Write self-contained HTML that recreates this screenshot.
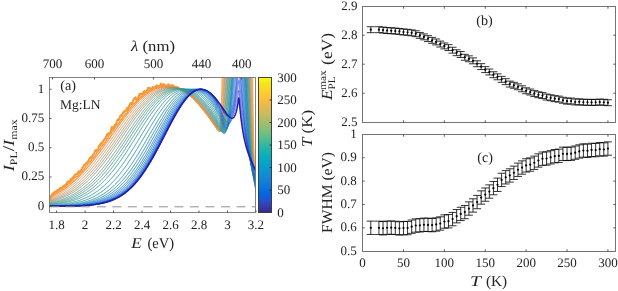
<!DOCTYPE html><html><head><meta charset="utf-8"><style>html,body{margin:0;padding:0;background:#fff;width:618px;height:291px;overflow:hidden}svg{display:block;will-change:transform}text{font-family:"Liberation Serif",serif;fill:#222;text-rendering:geometricPrecision}</style></head><body>
<svg width="618" height="291" viewBox="0 0 618 291">
<defs><clipPath id="ca"><rect x="49.50" y="77.00" width="206.50" height="135.50"/></clipPath>
<linearGradient id="cbg" x1="0" y1="1" x2="0" y2="0">
<stop offset="0.000" stop-color="#352a87"/>
<stop offset="0.048" stop-color="#353dad"/>
<stop offset="0.095" stop-color="#2053d4"/>
<stop offset="0.143" stop-color="#0268e1"/>
<stop offset="0.190" stop-color="#0d75dc"/>
<stop offset="0.238" stop-color="#1481d6"/>
<stop offset="0.286" stop-color="#108ed2"/>
<stop offset="0.333" stop-color="#079ccf"/>
<stop offset="0.381" stop-color="#06a7c6"/>
<stop offset="0.429" stop-color="#0faeb9"/>
<stop offset="0.476" stop-color="#25b5a9"/>
<stop offset="0.524" stop-color="#42bb98"/>
<stop offset="0.571" stop-color="#65be86"/>
<stop offset="0.619" stop-color="#87bf77"/>
<stop offset="0.667" stop-color="#a5be6b"/>
<stop offset="0.714" stop-color="#c0bc60"/>
<stop offset="0.762" stop-color="#d9ba56"/>
<stop offset="0.810" stop-color="#f1b94a"/>
<stop offset="0.857" stop-color="#ffc337"/>
<stop offset="0.905" stop-color="#fad32a"/>
<stop offset="0.952" stop-color="#f5e41d"/>
<stop offset="1.000" stop-color="#f9fb0e"/>
<stop offset="1" stop-color="#f9fb0e"/>
</linearGradient></defs>
<g clip-path="url(#ca)"><polyline fill="none" stroke="#f7992e" stroke-width="2.00" stroke-linejoin="round" points="49.48,199.28 49.83,198.31 50.17,197.49 50.52,196.79 50.86,196.17 51.21,195.63 51.56,195.12 51.90,194.67 52.25,194.28 52.59,193.96 52.94,193.57 53.28,193.22 53.63,192.82 53.98,192.47 54.32,192.25 54.67,192.06 55.01,192.00 55.36,191.70 55.71,191.51 56.05,191.33 56.40,191.00 56.74,190.73 57.09,190.38 57.44,190.13 57.78,189.94 58.13,189.79 58.47,189.60 58.82,189.34 59.17,189.05 59.51,188.80 59.86,188.32 60.20,188.12 60.55,187.92 60.89,187.86 61.24,188.18 61.59,187.91 61.93,187.73 62.28,187.22 62.62,186.65 62.97,186.49 63.32,185.98 63.66,185.95 64.01,185.94 64.35,185.52 64.70,185.46 65.05,185.29 65.39,184.72 65.74,184.74 66.08,184.41 66.43,183.79 66.77,183.36 67.12,182.42 67.47,181.85 67.81,181.44 68.16,181.53 68.50,181.28 68.85,181.60 69.20,181.75 69.54,181.63 69.89,181.29 70.23,180.27 70.58,179.86 70.93,178.68 71.27,178.76 71.62,178.71 71.96,178.30 72.31,178.68 72.66,178.08 73.00,177.29 73.35,177.26 73.69,176.40 74.04,176.21 74.38,175.91 74.73,175.15 75.08,174.86 75.42,174.27 75.77,174.35 76.11,174.53 76.46,173.97 76.81,174.21 77.15,173.86 77.50,172.89 77.84,173.21 78.19,172.38 78.54,171.71 78.88,171.54 79.23,171.18 79.57,171.82 79.92,172.16 80.26,171.99 80.61,171.50 80.96,170.46 81.30,169.62 81.65,169.23 81.99,168.70 82.34,167.73 82.69,167.78 83.03,167.28 83.38,166.04 83.72,165.56 84.07,165.32 84.42,164.82 84.76,165.02 85.11,164.47 85.45,163.49 85.80,163.25 86.15,163.35 86.49,163.17 86.84,162.69 87.18,162.26 87.53,161.61 87.87,161.63 88.22,161.03 88.57,160.68 88.91,159.96 89.26,158.97 89.60,158.64 89.95,158.26 90.30,157.44 90.64,157.68 90.99,157.27 91.33,156.78 91.68,157.77 92.03,156.91 92.37,156.53 92.72,155.77 93.06,154.37 93.41,154.33 93.75,154.35 94.10,153.94 94.45,152.72 94.79,151.58 95.14,151.02 95.48,150.22 95.83,150.87 96.18,151.00 96.52,149.89 96.87,149.94 97.21,150.03 97.56,149.77 97.91,149.66 98.25,148.89 98.60,147.05 98.94,146.49 99.29,145.72 99.63,145.11 99.98,145.28 100.33,144.08 100.67,143.72 101.02,143.84 101.36,142.80 101.71,143.28 102.06,143.00 102.40,142.12 102.75,141.94 103.09,141.23 103.44,140.79 103.79,140.38 104.13,139.63 104.48,139.18 104.82,138.65 105.17,138.22 105.52,138.81 105.86,136.71 106.21,136.29 106.55,136.38 106.90,134.63 107.24,135.90 107.59,135.21 107.94,133.63 108.28,134.10 108.63,133.32 108.97,133.26 109.32,133.25 109.67,133.22 110.01,133.11 110.36,132.44 110.70,131.42 111.05,129.88 111.40,128.01 111.74,127.14 112.09,127.39 112.43,127.26 112.78,128.54 113.12,128.84 113.47,128.60 113.82,127.94 114.16,126.21 114.51,125.55 114.85,124.87 115.20,125.25 115.55,125.14 115.89,124.29 116.24,123.34 116.58,122.51 116.93,121.06 117.28,120.15 117.62,119.94 117.97,119.35 118.31,119.97 118.66,120.00 119.01,119.51 119.35,118.58 119.70,117.61 120.04,116.59 120.39,115.59 120.73,115.42 121.08,115.14 121.43,115.52 121.77,115.88 122.12,114.49 122.46,114.45 122.81,112.90 123.16,112.35 123.50,112.69 123.85,111.53 124.19,112.01 124.54,111.24 124.89,111.04 125.23,111.35 125.58,111.01 125.92,111.08 126.27,109.79 126.61,109.23 126.96,107.93 127.31,108.47 127.65,108.82 128.00,108.07 128.34,108.61 128.69,106.44 129.04,105.76 129.38,105.75 129.73,105.02 130.07,103.83 130.42,103.62 130.77,102.97 131.11,103.00 131.46,103.87 131.80,104.22 132.15,104.08 132.50,102.36 132.84,101.55 133.19,100.29 133.53,99.32 133.88,99.23 134.22,99.10 134.57,98.09 134.92,97.76 135.26,98.21 135.61,97.35 135.95,99.08 136.30,99.52 136.65,99.14 136.99,100.05 137.34,98.70 137.68,98.41 138.03,98.53 138.38,96.52 138.72,95.85 139.07,95.27 139.41,94.05 139.76,95.13 140.10,94.72 140.45,94.24 140.80,93.81 141.14,94.08 141.49,93.86 141.83,93.69 142.18,94.72 142.53,93.30 142.87,93.80 143.22,92.84 143.56,91.81 143.91,91.73 144.26,91.04 144.60,91.13 144.95,92.01 145.29,92.06 145.64,92.17 145.99,92.23 146.33,91.16 146.68,90.69 147.02,90.57 147.37,89.64 147.71,88.33 148.06,88.51 148.41,87.93 148.75,88.47 149.10,88.77 149.44,87.60 149.79,87.98 150.14,88.23 150.48,89.14 150.83,90.38 151.17,90.42 151.52,89.81 151.87,89.70 152.21,88.32 152.56,86.99 152.90,87.50 153.25,87.30 153.59,88.16 153.94,87.80 154.29,87.59 154.63,87.68 154.98,87.30 155.32,87.67 155.67,87.47 156.02,85.92 156.36,85.68 156.71,85.55 157.05,85.55 157.40,86.24 157.75,86.34 158.09,87.54 158.44,86.93 158.78,87.68 159.13,87.55 159.48,87.11 159.82,86.24 160.17,85.20 160.51,84.73 160.86,83.56 161.20,85.08 161.55,86.26 161.90,86.79 162.24,86.76 162.59,86.07 162.93,84.61 163.28,84.00 163.63,85.10 163.97,84.99 164.32,84.43 164.66,85.13 165.01,85.37 165.36,85.61 165.70,86.75 166.05,86.29 166.39,85.76 166.74,85.62 167.08,86.45 167.43,86.27 167.78,85.13 168.12,84.58 168.47,84.28 168.81,84.56 169.16,86.74 169.51,87.25 169.85,86.62 170.20,87.28 170.54,85.77 170.89,85.90 171.24,85.49 171.58,85.03 171.93,85.15 172.27,86.19 172.62,87.24 172.97,87.59 173.31,87.64 173.66,86.84"/><polyline fill="none" stroke="#f7992e" stroke-width="1.10" stroke-linejoin="round" points="173.66,86.84 174.00,85.73 174.35,86.01 174.69,86.36 175.04,86.35 175.39,87.23 175.73,86.75 176.08,87.01 176.42,86.64 176.77,86.82 177.12,86.70 177.46,86.62 177.81,86.75 178.15,87.35 178.50,87.75 178.85,88.07 179.19,88.72 179.54,87.89 179.88,88.70 180.23,89.21 180.57,89.83 180.92,90.34 181.27,90.77 181.61,90.45 181.96,90.74 182.30,91.39 182.65,91.07 183.00,91.18 183.34,91.18 183.69,91.19 184.03,91.31 184.38,91.73 184.73,92.54 185.07,92.74 185.42,92.93 185.76,92.79 186.11,91.82 186.46,91.83 186.80,92.12 187.15,92.90 187.49,93.63 187.84,93.88 188.18,93.91 188.53,94.18 188.88,94.45 189.22,94.74 189.57,94.94 189.91,95.04 190.26,95.50 190.61,96.09 190.95,96.78 191.30,97.24 191.64,97.33 191.99,97.39 192.34,97.57 192.68,97.65 193.03,98.18 193.37,98.63 193.72,99.12 194.06,99.61 194.41,99.77 194.76,100.17 195.10,100.69 195.45,101.09 195.79,101.64 196.14,102.13 196.49,102.40 196.83,102.66 197.18,102.84 197.52,103.14 197.87,103.40 198.22,103.79 198.56,104.39 198.91,104.76 199.25,105.23 199.60,105.69 199.94,106.12 200.29,106.54 200.64,106.89 200.98,107.26 201.33,107.52 201.67,107.95 202.02,108.35 202.37,108.82 202.71,109.37 203.06,109.77 203.40,110.28 203.75,110.72 204.10,111.13 204.44,111.56 204.79,111.99 205.13,112.46 205.48,112.89 205.83,113.37 206.17,113.84 206.52,114.26 206.86,114.75 207.21,115.23 207.55,115.70 207.90,116.20 208.25,116.67 208.59,117.10 208.94,117.58 209.28,118.03 209.63,118.52 209.98,119.02 210.32,119.47 210.67,119.94 211.01,120.42 211.36,120.90 211.71,121.40 212.05,121.90 212.40,122.39 212.74,122.89 213.09,123.37 213.43,123.85 213.78,124.34 214.13,124.84 214.47,125.34 214.82,125.84 215.16,126.35 215.51,126.85 215.86,127.36 216.20,127.87 216.55,128.39 216.89,128.91 217.24,129.43 217.59,129.93"/><polyline fill="none" stroke="#f7992e" stroke-width="0.75" stroke-linejoin="round" points="217.59,129.93 217.93,130.40 218.28,130.79 218.62,131.04 218.97,131.04 219.32,130.61 219.66,129.53 220.01,127.51 220.35,124.20 220.70,119.22 221.04,112.17 221.39,102.69 221.74,90.49 222.08,75.37 222.43,57.27 222.77,54.23 223.12,54.23 223.47,54.23 223.81,54.23 224.16,54.23 224.50,54.23 224.85,54.23 225.20,54.23 225.54,54.23 225.89,54.23 226.23,54.23 226.58,54.23 226.92,54.23 227.27,54.23 227.62,54.23 227.96,54.23 228.31,54.23 228.65,54.23 229.00,54.23 229.35,54.23 229.69,54.23 230.04,54.23 230.38,54.23 230.73,54.23 231.08,54.23 231.42,54.23 231.77,54.23 232.11,54.23 232.46,54.23 232.81,54.23 233.15,54.23 233.50,54.23 233.84,54.23 234.19,54.23 234.53,54.23 234.88,54.23 235.23,54.23 235.57,54.23 235.92,54.23 236.26,54.23 236.61,54.23 236.96,54.23 237.30,54.23 237.65,54.23 237.99,54.23 238.34,54.23 238.69,54.23 239.03,54.23 239.38,54.23 239.72,54.23 240.07,54.23 240.41,54.23 240.76,54.23 241.11,54.23 241.45,54.23 241.80,54.23 242.14,54.23 242.49,54.23 242.84,54.23 243.18,54.23 243.53,54.23 243.87,54.23 244.22,54.23 244.57,54.23 244.91,54.23 245.26,54.23 245.60,54.23 245.95,54.23 246.30,54.23 246.64,54.23 246.99,54.23 247.33,54.23 247.68,54.23 248.02,54.23 248.37,54.23 248.72,54.23 249.06,54.23 249.41,54.23 249.75,54.23 250.10,54.23 250.45,54.23 250.79,54.23 251.14,54.23 251.48,54.23 251.83,54.23 252.18,54.23 252.52,63.79 252.87,90.48 253.21,113.25 253.56,131.95 253.90,146.68 254.25,157.78 254.60,165.76 254.94,171.23 255.29,174.82 255.63,177.07 255.98,178.47 256.33,179.34 256.67,179.92"/><polyline fill="none" stroke="#f4993f" stroke-width="1.40" stroke-linejoin="round" points="49.48,199.95 49.83,199.12 50.17,198.39 50.52,197.78 50.86,197.24 51.21,196.74 51.56,196.31 51.90,195.89 52.25,195.56 52.59,195.24 52.94,194.94 53.28,194.66 53.63,194.38 53.98,194.11 54.32,193.83 54.67,193.58 55.01,193.29 55.36,193.03 55.71,192.79 56.05,192.56 56.40,192.39 56.74,192.25 57.09,192.11 57.44,191.88 57.78,191.60 58.13,191.38 58.47,191.15 58.82,191.02 59.17,190.78 59.51,190.56 59.86,190.32 60.20,190.07 60.55,189.96 60.89,189.75 61.24,189.41 61.59,189.09 61.93,188.84 62.28,188.62 62.62,188.59 62.97,188.33 63.32,187.91 63.66,187.71 64.01,187.49 64.35,187.31 64.70,187.30 65.05,187.07 65.39,186.72 65.74,186.36 66.08,186.20 66.43,185.73 66.77,185.35 67.12,185.05 67.47,184.63 67.81,184.08 68.16,183.85 68.50,183.79 68.85,183.32 69.20,183.48 69.54,183.15 69.89,182.92 70.23,182.66 70.58,182.28 70.93,181.95 71.27,181.35 71.62,181.09 71.96,180.68 72.31,180.37 72.66,180.46 73.00,180.15 73.35,179.78 73.69,179.54 74.04,178.78 74.38,177.90 74.73,177.61 75.08,177.22 75.42,177.00 75.77,177.04 76.11,177.08 76.46,176.58 76.81,176.39 77.15,176.77 77.50,176.25 77.84,176.27 78.19,175.76 78.54,174.97 78.88,174.24 79.23,173.85 79.57,173.54 79.92,173.61 80.26,173.32 80.61,172.74 80.96,172.44 81.30,172.02 81.65,172.04 81.99,171.53 82.34,171.19 82.69,170.54 83.03,170.04 83.38,169.89 83.72,169.50 84.07,169.16 84.42,168.93 84.76,168.73 85.11,167.96 85.45,167.38 85.80,166.39 86.15,165.91 86.49,165.72 86.84,165.22 87.18,165.03 87.53,164.39 87.87,163.89 88.22,163.67 88.57,163.22 88.91,163.10 89.26,162.67 89.60,162.04 89.95,161.53 90.30,161.50 90.64,161.10 90.99,160.34 91.33,160.41 91.68,159.09 92.03,158.67 92.37,158.68 92.72,158.37 93.06,158.08 93.41,158.00 93.75,157.65 94.10,156.51 94.45,156.68 94.79,156.23 95.14,155.97 95.48,155.71 95.83,154.78 96.18,153.92 96.52,153.00 96.87,152.61 97.21,152.28 97.56,152.14 97.91,151.21 98.25,150.59 98.60,150.74 98.94,150.38 99.29,150.03 99.63,150.01 99.98,149.10 100.33,148.20 100.67,148.51 101.02,147.33 101.36,146.23 101.71,146.12 102.06,144.99 102.40,145.08 102.75,145.39 103.09,144.60 103.44,144.38 103.79,143.81 104.13,142.79 104.48,142.81 104.82,142.65 105.17,142.30 105.52,141.85 105.86,140.70 106.21,139.77 106.55,139.35 106.90,139.04 107.24,138.66 107.59,138.84 107.94,138.22 108.28,137.58 108.63,137.02 108.97,135.99 109.32,135.10 109.67,134.71 110.01,134.39 110.36,134.01 110.70,133.93 111.05,133.61 111.40,133.29 111.74,132.09 112.09,131.28 112.43,130.72 112.78,130.19 113.12,130.42 113.47,130.09 113.82,129.44 114.16,128.90 114.51,128.15 114.85,127.79 115.20,127.37 115.55,126.62 115.89,126.72 116.24,125.99 116.58,125.54 116.93,125.42 117.28,124.75 117.62,124.86 117.97,124.13 118.31,123.83 118.66,123.58 119.01,122.37 119.35,122.78 119.70,121.75 120.04,120.80 120.39,120.35 120.73,119.40 121.08,119.58 121.43,119.79 121.77,119.09 122.12,118.72 122.46,118.06 122.81,116.59 123.16,116.75 123.50,116.23 123.85,115.70 124.19,115.76 124.54,115.43 124.89,115.08 125.23,114.20 125.58,113.50 125.92,113.63 126.27,113.60 126.61,113.45 126.96,113.27 127.31,112.09 127.65,110.79 128.00,110.98 128.34,110.18 128.69,109.61 129.04,109.34 129.38,108.33 129.73,108.03 130.07,107.73 130.42,107.65 130.77,107.09 131.11,106.89 131.46,106.78 131.80,105.84 132.15,105.32 132.50,104.57 132.84,103.79 133.19,103.70 133.53,103.79 133.88,104.12 134.22,103.75 134.57,103.43 134.92,103.15 135.26,101.97 135.61,102.10 135.95,102.03 136.30,101.68 136.65,101.49 136.99,100.75 137.34,100.26 137.68,99.98 138.03,100.25 138.38,100.22 138.72,99.50 139.07,98.74 139.41,97.91 139.76,97.40 140.10,96.65 140.45,96.81 140.80,97.39 141.14,96.98 141.49,97.37 141.83,96.57 142.18,95.98 142.53,95.43 142.87,94.69 143.22,94.88 143.56,94.52 143.91,94.92 144.26,95.08 144.60,94.32 144.95,93.62 145.29,92.62 145.64,92.03 145.99,91.99 146.33,91.70 146.68,91.98 147.02,92.39 147.37,92.12 147.71,92.42 148.06,91.75 148.41,90.90 148.75,90.64 149.10,90.40 149.44,90.58 149.79,90.38 150.14,90.54 150.48,90.10 150.83,89.77 151.17,89.97 151.52,89.24 151.87,89.25 152.21,89.41 152.56,88.84 152.90,88.93 153.25,88.40 153.59,87.84 153.94,87.89 154.29,87.44 154.63,87.11 154.98,87.05 155.32,87.25 155.67,87.37 156.02,87.59 156.36,87.22 156.71,87.21 157.05,87.90 157.40,87.72 157.75,87.55 158.09,87.06 158.44,85.80 158.78,85.60 159.13,85.85 159.48,85.67 159.82,86.10 160.17,85.91 160.51,85.66 160.86,85.75 161.20,85.60 161.55,85.90 161.90,86.35 162.24,86.42 162.59,87.10 162.93,86.93 163.28,86.17 163.63,85.55 163.97,84.75 164.32,85.08 164.66,85.81 165.01,85.83 165.36,86.34 165.70,85.86 166.05,86.06 166.39,86.64 166.74,86.02 167.08,86.18 167.43,85.53 167.78,85.76 168.12,86.23 168.47,86.05 168.81,85.92 169.16,85.75 169.51,85.45 169.85,86.04 170.20,85.91 170.54,85.53 170.89,85.86 171.24,85.60 171.58,85.65 171.93,86.25 172.27,85.50 172.62,85.16 172.97,85.61 173.31,85.22 173.66,85.41"/><polyline fill="none" stroke="#f4993f" stroke-width="1.10" stroke-linejoin="round" points="173.66,85.41 174.00,86.28 174.35,86.11 174.69,86.52 175.04,87.14 175.39,86.70 175.73,87.11 176.08,87.55 176.42,87.99 176.77,88.29 177.12,88.12 177.46,87.88 177.81,87.68 178.15,87.83 178.50,87.80 178.85,87.82 179.19,88.12 179.54,88.34 179.88,88.53 180.23,88.95 180.57,89.04 180.92,89.16 181.27,89.84 181.61,89.69 181.96,90.26 182.30,90.14 182.65,90.20 183.00,90.84 183.34,90.55 183.69,91.37 184.03,91.39 184.38,91.23 184.73,91.61 185.07,91.61 185.42,91.78 185.76,92.26 186.11,92.41 186.46,92.54 186.80,92.71 187.15,92.95 187.49,93.21 187.84,93.38 188.18,94.22 188.53,94.45 188.88,94.98 189.22,95.61 189.57,95.34 189.91,95.57 190.26,95.48 190.61,95.62 190.95,96.09 191.30,96.47 191.64,96.99 191.99,97.29 192.34,97.65 192.68,97.80 193.03,98.11 193.37,98.41 193.72,98.79 194.06,99.24 194.41,99.67 194.76,99.97 195.10,100.34 195.45,100.70 195.79,101.00 196.14,101.37 196.49,101.68 196.83,102.06 197.18,102.42 197.52,102.84 197.87,103.22 198.22,103.59 198.56,103.93 198.91,104.28 199.25,104.70 199.60,105.17 199.94,105.56 200.29,105.96 200.64,106.41 200.98,106.80 201.33,107.33 201.67,107.78 202.02,108.22 202.37,108.59 202.71,109.03 203.06,109.47 203.40,109.87 203.75,110.35 204.10,110.76 204.44,111.20 204.79,111.67 205.13,112.11 205.48,112.55 205.83,113.02 206.17,113.47 206.52,113.91 206.86,114.37 207.21,114.83 207.55,115.30 207.90,115.76 208.25,116.24 208.59,116.71 208.94,117.20 209.28,117.68 209.63,118.16 209.98,118.64 210.32,119.10 210.67,119.58 211.01,120.06 211.36,120.54 211.71,121.03 212.05,121.51 212.40,122.01 212.74,122.51 213.09,123.00 213.43,123.49 213.78,123.99 214.13,124.48 214.47,124.99 214.82,125.50 215.16,126.01 215.51,126.52 215.86,127.04 216.20,127.56 216.55,128.09 216.89,128.61 217.24,129.15 217.59,129.67"/><polyline fill="none" stroke="#f4993f" stroke-width="0.75" stroke-linejoin="round" points="217.59,129.67 217.93,130.19 218.28,130.67 218.62,131.07 218.97,131.34 219.32,131.38 219.66,131.06 220.01,130.21 220.35,128.60 220.70,125.98 221.04,122.05 221.39,116.51 221.74,109.05 222.08,99.43 222.43,87.44 222.77,72.95 223.12,55.96 223.47,54.23 223.81,54.23 224.16,54.23 224.50,54.23 224.85,54.23 225.20,54.23 225.54,54.23 225.89,54.23 226.23,54.23 226.58,54.23 226.92,54.23 227.27,54.23 227.62,54.23 227.96,54.23 228.31,54.23 228.65,54.23 229.00,54.23 229.35,54.23 229.69,54.23 230.04,54.23 230.38,54.23 230.73,54.23 231.08,54.23 231.42,54.23 231.77,54.23 232.11,54.23 232.46,54.23 232.81,54.23 233.15,54.23 233.50,54.23 233.84,54.23 234.19,54.23 234.53,54.23 234.88,54.23 235.23,54.23 235.57,54.23 235.92,54.23 236.26,54.23 236.61,54.23 236.96,54.23 237.30,54.23 237.65,54.23 237.99,54.23 238.34,54.23 238.69,54.23 239.03,54.23 239.38,54.23 239.72,54.23 240.07,54.23 240.41,54.23 240.76,54.23 241.11,54.23 241.45,54.23 241.80,54.23 242.14,54.23 242.49,54.23 242.84,54.23 243.18,54.23 243.53,54.23 243.87,54.23 244.22,54.23 244.57,54.23 244.91,54.23 245.26,54.23 245.60,54.23 245.95,54.23 246.30,54.23 246.64,54.23 246.99,54.23 247.33,54.23 247.68,54.23 248.02,54.23 248.37,54.23 248.72,54.23 249.06,54.23 249.41,54.23 249.75,54.23 250.10,54.23 250.45,54.23 250.79,54.23 251.14,54.23 251.48,54.23 251.83,54.23 252.18,77.11 252.52,99.94 252.87,119.42 253.21,135.49 253.56,148.30 253.90,158.13 254.25,165.39 254.60,170.55 254.94,174.08 255.29,176.43 255.63,177.96 255.98,178.96 256.33,179.64 256.67,180.14"/><polyline fill="none" stroke="#f09951" stroke-width="1.20" stroke-linejoin="round" points="49.48,200.50 49.83,199.78 50.17,199.15 50.52,198.60 50.86,198.12 51.21,197.69 51.56,197.31 51.90,196.96 52.25,196.64 52.59,196.35 52.94,196.08 53.28,195.82 53.63,195.58 53.98,195.35 54.32,195.12 54.67,194.91 55.01,194.69 55.36,194.49 55.71,194.28 56.05,194.08 56.40,193.88 56.74,193.67 57.09,193.47 57.44,193.27 57.78,193.07 58.13,192.87 58.47,192.66 58.82,192.46 59.17,192.25 59.51,192.04 59.86,191.83 60.20,191.62 60.55,191.41 60.89,191.19 61.24,190.97 61.59,190.75 61.93,190.53 62.28,190.31 62.62,190.08 62.97,189.85 63.32,189.62 63.66,189.39 64.01,189.15 64.35,188.91 64.70,188.67 65.05,188.43 65.39,188.19 65.74,187.94 66.08,187.69 66.43,187.44 66.77,187.18 67.12,186.92 67.47,186.66 67.81,186.40 68.16,186.14 68.50,185.87 68.85,185.60 69.20,185.33 69.54,185.05 69.89,184.78 70.23,184.50 70.58,184.22 70.93,183.93 71.27,183.64 71.62,183.35 71.96,183.06 72.31,182.77 72.66,182.47 73.00,182.17 73.35,181.87 73.69,181.57 74.04,181.26 74.38,180.95 74.73,180.64 75.08,180.32 75.42,180.00 75.77,179.68 76.11,179.36 76.46,179.04 76.81,178.71 77.15,178.38 77.50,178.05 77.84,177.71 78.19,177.38 78.54,177.04 78.88,176.70 79.23,176.35 79.57,176.00 79.92,175.65 80.26,175.30 80.61,174.95 80.96,174.59 81.30,174.23 81.65,173.87 81.99,173.50 82.34,173.14 82.69,172.77 83.03,172.40 83.38,172.02 83.72,171.65 84.07,171.27 84.42,170.89 84.76,170.50 85.11,170.12 85.45,169.73 85.80,169.34 86.15,168.95 86.49,168.55 86.84,168.16 87.18,167.76 87.53,167.36 87.87,166.95 88.22,166.55 88.57,166.14 88.91,165.73 89.26,165.32 89.60,164.90 89.95,164.49 90.30,164.07 90.64,163.65 90.99,163.22 91.33,162.80 91.68,162.37 92.03,161.94 92.37,161.51 92.72,161.08 93.06,160.65 93.41,160.21 93.75,159.77 94.10,159.33 94.45,158.89 94.79,158.45 95.14,158.00 95.48,157.56 95.83,157.11 96.18,156.66 96.52,156.21 96.87,155.75 97.21,155.30 97.56,154.84 97.91,154.38 98.25,153.92 98.60,153.46 98.94,153.00 99.29,152.54 99.63,152.07 99.98,151.60 100.33,151.14 100.67,150.67 101.02,150.20 101.36,149.73 101.71,149.25 102.06,148.78 102.40,148.30 102.75,147.83 103.09,147.35 103.44,146.87 103.79,146.39 104.13,145.91 104.48,145.43 104.82,144.95 105.17,144.47 105.52,143.99 105.86,143.50 106.21,143.02 106.55,142.53 106.90,142.05 107.24,141.56 107.59,141.08 107.94,140.59 108.28,140.10 108.63,139.61 108.97,139.13 109.32,138.64 109.67,138.15 110.01,137.66 110.36,137.17 110.70,136.68 111.05,136.19 111.40,135.70 111.74,135.21 112.09,134.72 112.43,134.23 112.78,133.75 113.12,133.26 113.47,132.77 113.82,132.28 114.16,131.79 114.51,131.30 114.85,130.82 115.20,130.33 115.55,129.84 115.89,129.36 116.24,128.87 116.58,128.39 116.93,127.90 117.28,127.42 117.62,126.94 117.97,126.46 118.31,125.98 118.66,125.50 119.01,125.02 119.35,124.54 119.70,124.06 120.04,123.59 120.39,123.11 120.73,122.64 121.08,122.17 121.43,121.70 121.77,121.23 122.12,120.76 122.46,120.30 122.81,119.83 123.16,119.37 123.50,118.91 123.85,118.45 124.19,117.99 124.54,117.53 124.89,117.08 125.23,116.62 125.58,116.17 125.92,115.72 126.27,115.28 126.61,114.83 126.96,114.39 127.31,113.95 127.65,113.51 128.00,113.07 128.34,112.64 128.69,112.20 129.04,111.77 129.38,111.35 129.73,110.92 130.07,110.50 130.42,110.08 130.77,109.66 131.11,109.25 131.46,108.84 131.80,108.43 132.15,108.02 132.50,107.62 132.84,107.21 133.19,106.82 133.53,106.42 133.88,106.03 134.22,105.64 134.57,105.25 134.92,104.87 135.26,104.49 135.61,104.11 135.95,103.74 136.30,103.37 136.65,103.00 136.99,102.64 137.34,102.28 137.68,101.92 138.03,101.56 138.38,101.21 138.72,100.87 139.07,100.52 139.41,100.18 139.76,99.85 140.10,99.51 140.45,99.18 140.80,98.86 141.14,98.54 141.49,98.22 141.83,97.90 142.18,97.59 142.53,97.29 142.87,96.98 143.22,96.68 143.56,96.39 143.91,96.10 144.26,95.81 144.60,95.53 144.95,95.25 145.29,94.97 145.64,94.70 145.99,94.44 146.33,94.17 146.68,93.91 147.02,93.66 147.37,93.41 147.71,93.16 148.06,92.92 148.41,92.68 148.75,92.45 149.10,92.22 149.44,91.99 149.79,91.77 150.14,91.56 150.48,91.35 150.83,91.14 151.17,90.93 151.52,90.73 151.87,90.54 152.21,90.35 152.56,90.16 152.90,89.98 153.25,89.80 153.59,89.63 153.94,89.46 154.29,89.30 154.63,89.14 154.98,88.98 155.32,88.83 155.67,88.69 156.02,88.54 156.36,88.41 156.71,88.27 157.05,88.14 157.40,88.02 157.75,87.90 158.09,87.78 158.44,87.67 158.78,87.57 159.13,87.46 159.48,87.37 159.82,87.27 160.17,87.18 160.51,87.10 160.86,87.02 161.20,86.94 161.55,86.87 161.90,86.80 162.24,86.74 162.59,86.68 162.93,86.62 163.28,86.57 163.63,86.52 163.97,86.48 164.32,86.44 164.66,86.40 165.01,86.37 165.36,86.34 165.70,86.32 166.05,86.30 166.39,86.28 166.74,86.27 167.08,86.26 167.43,86.25 167.78,86.25 168.12,86.25 168.47,86.25 168.81,86.26 169.16,86.26 169.51,86.28 169.85,86.29 170.20,86.31 170.54,86.34 170.89,86.37 171.24,86.40 171.58,86.43 171.93,86.48 172.27,86.52 172.62,86.57 172.97,86.63 173.31,86.69 173.66,86.75"/><polyline fill="none" stroke="#f09951" stroke-width="1.10" stroke-linejoin="round" points="173.66,86.75 174.00,86.82 174.35,86.89 174.69,86.97 175.04,87.05 175.39,87.14 175.73,87.23 176.08,87.33 176.42,87.43 176.77,87.53 177.12,87.64 177.46,87.76 177.81,87.88 178.15,88.00 178.50,88.14 178.85,88.27 179.19,88.41 179.54,88.55 179.88,88.70 180.23,88.86 180.57,89.02 180.92,89.18 181.27,89.35 181.61,89.53 181.96,89.70 182.30,89.89 182.65,90.08 183.00,90.27 183.34,90.47 183.69,90.67 184.03,90.88 184.38,91.09 184.73,91.31 185.07,91.53 185.42,91.76 185.76,91.99 186.11,92.23 186.46,92.47 186.80,92.71 187.15,92.96 187.49,93.22 187.84,93.48 188.18,93.74 188.53,94.01 188.88,94.29 189.22,94.56 189.57,94.85 189.91,95.13 190.26,95.42 190.61,95.72 190.95,96.02 191.30,96.33 191.64,96.63 191.99,96.95 192.34,97.27 192.68,97.59 193.03,97.91 193.37,98.24 193.72,98.58 194.06,98.92 194.41,99.26 194.76,99.61 195.10,99.96 195.45,100.31 195.79,100.67 196.14,101.03 196.49,101.40 196.83,101.77 197.18,102.14 197.52,102.52 197.87,102.90 198.22,103.29 198.56,103.68 198.91,104.07 199.25,104.46 199.60,104.86 199.94,105.27 200.29,105.67 200.64,106.08 200.98,106.49 201.33,106.91 201.67,107.33 202.02,107.75 202.37,108.18 202.71,108.60 203.06,109.04 203.40,109.47 203.75,109.91 204.10,110.35 204.44,110.79 204.79,111.24 205.13,111.68 205.48,112.13 205.83,112.59 206.17,113.04 206.52,113.50 206.86,113.96 207.21,114.43 207.55,114.89 207.90,115.36 208.25,115.83 208.59,116.30 208.94,116.78 209.28,117.25 209.63,117.73 209.98,118.21 210.32,118.69 210.67,119.18 211.01,119.66 211.36,120.15 211.71,120.64 212.05,121.13 212.40,121.63 212.74,122.12 213.09,122.62 213.43,123.12 213.78,123.62 214.13,124.12 214.47,124.63 214.82,125.14 215.16,125.65 215.51,126.17 215.86,126.69 216.20,127.22 216.55,127.76 216.89,128.30 217.24,128.84 217.59,129.38"/><polyline fill="none" stroke="#f09951" stroke-width="0.75" stroke-linejoin="round" points="217.59,129.38 217.93,129.92 218.28,130.44 218.62,130.91 218.97,131.30 219.32,131.56 219.66,131.61 220.01,131.33 220.35,130.61 220.70,129.27 221.04,127.11 221.39,123.93 221.74,119.49 222.08,113.56 222.43,105.95 222.77,96.45 223.12,84.96 223.47,71.38 223.81,55.72 224.16,54.23 224.50,54.23 224.85,54.23 225.20,54.23 225.54,54.23 225.89,54.23 226.23,54.23 226.58,54.23 226.92,54.23 227.27,54.23 227.62,54.23 227.96,54.23 228.31,54.23 228.65,54.23 229.00,54.23 229.35,54.23 229.69,54.23 230.04,54.23 230.38,54.23 230.73,54.23 231.08,54.23 231.42,54.23 231.77,54.23 232.11,54.23 232.46,54.23 232.81,54.23 233.15,54.23 233.50,54.23 233.84,54.23 234.19,54.23 234.53,54.23 234.88,54.23 235.23,54.23 235.57,54.23 235.92,54.23 236.26,54.23 236.61,54.23 236.96,54.23 237.30,54.23 237.65,54.23 237.99,54.23 238.34,54.23 238.69,54.23 239.03,54.23 239.38,54.23 239.72,54.23 240.07,54.23 240.41,54.23 240.76,54.23 241.11,54.23 241.45,54.23 241.80,54.23 242.14,54.23 242.49,54.23 242.84,54.23 243.18,54.23 243.53,54.23 243.87,54.23 244.22,54.23 244.57,54.23 244.91,54.23 245.26,54.23 245.60,54.23 245.95,54.23 246.30,54.23 246.64,54.23 246.99,54.23 247.33,54.23 247.68,54.23 248.02,54.23 248.37,54.23 248.72,54.23 249.06,54.23 249.41,54.23 249.75,54.23 250.10,54.23 250.45,54.23 250.79,54.23 251.14,54.23 251.48,66.13 251.83,88.15 252.18,107.50 252.52,124.06 252.87,137.86 253.21,149.03 253.56,157.80 253.90,164.48 254.25,169.42 254.60,172.98 254.94,175.47 255.29,177.18 255.63,178.37 255.98,179.20 256.33,179.80 256.67,180.28"/><polyline fill="none" stroke="#dc955a" stroke-width="1.00" stroke-linejoin="round" points="49.48,201.13 49.83,200.52 50.17,199.99 50.52,199.52 50.86,199.10 51.21,198.74 51.56,198.40 51.90,198.10 52.25,197.83 52.59,197.57 52.94,197.33 53.28,197.10 53.63,196.89 53.98,196.68 54.32,196.48 54.67,196.29 55.01,196.09 55.36,195.91 55.71,195.72 56.05,195.54 56.40,195.35 56.74,195.17 57.09,194.99 57.44,194.80 57.78,194.62 58.13,194.43 58.47,194.25 58.82,194.06 59.17,193.87 59.51,193.68 59.86,193.48 60.20,193.29 60.55,193.09 60.89,192.89 61.24,192.69 61.59,192.49 61.93,192.29 62.28,192.08 62.62,191.87 62.97,191.66 63.32,191.44 63.66,191.23 64.01,191.01 64.35,190.79 64.70,190.57 65.05,190.34 65.39,190.11 65.74,189.88 66.08,189.65 66.43,189.42 66.77,189.18 67.12,188.94 67.47,188.70 67.81,188.45 68.16,188.20 68.50,187.96 68.85,187.70 69.20,187.45 69.54,187.19 69.89,186.93 70.23,186.67 70.58,186.41 70.93,186.14 71.27,185.87 71.62,185.60 71.96,185.32 72.31,185.05 72.66,184.77 73.00,184.49 73.35,184.20 73.69,183.91 74.04,183.62 74.38,183.33 74.73,183.04 75.08,182.74 75.42,182.44 75.77,182.14 76.11,181.83 76.46,181.52 76.81,181.21 77.15,180.90 77.50,180.59 77.84,180.27 78.19,179.95 78.54,179.62 78.88,179.30 79.23,178.97 79.57,178.64 79.92,178.31 80.26,177.97 80.61,177.63 80.96,177.29 81.30,176.95 81.65,176.60 81.99,176.25 82.34,175.90 82.69,175.55 83.03,175.19 83.38,174.84 83.72,174.48 84.07,174.11 84.42,173.75 84.76,173.38 85.11,173.01 85.45,172.63 85.80,172.26 86.15,171.88 86.49,171.50 86.84,171.12 87.18,170.73 87.53,170.34 87.87,169.95 88.22,169.56 88.57,169.17 88.91,168.77 89.26,168.37 89.60,167.97 89.95,167.57 90.30,167.16 90.64,166.75 90.99,166.34 91.33,165.93 91.68,165.51 92.03,165.10 92.37,164.68 92.72,164.26 93.06,163.83 93.41,163.41 93.75,162.98 94.10,162.55 94.45,162.12 94.79,161.69 95.14,161.25 95.48,160.81 95.83,160.37 96.18,159.93 96.52,159.49 96.87,159.04 97.21,158.60 97.56,158.15 97.91,157.70 98.25,157.25 98.60,156.79 98.94,156.34 99.29,155.88 99.63,155.42 99.98,154.96 100.33,154.50 100.67,154.04 101.02,153.57 101.36,153.11 101.71,152.64 102.06,152.17 102.40,151.70 102.75,151.23 103.09,150.76 103.44,150.28 103.79,149.81 104.13,149.33 104.48,148.85 104.82,148.37 105.17,147.89 105.52,147.41 105.86,146.93 106.21,146.45 106.55,145.97 106.90,145.48 107.24,145.00 107.59,144.51 107.94,144.02 108.28,143.54 108.63,143.05 108.97,142.56 109.32,142.07 109.67,141.58 110.01,141.09 110.36,140.60 110.70,140.11 111.05,139.61 111.40,139.12 111.74,138.63 112.09,138.14 112.43,137.64 112.78,137.15 113.12,136.66 113.47,136.17 113.82,135.67 114.16,135.18 114.51,134.69 114.85,134.19 115.20,133.70 115.55,133.21 115.89,132.72 116.24,132.22 116.58,131.73 116.93,131.24 117.28,130.75 117.62,130.26 117.97,129.77 118.31,129.28 118.66,128.79 119.01,128.30 119.35,127.82 119.70,127.33 120.04,126.85 120.39,126.36 120.73,125.88 121.08,125.40 121.43,124.91 121.77,124.43 122.12,123.95 122.46,123.48 122.81,123.00 123.16,122.52 123.50,122.05 123.85,121.58 124.19,121.10 124.54,120.63 124.89,120.16 125.23,119.70 125.58,119.23 125.92,118.77 126.27,118.31 126.61,117.85 126.96,117.39 127.31,116.93 127.65,116.48 128.00,116.02 128.34,115.57 128.69,115.13 129.04,114.68 129.38,114.23 129.73,113.79 130.07,113.35 130.42,112.91 130.77,112.48 131.11,112.05 131.46,111.62 131.80,111.19 132.15,110.76 132.50,110.34 132.84,109.92 133.19,109.50 133.53,109.09 133.88,108.68 134.22,108.27 134.57,107.86 134.92,107.46 135.26,107.06 135.61,106.66 135.95,106.26 136.30,105.87 136.65,105.48 136.99,105.10 137.34,104.72 137.68,104.34 138.03,103.96 138.38,103.59 138.72,103.22 139.07,102.85 139.41,102.49 139.76,102.13 140.10,101.78 140.45,101.42 140.80,101.08 141.14,100.73 141.49,100.39 141.83,100.05 142.18,99.72 142.53,99.39 142.87,99.06 143.22,98.74 143.56,98.42 143.91,98.11 144.26,97.80 144.60,97.49 144.95,97.19 145.29,96.89 145.64,96.59 145.99,96.30 146.33,96.02 146.68,95.73 147.02,95.46 147.37,95.18 147.71,94.91 148.06,94.65 148.41,94.38 148.75,94.13 149.10,93.87 149.44,93.62 149.79,93.38 150.14,93.14 150.48,92.90 150.83,92.67 151.17,92.44 151.52,92.22 151.87,92.00 152.21,91.79 152.56,91.58 152.90,91.37 153.25,91.17 153.59,90.98 153.94,90.78 154.29,90.60 154.63,90.41 154.98,90.24 155.32,90.06 155.67,89.89 156.02,89.73 156.36,89.57 156.71,89.41 157.05,89.26 157.40,89.11 157.75,88.97 158.09,88.83 158.44,88.70 158.78,88.57 159.13,88.45 159.48,88.33 159.82,88.21 160.17,88.10 160.51,87.99 160.86,87.89 161.20,87.80 161.55,87.70 161.90,87.61 162.24,87.53 162.59,87.45 162.93,87.38 163.28,87.31 163.63,87.24 163.97,87.18 164.32,87.12 164.66,87.06 165.01,87.02 165.36,86.97 165.70,86.93 166.05,86.89 166.39,86.86 166.74,86.83 167.08,86.80 167.43,86.78 167.78,86.77 168.12,86.75 168.47,86.74 168.81,86.73 169.16,86.73 169.51,86.73 169.85,86.73 170.20,86.74 170.54,86.75 170.89,86.76 171.24,86.78 171.58,86.80 171.93,86.82 172.27,86.85 172.62,86.89 172.97,86.93 173.31,86.97 173.66,87.02 174.00,87.07 174.35,87.13 174.69,87.19 175.04,87.25 175.39,87.32 175.73,87.40 176.08,87.48 176.42,87.57 176.77,87.66 177.12,87.75 177.46,87.85 177.81,87.96 178.15,88.07 178.50,88.18 178.85,88.31 179.19,88.43 179.54,88.56 179.88,88.70 180.23,88.84 180.57,88.98 180.92,89.13 181.27,89.29 181.61,89.45 181.96,89.61 182.30,89.78 182.65,89.96 183.00,90.14 183.34,90.33 183.69,90.52 184.03,90.71 184.38,90.91 184.73,91.12 185.07,91.33 185.42,91.54 185.76,91.76 186.11,91.99 186.46,92.22 186.80,92.45 187.15,92.69 187.49,92.94 187.84,93.19 188.18,93.44 188.53,93.70 188.88,93.96 189.22,94.23 189.57,94.51 189.91,94.78 190.26,95.07 190.61,95.35 190.95,95.65 191.30,95.94 191.64,96.24 191.99,96.55 192.34,96.86 192.68,97.17 193.03,97.49 193.37,97.82 193.72,98.14 194.06,98.48 194.41,98.81 194.76,99.15 195.10,99.50 195.45,99.85 195.79,100.20 196.14,100.56 196.49,100.92 196.83,101.28 197.18,101.65 197.52,102.03 197.87,102.40 198.22,102.78 198.56,103.17 198.91,103.56 199.25,103.95 199.60,104.34 199.94,104.74 200.29,105.15 200.64,105.55 200.98,105.96 201.33,106.38 201.67,106.79 202.02,107.21 202.37,107.64 202.71,108.06 203.06,108.49 203.40,108.93 203.75,109.36 204.10,109.80 204.44,110.24 204.79,110.69 205.13,111.14 205.48,111.59 205.83,112.04 206.17,112.50 206.52,112.95 206.86,113.42 207.21,113.88 207.55,114.35 207.90,114.81 208.25,115.29 208.59,115.76 208.94,116.23 209.28,116.71 209.63,117.19 209.98,117.67 210.32,118.16 210.67,118.65 211.01,119.13 211.36,119.62 211.71,120.12 212.05,120.61 212.40,121.11 212.74,121.61 213.09,122.11 213.43,122.61 213.78,123.11 214.13,123.62 214.47,124.13 214.82,124.65 215.16,125.17 215.51,125.69 215.86,126.22 216.20,126.76 216.55,127.30 216.89,127.84 217.24,128.40 217.59,128.95"/><polyline fill="none" stroke="#dc955a" stroke-width="0.75" stroke-linejoin="round" points="217.59,128.95 217.93,129.50 218.28,130.03 218.62,130.54 218.97,130.98 219.32,131.34 219.66,131.55 220.01,131.56 220.35,131.28 220.70,130.60 221.04,129.41 221.39,127.56 221.74,124.89 222.08,121.25 222.43,116.47 222.77,110.39 223.12,102.87 223.47,93.78 223.81,83.05 224.16,70.62 224.50,56.51 224.85,54.23 225.20,54.23 225.54,54.23 225.89,54.23 226.23,54.23 226.58,54.23 226.92,54.23 227.27,54.23 227.62,54.23 227.96,54.23 228.31,54.23 228.65,54.23 229.00,54.23 229.35,54.23 229.69,54.23 230.04,54.23 230.38,54.23 230.73,54.23 231.08,54.23 231.42,54.23 231.77,54.23 232.11,54.23 232.46,54.23 232.81,54.23 233.15,54.23 233.50,54.23 233.84,54.23 234.19,54.23 234.53,54.23 234.88,54.23 235.23,54.23 235.57,54.23 235.92,54.23 236.26,54.23 236.61,54.23 236.96,54.23 237.30,54.23 237.65,54.23 237.99,54.23 238.34,54.23 238.69,54.23 239.03,54.23 239.38,54.23 239.72,54.23 240.07,54.23 240.41,54.23 240.76,54.23 241.11,54.23 241.45,54.23 241.80,54.23 242.14,54.23 242.49,54.23 242.84,54.23 243.18,54.23 243.53,54.23 243.87,54.23 244.22,54.23 244.57,54.23 244.91,54.23 245.26,54.23 245.60,54.23 245.95,54.23 246.30,54.23 246.64,54.23 246.99,54.23 247.33,54.23 247.68,54.23 248.02,54.23 248.37,54.23 248.72,54.23 249.06,54.23 249.41,54.23 249.75,54.23 250.10,54.23 250.45,54.23 250.79,58.24 251.14,78.72 251.48,97.13 251.83,113.36 252.18,127.35 252.52,139.17 252.87,148.93 253.21,156.80 253.56,163.00 253.90,167.79 254.25,171.41 254.60,174.09 254.94,176.05 255.29,177.47 255.63,178.51 255.98,179.29 256.33,179.88 256.67,180.37"/><polyline fill="none" stroke="#c69263" stroke-width="1.00" stroke-linejoin="round" points="49.48,201.73 49.83,201.21 50.17,200.76 50.52,200.36 50.86,200.01 51.21,199.69 51.56,199.41 51.90,199.15 52.25,198.91 52.59,198.68 52.94,198.47 53.28,198.27 53.63,198.08 53.98,197.90 54.32,197.72 54.67,197.55 55.01,197.38 55.36,197.21 55.71,197.04 56.05,196.87 56.40,196.71 56.74,196.54 57.09,196.38 57.44,196.21 57.78,196.04 58.13,195.87 58.47,195.70 58.82,195.53 59.17,195.36 59.51,195.18 59.86,195.01 60.20,194.83 60.55,194.65 60.89,194.47 61.24,194.28 61.59,194.10 61.93,193.91 62.28,193.72 62.62,193.53 62.97,193.33 63.32,193.14 63.66,192.94 64.01,192.74 64.35,192.53 64.70,192.33 65.05,192.12 65.39,191.91 65.74,191.70 66.08,191.48 66.43,191.26 66.77,191.04 67.12,190.82 67.47,190.60 67.81,190.37 68.16,190.14 68.50,189.91 68.85,189.67 69.20,189.44 69.54,189.20 69.89,188.96 70.23,188.71 70.58,188.47 70.93,188.22 71.27,187.96 71.62,187.71 71.96,187.45 72.31,187.19 72.66,186.93 73.00,186.67 73.35,186.40 73.69,186.13 74.04,185.86 74.38,185.59 74.73,185.31 75.08,185.03 75.42,184.75 75.77,184.46 76.11,184.17 76.46,183.88 76.81,183.59 77.15,183.30 77.50,183.00 77.84,182.70 78.19,182.40 78.54,182.09 78.88,181.78 79.23,181.47 79.57,181.16 79.92,180.84 80.26,180.52 80.61,180.20 80.96,179.88 81.30,179.55 81.65,179.22 81.99,178.89 82.34,178.55 82.69,178.22 83.03,177.88 83.38,177.54 83.72,177.19 84.07,176.84 84.42,176.49 84.76,176.14 85.11,175.79 85.45,175.43 85.80,175.07 86.15,174.71 86.49,174.34 86.84,173.97 87.18,173.60 87.53,173.23 87.87,172.86 88.22,172.48 88.57,172.10 88.91,171.72 89.26,171.33 89.60,170.94 89.95,170.55 90.30,170.16 90.64,169.77 90.99,169.37 91.33,168.97 91.68,168.57 92.03,168.16 92.37,167.76 92.72,167.35 93.06,166.94 93.41,166.52 93.75,166.11 94.10,165.69 94.45,165.27 94.79,164.85 95.14,164.42 95.48,164.00 95.83,163.57 96.18,163.14 96.52,162.71 96.87,162.27 97.21,161.83 97.56,161.40 97.91,160.96 98.25,160.51 98.60,160.07 98.94,159.62 99.29,159.17 99.63,158.72 99.98,158.27 100.33,157.82 100.67,157.36 101.02,156.90 101.36,156.45 101.71,155.98 102.06,155.52 102.40,155.06 102.75,154.59 103.09,154.13 103.44,153.66 103.79,153.19 104.13,152.72 104.48,152.24 104.82,151.77 105.17,151.29 105.52,150.82 105.86,150.34 106.21,149.86 106.55,149.38 106.90,148.90 107.24,148.41 107.59,147.93 107.94,147.44 108.28,146.96 108.63,146.47 108.97,145.98 109.32,145.50 109.67,145.01 110.01,144.52 110.36,144.02 110.70,143.53 111.05,143.04 111.40,142.55 111.74,142.05 112.09,141.56 112.43,141.06 112.78,140.57 113.12,140.07 113.47,139.58 113.82,139.08 114.16,138.58 114.51,138.09 114.85,137.59 115.20,137.09 115.55,136.60 115.89,136.10 116.24,135.60 116.58,135.10 116.93,134.61 117.28,134.11 117.62,133.61 117.97,133.12 118.31,132.62 118.66,132.13 119.01,131.63 119.35,131.13 119.70,130.64 120.04,130.15 120.39,129.65 120.73,129.16 121.08,128.67 121.43,128.18 121.77,127.69 122.12,127.20 122.46,126.71 122.81,126.22 123.16,125.73 123.50,125.25 123.85,124.76 124.19,124.28 124.54,123.80 124.89,123.31 125.23,122.83 125.58,122.36 125.92,121.88 126.27,121.40 126.61,120.93 126.96,120.46 127.31,119.98 127.65,119.51 128.00,119.05 128.34,118.58 128.69,118.12 129.04,117.65 129.38,117.19 129.73,116.73 130.07,116.28 130.42,115.82 130.77,115.37 131.11,114.92 131.46,114.47 131.80,114.03 132.15,113.58 132.50,113.14 132.84,112.70 133.19,112.27 133.53,111.83 133.88,111.40 134.22,110.97 134.57,110.55 134.92,110.12 135.26,109.70 135.61,109.29 135.95,108.87 136.30,108.46 136.65,108.05 136.99,107.64 137.34,107.24 137.68,106.84 138.03,106.44 138.38,106.05 138.72,105.66 139.07,105.27 139.41,104.89 139.76,104.50 140.10,104.13 140.45,103.75 140.80,103.38 141.14,103.01 141.49,102.65 141.83,102.29 142.18,101.93 142.53,101.58 142.87,101.23 143.22,100.88 143.56,100.54 143.91,100.20 144.26,99.87 144.60,99.54 144.95,99.21 145.29,98.89 145.64,98.57 145.99,98.26 146.33,97.94 146.68,97.64 147.02,97.33 147.37,97.04 147.71,96.74 148.06,96.45 148.41,96.16 148.75,95.88 149.10,95.60 149.44,95.33 149.79,95.06 150.14,94.80 150.48,94.54 150.83,94.28 151.17,94.03 151.52,93.78 151.87,93.54 152.21,93.30 152.56,93.06 152.90,92.83 153.25,92.61 153.59,92.39 153.94,92.17 154.29,91.96 154.63,91.75 154.98,91.55 155.32,91.35 155.67,91.16 156.02,90.97 156.36,90.79 156.71,90.61 157.05,90.43 157.40,90.26 157.75,90.10 158.09,89.93 158.44,89.78 158.78,89.63 159.13,89.48 159.48,89.34 159.82,89.20 160.17,89.07 160.51,88.94 160.86,88.81 161.20,88.69 161.55,88.58 161.90,88.47 162.24,88.36 162.59,88.26 162.93,88.17 163.28,88.07 163.63,87.99 163.97,87.90 164.32,87.83 164.66,87.75 165.01,87.68 165.36,87.62 165.70,87.56 166.05,87.50 166.39,87.45 166.74,87.40 167.08,87.36 167.43,87.32 167.78,87.29 168.12,87.26 168.47,87.23 168.81,87.21 169.16,87.19 169.51,87.18 169.85,87.16 170.20,87.16 170.54,87.15 170.89,87.15 171.24,87.15 171.58,87.16 171.93,87.17 172.27,87.18 172.62,87.20 172.97,87.22 173.31,87.25 173.66,87.28 174.00,87.32 174.35,87.36 174.69,87.40 175.04,87.45 175.39,87.51 175.73,87.57 176.08,87.63 176.42,87.70 176.77,87.77 177.12,87.85 177.46,87.94 177.81,88.03 178.15,88.12 178.50,88.22 178.85,88.33 179.19,88.43 179.54,88.55 179.88,88.67 180.23,88.79 180.57,88.93 180.92,89.06 181.27,89.20 181.61,89.35 181.96,89.50 182.30,89.65 182.65,89.82 183.00,89.98 183.34,90.15 183.69,90.33 184.03,90.51 184.38,90.70 184.73,90.89 185.07,91.09 185.42,91.29 185.76,91.50 186.11,91.71 186.46,91.93 186.80,92.16 187.15,92.38 187.49,92.62 187.84,92.86 188.18,93.10 188.53,93.35 188.88,93.60 189.22,93.86 189.57,94.12 189.91,94.39 190.26,94.66 190.61,94.94 190.95,95.22 191.30,95.51 191.64,95.80 191.99,96.10 192.34,96.40 192.68,96.71 193.03,97.02 193.37,97.34 193.72,97.66 194.06,97.98 194.41,98.31 194.76,98.64 195.10,98.98 195.45,99.32 195.79,99.67 196.14,100.02 196.49,100.38 196.83,100.74 197.18,101.10 197.52,101.47 197.87,101.84 198.22,102.22 198.56,102.60 198.91,102.98 199.25,103.37 199.60,103.76 199.94,104.16 200.29,104.56 200.64,104.96 200.98,105.37 201.33,105.78 201.67,106.19 202.02,106.61 202.37,107.03 202.71,107.45 203.06,107.88 203.40,108.31 203.75,108.75 204.10,109.19 204.44,109.63 204.79,110.07 205.13,110.52 205.48,110.97 205.83,111.42 206.17,111.88 206.52,112.33 206.86,112.80 207.21,113.26 207.55,113.73 207.90,114.20 208.25,114.67 208.59,115.14 208.94,115.62 209.28,116.10 209.63,116.58 209.98,117.07 210.32,117.55 210.67,118.04 211.01,118.53 211.36,119.02 211.71,119.52 212.05,120.01 212.40,120.51 212.74,121.02 213.09,121.52 213.43,122.03 213.78,122.53 214.13,123.05 214.47,123.56 214.82,124.08 215.16,124.61 215.51,125.14 215.86,125.67 216.20,126.21 216.55,126.76 216.89,127.31 217.24,127.86 217.59,128.41"/><polyline fill="none" stroke="#c69263" stroke-width="0.75" stroke-linejoin="round" points="217.59,128.41 217.93,128.96 218.28,129.49 218.62,129.99 218.97,130.44 219.32,130.82 219.66,131.10 220.01,131.22 220.35,131.14 220.70,130.79 221.04,130.09 221.39,128.96 221.74,127.30 222.08,125.00 222.43,121.94 222.77,118.02 223.12,113.12 223.47,107.13 223.81,99.97 224.16,91.55 224.50,81.82 224.85,70.76 225.20,58.36 225.54,54.23 225.89,54.23 226.23,54.23 226.58,54.23 226.92,54.23 227.27,54.23 227.62,54.23 227.96,54.23 228.31,54.23 228.65,54.23 229.00,54.23 229.35,54.23 229.69,54.23 230.04,54.23 230.38,54.23 230.73,54.23 231.08,54.23 231.42,54.23 231.77,54.23 232.11,54.23 232.46,54.23 232.81,54.23 233.15,54.23 233.50,54.23 233.84,54.23 234.19,54.23 234.53,54.23 234.88,54.23 235.23,54.23 235.57,54.23 235.92,54.23 236.26,54.23 236.61,54.23 236.96,54.23 237.30,54.23 237.65,54.23 237.99,54.23 238.34,54.23 238.69,54.23 239.03,54.23 239.38,54.23 239.72,54.23 240.07,54.23 240.41,54.23 240.76,54.23 241.11,54.23 241.45,54.23 241.80,54.23 242.14,54.23 242.49,54.23 242.84,54.23 243.18,54.23 243.53,54.23 243.87,54.23 244.22,54.23 244.57,54.23 244.91,54.23 245.26,54.23 245.60,54.23 245.95,54.23 246.30,54.23 246.64,54.23 246.99,54.23 247.33,54.23 247.68,54.23 248.02,54.23 248.37,54.23 248.72,54.23 249.06,54.23 249.41,54.23 249.75,54.23 250.10,54.23 250.45,72.26 250.79,89.08 251.14,104.22 251.48,117.65 251.83,129.37 252.18,139.43 252.52,147.94 252.87,155.01 253.21,160.79 253.56,165.45 253.90,169.15 254.25,172.04 254.60,174.28 254.94,176.01 255.29,177.34 255.63,178.37 255.98,179.17 256.33,179.82 256.67,180.35"/><polyline fill="none" stroke="#ad936c" stroke-width="1.00" stroke-linejoin="round" points="49.48,202.28 49.83,201.85 50.17,201.47 50.52,201.13 50.86,200.83 51.21,200.56 51.56,200.32 51.90,200.09 52.25,199.89 52.59,199.69 52.94,199.51 53.28,199.34 53.63,199.17 53.98,199.01 54.32,198.85 54.67,198.69 55.01,198.54 55.36,198.39 55.71,198.24 56.05,198.09 56.40,197.94 56.74,197.80 57.09,197.65 57.44,197.50 57.78,197.34 58.13,197.19 58.47,197.04 58.82,196.88 59.17,196.73 59.51,196.57 59.86,196.41 60.20,196.25 60.55,196.08 60.89,195.92 61.24,195.75 61.59,195.58 61.93,195.41 62.28,195.23 62.62,195.06 62.97,194.88 63.32,194.70 63.66,194.52 64.01,194.33 64.35,194.15 64.70,193.96 65.05,193.77 65.39,193.57 65.74,193.38 66.08,193.18 66.43,192.98 66.77,192.78 67.12,192.57 67.47,192.37 67.81,192.16 68.16,191.94 68.50,191.73 68.85,191.51 69.20,191.29 69.54,191.07 69.89,190.85 70.23,190.62 70.58,190.39 70.93,190.16 71.27,189.93 71.62,189.69 71.96,189.45 72.31,189.21 72.66,188.97 73.00,188.72 73.35,188.47 73.69,188.22 74.04,187.97 74.38,187.71 74.73,187.45 75.08,187.19 75.42,186.93 75.77,186.66 76.11,186.39 76.46,186.12 76.81,185.84 77.15,185.57 77.50,185.29 77.84,185.00 78.19,184.72 78.54,184.43 78.88,184.14 79.23,183.85 79.57,183.55 79.92,183.25 80.26,182.95 80.61,182.65 80.96,182.34 81.30,182.03 81.65,181.72 81.99,181.40 82.34,181.09 82.69,180.77 83.03,180.45 83.38,180.12 83.72,179.79 84.07,179.46 84.42,179.13 84.76,178.79 85.11,178.45 85.45,178.11 85.80,177.77 86.15,177.42 86.49,177.08 86.84,176.72 87.18,176.37 87.53,176.01 87.87,175.65 88.22,175.29 88.57,174.93 88.91,174.56 89.26,174.19 89.60,173.82 89.95,173.44 90.30,173.07 90.64,172.69 90.99,172.30 91.33,171.92 91.68,171.53 92.03,171.14 92.37,170.75 92.72,170.35 93.06,169.96 93.41,169.56 93.75,169.15 94.10,168.75 94.45,168.34 94.79,167.93 95.14,167.52 95.48,167.11 95.83,166.69 96.18,166.27 96.52,165.85 96.87,165.43 97.21,165.00 97.56,164.58 97.91,164.15 98.25,163.71 98.60,163.28 98.94,162.84 99.29,162.40 99.63,161.96 99.98,161.52 100.33,161.08 100.67,160.63 101.02,160.18 101.36,159.73 101.71,159.28 102.06,158.83 102.40,158.37 102.75,157.91 103.09,157.45 103.44,156.99 103.79,156.53 104.13,156.06 104.48,155.60 104.82,155.13 105.17,154.66 105.52,154.19 105.86,153.72 106.21,153.24 106.55,152.77 106.90,152.29 107.24,151.81 107.59,151.33 107.94,150.85 108.28,150.37 108.63,149.88 108.97,149.40 109.32,148.91 109.67,148.42 110.01,147.94 110.36,147.45 110.70,146.96 111.05,146.46 111.40,145.97 111.74,145.48 112.09,144.98 112.43,144.49 112.78,143.99 113.12,143.50 113.47,143.00 113.82,142.50 114.16,142.00 114.51,141.50 114.85,141.01 115.20,140.51 115.55,140.01 115.89,139.50 116.24,139.00 116.58,138.50 116.93,138.00 117.28,137.50 117.62,137.00 117.97,136.50 118.31,135.99 118.66,135.49 119.01,134.99 119.35,134.49 119.70,133.99 120.04,133.49 120.39,132.99 120.73,132.49 121.08,131.99 121.43,131.49 121.77,130.99 122.12,130.49 122.46,129.99 122.81,129.49 123.16,129.00 123.50,128.50 123.85,128.00 124.19,127.51 124.54,127.02 124.89,126.52 125.23,126.03 125.58,125.54 125.92,125.05 126.27,124.56 126.61,124.08 126.96,123.59 127.31,123.11 127.65,122.62 128.00,122.14 128.34,121.66 128.69,121.18 129.04,120.70 129.38,120.23 129.73,119.75 130.07,119.28 130.42,118.81 130.77,118.34 131.11,117.88 131.46,117.41 131.80,116.95 132.15,116.49 132.50,116.03 132.84,115.57 133.19,115.12 133.53,114.67 133.88,114.22 134.22,113.77 134.57,113.32 134.92,112.88 135.26,112.44 135.61,112.00 135.95,111.57 136.30,111.14 136.65,110.71 136.99,110.28 137.34,109.86 137.68,109.44 138.03,109.02 138.38,108.60 138.72,108.19 139.07,107.78 139.41,107.37 139.76,106.97 140.10,106.57 140.45,106.18 140.80,105.78 141.14,105.39 141.49,105.01 141.83,104.62 142.18,104.24 142.53,103.87 142.87,103.49 143.22,103.12 143.56,102.76 143.91,102.40 144.26,102.04 144.60,101.68 144.95,101.33 145.29,100.98 145.64,100.64 145.99,100.30 146.33,99.97 146.68,99.63 147.02,99.31 147.37,98.98 147.71,98.66 148.06,98.35 148.41,98.04 148.75,97.73 149.10,97.43 149.44,97.13 149.79,96.83 150.14,96.54 150.48,96.26 150.83,95.98 151.17,95.70 151.52,95.43 151.87,95.16 152.21,94.89 152.56,94.63 152.90,94.38 153.25,94.13 153.59,93.88 153.94,93.64 154.29,93.40 154.63,93.17 154.98,92.94 155.32,92.72 155.67,92.50 156.02,92.29 156.36,92.08 156.71,91.88 157.05,91.68 157.40,91.48 157.75,91.29 158.09,91.10 158.44,90.92 158.78,90.75 159.13,90.58 159.48,90.41 159.82,90.25 160.17,90.09 160.51,89.94 160.86,89.79 161.20,89.65 161.55,89.51 161.90,89.38 162.24,89.25 162.59,89.13 162.93,89.01 163.28,88.89 163.63,88.78 163.97,88.68 164.32,88.58 164.66,88.48 165.01,88.39 165.36,88.31 165.70,88.22 166.05,88.15 166.39,88.08 166.74,88.01 167.08,87.95 167.43,87.89 167.78,87.83 168.12,87.78 168.47,87.74 168.81,87.70 169.16,87.66 169.51,87.63 169.85,87.60 170.20,87.58 170.54,87.56 170.89,87.55 171.24,87.53 171.58,87.53 171.93,87.52 172.27,87.52 172.62,87.52 172.97,87.53 173.31,87.54 173.66,87.55 174.00,87.57 174.35,87.59 174.69,87.62 175.04,87.65 175.39,87.69 175.73,87.73 176.08,87.78 176.42,87.83 176.77,87.89 177.12,87.95 177.46,88.02 177.81,88.09 178.15,88.17 178.50,88.25 178.85,88.34 179.19,88.43 179.54,88.53 179.88,88.64 180.23,88.74 180.57,88.86 180.92,88.98 181.27,89.10 181.61,89.23 181.96,89.37 182.30,89.51 182.65,89.66 183.00,89.81 183.34,89.97 183.69,90.13 184.03,90.30 184.38,90.47 184.73,90.65 185.07,90.83 185.42,91.02 185.76,91.22 186.11,91.42 186.46,91.62 186.80,91.83 187.15,92.05 187.49,92.27 187.84,92.49 188.18,92.72 188.53,92.96 188.88,93.20 189.22,93.45 189.57,93.70 189.91,93.96 190.26,94.22 190.61,94.49 190.95,94.76 191.30,95.04 191.64,95.32 191.99,95.61 192.34,95.90 192.68,96.20 193.03,96.50 193.37,96.81 193.72,97.12 194.06,97.44 194.41,97.76 194.76,98.08 195.10,98.41 195.45,98.75 195.79,99.09 196.14,99.43 196.49,99.78 196.83,100.14 197.18,100.49 197.52,100.86 197.87,101.22 198.22,101.59 198.56,101.97 198.91,102.35 199.25,102.73 199.60,103.12 199.94,103.51 200.29,103.90 200.64,104.30 200.98,104.71 201.33,105.11 201.67,105.53 202.02,105.94 202.37,106.36 202.71,106.78 203.06,107.21 203.40,107.64 203.75,108.07 204.10,108.50 204.44,108.94 204.79,109.39 205.13,109.83 205.48,110.28 205.83,110.73 206.17,111.19 206.52,111.65 206.86,112.11 207.21,112.57 207.55,113.04 207.90,113.51 208.25,113.98 208.59,114.46 208.94,114.94 209.28,115.42 209.63,115.90 209.98,116.39 210.32,116.87 210.67,117.36 211.01,117.86 211.36,118.35 211.71,118.85 212.05,119.35 212.40,119.85 212.74,120.35 213.09,120.86 213.43,121.37 213.78,121.88 214.13,122.40 214.47,122.92 214.82,123.44 215.16,123.96 215.51,124.49 215.86,125.02 216.20,125.56 216.55,126.10 216.89,126.63 217.24,127.17 217.59,127.69"/><polyline fill="none" stroke="#ad936c" stroke-width="0.75" stroke-linejoin="round" points="217.59,127.69 217.93,128.20 218.28,128.69 218.62,129.15 218.97,129.56 219.32,129.90 219.66,130.15 220.01,130.28 220.35,130.26 220.70,130.03 221.04,129.57 221.39,128.80 221.74,127.68 222.08,126.13 222.43,124.08 222.77,121.47 223.12,118.22 223.47,114.24 223.81,109.48 224.16,103.86 224.50,97.32 224.85,89.82 225.20,81.32 225.54,71.79 225.89,61.23 226.23,54.23 226.58,54.23 226.92,54.23 227.27,54.23 227.62,54.23 227.96,54.23 228.31,54.23 228.65,54.23 229.00,54.23 229.35,54.23 229.69,54.23 230.04,54.23 230.38,54.23 230.73,54.23 231.08,54.23 231.42,54.23 231.77,54.23 232.11,54.23 232.46,54.23 232.81,54.23 233.15,54.23 233.50,54.23 233.84,54.23 234.19,54.23 234.53,54.23 234.88,54.23 235.23,54.23 235.57,54.23 235.92,54.23 236.26,54.23 236.61,54.23 236.96,54.23 237.30,54.23 237.65,54.23 237.99,54.23 238.34,54.23 238.69,54.23 239.03,54.23 239.38,54.23 239.72,54.23 240.07,54.23 240.41,54.23 240.76,54.23 241.11,54.23 241.45,54.23 241.80,54.23 242.14,54.23 242.49,54.23 242.84,54.23 243.18,54.23 243.53,54.23 243.87,54.23 244.22,54.23 244.57,54.23 244.91,54.23 245.26,54.23 245.60,54.23 245.95,54.23 246.30,54.23 246.64,54.23 246.99,54.23 247.33,54.23 247.68,54.23 248.02,54.23 248.37,54.23 248.72,54.23 249.06,54.23 249.41,54.23 249.75,69.21 250.10,83.92 250.45,97.38 250.79,109.57 251.14,120.49 251.48,130.16 251.83,138.64 252.18,145.99 252.52,152.30 252.87,157.65 253.21,162.15 253.56,165.90 253.90,169.00 254.25,171.53 254.60,173.60 254.94,175.29 255.29,176.65 255.63,177.77 255.98,178.68 256.33,179.45 256.67,180.09"/><polyline fill="none" stroke="#959474" stroke-width="1.00" stroke-linejoin="round" points="49.48,202.77 49.83,202.41 50.17,202.09 50.52,201.80 50.86,201.55 51.21,201.32 51.56,201.11 51.90,200.92 52.25,200.74 52.59,200.57 52.94,200.41 53.28,200.26 53.63,200.11 53.98,199.97 54.32,199.83 54.67,199.69 55.01,199.56 55.36,199.43 55.71,199.29 56.05,199.16 56.40,199.03 56.74,198.89 57.09,198.76 57.44,198.62 57.78,198.49 58.13,198.35 58.47,198.21 58.82,198.07 59.17,197.93 59.51,197.78 59.86,197.64 60.20,197.49 60.55,197.34 60.89,197.19 61.24,197.04 61.59,196.89 61.93,196.73 62.28,196.57 62.62,196.41 62.97,196.25 63.32,196.08 63.66,195.92 64.01,195.75 64.35,195.58 64.70,195.41 65.05,195.23 65.39,195.05 65.74,194.87 66.08,194.69 66.43,194.51 66.77,194.32 67.12,194.13 67.47,193.94 67.81,193.75 68.16,193.56 68.50,193.36 68.85,193.16 69.20,192.96 69.54,192.75 69.89,192.54 70.23,192.34 70.58,192.12 70.93,191.91 71.27,191.69 71.62,191.47 71.96,191.25 72.31,191.03 72.66,190.80 73.00,190.57 73.35,190.34 73.69,190.11 74.04,189.87 74.38,189.63 74.73,189.39 75.08,189.14 75.42,188.90 75.77,188.65 76.11,188.40 76.46,188.14 76.81,187.88 77.15,187.62 77.50,187.36 77.84,187.10 78.19,186.83 78.54,186.56 78.88,186.29 79.23,186.01 79.57,185.73 79.92,185.45 80.26,185.17 80.61,184.88 80.96,184.59 81.30,184.30 81.65,184.00 81.99,183.71 82.34,183.41 82.69,183.11 83.03,182.80 83.38,182.49 83.72,182.18 84.07,181.87 84.42,181.55 84.76,181.23 85.11,180.91 85.45,180.59 85.80,180.26 86.15,179.93 86.49,179.60 86.84,179.26 87.18,178.92 87.53,178.58 87.87,178.24 88.22,177.89 88.57,177.55 88.91,177.19 89.26,176.84 89.60,176.48 89.95,176.12 90.30,175.76 90.64,175.40 90.99,175.03 91.33,174.66 91.68,174.29 92.03,173.91 92.37,173.53 92.72,173.15 93.06,172.77 93.41,172.38 93.75,172.00 94.10,171.61 94.45,171.21 94.79,170.82 95.14,170.42 95.48,170.02 95.83,169.61 96.18,169.21 96.52,168.80 96.87,168.39 97.21,167.98 97.56,167.56 97.91,167.14 98.25,166.72 98.60,166.30 98.94,165.88 99.29,165.45 99.63,165.02 99.98,164.59 100.33,164.15 100.67,163.72 101.02,163.28 101.36,162.84 101.71,162.40 102.06,161.95 102.40,161.51 102.75,161.06 103.09,160.61 103.44,160.15 103.79,159.70 104.13,159.24 104.48,158.78 104.82,158.32 105.17,157.86 105.52,157.40 105.86,156.93 106.21,156.46 106.55,155.99 106.90,155.52 107.24,155.05 107.59,154.57 107.94,154.10 108.28,153.62 108.63,153.14 108.97,152.66 109.32,152.18 109.67,151.70 110.01,151.21 110.36,150.72 110.70,150.24 111.05,149.75 111.40,149.26 111.74,148.77 112.09,148.27 112.43,147.78 112.78,147.29 113.12,146.79 113.47,146.29 113.82,145.80 114.16,145.30 114.51,144.80 114.85,144.30 115.20,143.80 115.55,143.30 115.89,142.80 116.24,142.29 116.58,141.79 116.93,141.29 117.28,140.78 117.62,140.28 117.97,139.77 118.31,139.27 118.66,138.76 119.01,138.25 119.35,137.75 119.70,137.24 120.04,136.74 120.39,136.23 120.73,135.72 121.08,135.22 121.43,134.71 121.77,134.21 122.12,133.70 122.46,133.19 122.81,132.69 123.16,132.18 123.50,131.68 123.85,131.18 124.19,130.67 124.54,130.17 124.89,129.67 125.23,129.17 125.58,128.66 125.92,128.16 126.27,127.67 126.61,127.17 126.96,126.67 127.31,126.17 127.65,125.68 128.00,125.18 128.34,124.69 128.69,124.20 129.04,123.71 129.38,123.22 129.73,122.73 130.07,122.25 130.42,121.76 130.77,121.28 131.11,120.80 131.46,120.32 131.80,119.84 132.15,119.36 132.50,118.89 132.84,118.42 133.19,117.95 133.53,117.48 133.88,117.01 134.22,116.55 134.57,116.08 134.92,115.62 135.26,115.16 135.61,114.71 135.95,114.26 136.30,113.81 136.65,113.36 136.99,112.91 137.34,112.47 137.68,112.03 138.03,111.59 138.38,111.15 138.72,110.72 139.07,110.29 139.41,109.86 139.76,109.44 140.10,109.02 140.45,108.60 140.80,108.19 141.14,107.78 141.49,107.37 141.83,106.96 142.18,106.56 142.53,106.16 142.87,105.77 143.22,105.37 143.56,104.99 143.91,104.60 144.26,104.22 144.60,103.84 144.95,103.47 145.29,103.10 145.64,102.73 145.99,102.37 146.33,102.01 146.68,101.65 147.02,101.30 147.37,100.95 147.71,100.61 148.06,100.27 148.41,99.93 148.75,99.60 149.10,99.28 149.44,98.95 149.79,98.63 150.14,98.32 150.48,98.01 150.83,97.70 151.17,97.40 151.52,97.10 151.87,96.81 152.21,96.52 152.56,96.24 152.90,95.96 153.25,95.68 153.59,95.41 153.94,95.14 154.29,94.88 154.63,94.62 154.98,94.37 155.32,94.12 155.67,93.88 156.02,93.64 156.36,93.41 156.71,93.18 157.05,92.95 157.40,92.73 157.75,92.52 158.09,92.31 158.44,92.10 158.78,91.90 159.13,91.71 159.48,91.51 159.82,91.33 160.17,91.15 160.51,90.97 160.86,90.80 161.20,90.63 161.55,90.47 161.90,90.31 162.24,90.16 162.59,90.02 162.93,89.87 163.28,89.74 163.63,89.60 163.97,89.48 164.32,89.35 164.66,89.24 165.01,89.12 165.36,89.02 165.70,88.91 166.05,88.82 166.39,88.72 166.74,88.63 167.08,88.55 167.43,88.47 167.78,88.40 168.12,88.33 168.47,88.26 168.81,88.20 169.16,88.15 169.51,88.10 169.85,88.05 170.20,88.01 170.54,87.97 170.89,87.94 171.24,87.91 171.58,87.89 171.93,87.87 172.27,87.85 172.62,87.84 172.97,87.83 173.31,87.83 173.66,87.83 174.00,87.83 174.35,87.84 174.69,87.85 175.04,87.86 175.39,87.88 175.73,87.91 176.08,87.94 176.42,87.97 176.77,88.01 177.12,88.06 177.46,88.11 177.81,88.16 178.15,88.22 178.50,88.29 178.85,88.36 179.19,88.44 179.54,88.52 179.88,88.61 180.23,88.70 180.57,88.80 180.92,88.90 181.27,89.01 181.61,89.12 181.96,89.24 182.30,89.37 182.65,89.50 183.00,89.63 183.34,89.78 183.69,89.92 184.03,90.08 184.38,90.23 184.73,90.40 185.07,90.57 185.42,90.74 185.76,90.92 186.11,91.11 186.46,91.30 186.80,91.50 187.15,91.70 187.49,91.91 187.84,92.12 188.18,92.34 188.53,92.57 188.88,92.80 189.22,93.03 189.57,93.27 189.91,93.52 190.26,93.77 190.61,94.02 190.95,94.29 191.30,94.55 191.64,94.83 191.99,95.10 192.34,95.39 192.68,95.67 193.03,95.97 193.37,96.26 193.72,96.57 194.06,96.87 194.41,97.19 194.76,97.50 195.10,97.83 195.45,98.15 195.79,98.49 196.14,98.82 196.49,99.17 196.83,99.51 197.18,99.86 197.52,100.22 197.87,100.58 198.22,100.94 198.56,101.31 198.91,101.69 199.25,102.07 199.60,102.45 199.94,102.83 200.29,103.23 200.64,103.62 200.98,104.02 201.33,104.42 201.67,104.83 202.02,105.24 202.37,105.66 202.71,106.08 203.06,106.50 203.40,106.93 203.75,107.36 204.10,107.79 204.44,108.23 204.79,108.67 205.13,109.11 205.48,109.56 205.83,110.01 206.17,110.47 206.52,110.93 206.86,111.39 207.21,111.85 207.55,112.32 207.90,112.79 208.25,113.26 208.59,113.74 208.94,114.21 209.28,114.70 209.63,115.18 209.98,115.67 210.32,116.16 210.67,116.65 211.01,117.14 211.36,117.64 211.71,118.14 212.05,118.64 212.40,119.15 212.74,119.65 213.09,120.16 213.43,120.68 213.78,121.19 214.13,121.71 214.47,122.23 214.82,122.76 215.16,123.29 215.51,123.83 215.86,124.37 216.20,124.92 216.55,125.47 216.89,126.02 217.24,126.58 217.59,127.14"/><polyline fill="none" stroke="#959474" stroke-width="0.75" stroke-linejoin="round" points="217.59,127.14 217.93,127.70 218.28,128.24 218.62,128.77 218.97,129.28 219.32,129.75 219.66,130.16 220.01,130.49 220.35,130.72 220.70,130.82 221.04,130.75 221.39,130.46 221.74,129.91 222.08,129.05 222.43,127.81 222.77,126.13 223.12,123.95 223.47,121.19 223.81,117.79 224.16,113.67 224.50,108.78 224.85,103.04 225.20,96.42 225.54,88.87 225.89,80.36 226.23,70.86 226.58,60.39 226.92,54.23 227.27,54.23 227.62,54.23 227.96,54.23 228.31,54.23 228.65,54.23 229.00,54.23 229.35,54.23 229.69,54.23 230.04,54.23 230.38,54.23 230.73,54.23 231.08,54.23 231.42,54.23 231.77,54.23 232.11,54.23 232.46,54.23 232.81,54.23 233.15,54.23 233.50,54.23 233.84,54.23 234.19,54.23 234.53,54.23 234.88,54.23 235.23,54.23 235.57,54.23 235.92,54.23 236.26,54.23 236.61,54.23 236.96,54.23 237.30,54.23 237.65,54.23 237.99,54.23 238.34,54.23 238.69,54.23 239.03,54.23 239.38,54.23 239.72,54.23 240.07,54.23 240.41,54.23 240.76,54.23 241.11,54.23 241.45,54.23 241.80,54.23 242.14,54.23 242.49,54.23 242.84,54.23 243.18,54.23 243.53,54.23 243.87,54.23 244.22,54.23 244.57,54.23 244.91,54.23 245.26,54.23 245.60,54.23 245.95,54.23 246.30,54.23 246.64,54.23 246.99,54.23 247.33,54.23 247.68,54.23 248.02,54.23 248.37,54.23 248.72,54.23 249.06,58.46 249.41,73.35 249.75,87.11 250.10,99.70 250.45,111.12 250.79,121.37 251.14,130.48 251.48,138.51 251.83,145.51 252.18,151.55 252.52,156.73 252.87,161.13 253.21,164.84 253.56,167.94 253.90,170.51 254.25,172.64 254.60,174.40 254.94,175.85 255.29,177.05 255.63,178.05 255.98,178.89 256.33,179.59 256.67,180.21"/><polyline fill="none" stroke="#81977c" stroke-width="1.00" stroke-linejoin="round" points="49.48,203.24 49.83,202.94 50.17,202.67 50.52,202.44 50.86,202.23 51.21,202.03 51.56,201.86 51.90,201.69 52.25,201.54 52.59,201.40 52.94,201.26 53.28,201.13 53.63,201.00 53.98,200.87 54.32,200.75 54.67,200.63 55.01,200.51 55.36,200.40 55.71,200.28 56.05,200.16 56.40,200.04 56.74,199.92 57.09,199.80 57.44,199.68 57.78,199.56 58.13,199.44 58.47,199.31 58.82,199.19 59.17,199.06 59.51,198.93 59.86,198.80 60.20,198.67 60.55,198.54 60.89,198.40 61.24,198.27 61.59,198.13 61.93,197.99 62.28,197.84 62.62,197.70 62.97,197.55 63.32,197.40 63.66,197.25 64.01,197.10 64.35,196.95 64.70,196.79 65.05,196.63 65.39,196.47 65.74,196.31 66.08,196.14 66.43,195.97 66.77,195.81 67.12,195.63 67.47,195.46 67.81,195.28 68.16,195.11 68.50,194.93 68.85,194.74 69.20,194.56 69.54,194.37 69.89,194.18 70.23,193.99 70.58,193.79 70.93,193.60 71.27,193.40 71.62,193.20 71.96,192.99 72.31,192.79 72.66,192.58 73.00,192.37 73.35,192.15 73.69,191.94 74.04,191.72 74.38,191.50 74.73,191.27 75.08,191.05 75.42,190.82 75.77,190.59 76.11,190.35 76.46,190.12 76.81,189.88 77.15,189.64 77.50,189.39 77.84,189.15 78.19,188.90 78.54,188.65 78.88,188.39 79.23,188.13 79.57,187.87 79.92,187.61 80.26,187.35 80.61,187.08 80.96,186.81 81.30,186.53 81.65,186.26 81.99,185.98 82.34,185.70 82.69,185.41 83.03,185.13 83.38,184.84 83.72,184.54 84.07,184.25 84.42,183.95 84.76,183.65 85.11,183.35 85.45,183.04 85.80,182.73 86.15,182.42 86.49,182.10 86.84,181.79 87.18,181.47 87.53,181.14 87.87,180.82 88.22,180.49 88.57,180.16 88.91,179.82 89.26,179.49 89.60,179.15 89.95,178.81 90.30,178.46 90.64,178.11 90.99,177.76 91.33,177.41 91.68,177.05 92.03,176.69 92.37,176.33 92.72,175.97 93.06,175.60 93.41,175.23 93.75,174.86 94.10,174.48 94.45,174.11 94.79,173.73 95.14,173.34 95.48,172.96 95.83,172.57 96.18,172.18 96.52,171.78 96.87,171.39 97.21,170.99 97.56,170.59 97.91,170.18 98.25,169.78 98.60,169.37 98.94,168.96 99.29,168.54 99.63,168.13 99.98,167.71 100.33,167.29 100.67,166.86 101.02,166.44 101.36,166.01 101.71,165.58 102.06,165.14 102.40,164.71 102.75,164.27 103.09,163.83 103.44,163.39 103.79,162.94 104.13,162.50 104.48,162.05 104.82,161.60 105.17,161.14 105.52,160.69 105.86,160.23 106.21,159.77 106.55,159.31 106.90,158.85 107.24,158.38 107.59,157.92 107.94,157.45 108.28,156.98 108.63,156.50 108.97,156.03 109.32,155.55 109.67,155.08 110.01,154.60 110.36,154.12 110.70,153.63 111.05,153.15 111.40,152.66 111.74,152.18 112.09,151.69 112.43,151.20 112.78,150.71 113.12,150.21 113.47,149.72 113.82,149.22 114.16,148.73 114.51,148.23 114.85,147.73 115.20,147.23 115.55,146.73 115.89,146.23 116.24,145.73 116.58,145.22 116.93,144.72 117.28,144.21 117.62,143.71 117.97,143.20 118.31,142.69 118.66,142.19 119.01,141.68 119.35,141.17 119.70,140.66 120.04,140.15 120.39,139.64 120.73,139.13 121.08,138.62 121.43,138.11 121.77,137.59 122.12,137.08 122.46,136.57 122.81,136.06 123.16,135.55 123.50,135.04 123.85,134.53 124.19,134.01 124.54,133.50 124.89,132.99 125.23,132.48 125.58,131.97 125.92,131.46 126.27,130.96 126.61,130.45 126.96,129.94 127.31,129.43 127.65,128.93 128.00,128.42 128.34,127.92 128.69,127.41 129.04,126.91 129.38,126.41 129.73,125.91 130.07,125.41 130.42,124.91 130.77,124.41 131.11,123.92 131.46,123.42 131.80,122.93 132.15,122.44 132.50,121.95 132.84,121.46 133.19,120.97 133.53,120.49 133.88,120.01 134.22,119.53 134.57,119.05 134.92,118.57 135.26,118.09 135.61,117.62 135.95,117.15 136.30,116.68 136.65,116.21 136.99,115.75 137.34,115.28 137.68,114.82 138.03,114.37 138.38,113.91 138.72,113.46 139.07,113.01 139.41,112.56 139.76,112.11 140.10,111.67 140.45,111.23 140.80,110.80 141.14,110.36 141.49,109.93 141.83,109.51 142.18,109.08 142.53,108.66 142.87,108.24 143.22,107.83 143.56,107.41 143.91,107.01 144.26,106.60 144.60,106.20 144.95,105.80 145.29,105.41 145.64,105.02 145.99,104.63 146.33,104.24 146.68,103.86 147.02,103.49 147.37,103.11 147.71,102.75 148.06,102.38 148.41,102.02 148.75,101.66 149.10,101.31 149.44,100.96 149.79,100.62 150.14,100.27 150.48,99.94 150.83,99.61 151.17,99.28 151.52,98.95 151.87,98.63 152.21,98.32 152.56,98.01 152.90,97.70 153.25,97.40 153.59,97.10 153.94,96.81 154.29,96.52 154.63,96.23 154.98,95.96 155.32,95.68 155.67,95.41 156.02,95.15 156.36,94.88 156.71,94.63 157.05,94.38 157.40,94.13 157.75,93.89 158.09,93.65 158.44,93.42 158.78,93.19 159.13,92.97 159.48,92.75 159.82,92.54 160.17,92.33 160.51,92.13 160.86,91.93 161.20,91.74 161.55,91.55 161.90,91.37 162.24,91.19 162.59,91.02 162.93,90.85 163.28,90.69 163.63,90.53 163.97,90.38 164.32,90.23 164.66,90.09 165.01,89.95 165.36,89.82 165.70,89.70 166.05,89.57 166.39,89.46 166.74,89.34 167.08,89.24 167.43,89.13 167.78,89.04 168.12,88.95 168.47,88.86 168.81,88.78 169.16,88.70 169.51,88.63 169.85,88.56 170.20,88.50 170.54,88.44 170.89,88.39 171.24,88.34 171.58,88.29 171.93,88.26 172.27,88.22 172.62,88.19 172.97,88.17 173.31,88.15 173.66,88.13 174.00,88.12 174.35,88.11 174.69,88.10 175.04,88.10 175.39,88.11 175.73,88.11 176.08,88.12 176.42,88.14 176.77,88.16 177.12,88.19 177.46,88.22 177.81,88.26 178.15,88.30 178.50,88.34 178.85,88.40 179.19,88.45 179.54,88.52 179.88,88.59 180.23,88.66 180.57,88.74 180.92,88.83 181.27,88.92 181.61,89.01 181.96,89.11 182.30,89.22 182.65,89.34 183.00,89.45 183.34,89.58 183.69,89.71 184.03,89.85 184.38,89.99 184.73,90.14 185.07,90.29 185.42,90.45 185.76,90.61 186.11,90.78 186.46,90.96 186.80,91.14 187.15,91.33 187.49,91.52 187.84,91.72 188.18,91.93 188.53,92.14 188.88,92.35 189.22,92.58 189.57,92.80 189.91,93.04 190.26,93.27 190.61,93.52 190.95,93.77 191.30,94.02 191.64,94.28 191.99,94.55 192.34,94.82 192.68,95.10 193.03,95.38 193.37,95.67 193.72,95.96 194.06,96.26 194.41,96.56 194.76,96.87 195.10,97.18 195.45,97.50 195.79,97.82 196.14,98.15 196.49,98.48 196.83,98.82 197.18,99.17 197.52,99.52 197.87,99.87 198.22,100.23 198.56,100.59 198.91,100.96 199.25,101.33 199.60,101.70 199.94,102.09 200.29,102.47 200.64,102.86 200.98,103.25 201.33,103.65 201.67,104.06 202.02,104.46 202.37,104.87 202.71,105.29 203.06,105.71 203.40,106.13 203.75,106.56 204.10,106.99 204.44,107.43 204.79,107.87 205.13,108.31 205.48,108.75 205.83,109.20 206.17,109.66 206.52,110.11 206.86,110.57 207.21,111.04 207.55,111.50 207.90,111.97 208.25,112.45 208.59,112.92 208.94,113.40 209.28,113.88 209.63,114.37 209.98,114.86 210.32,115.35 210.67,115.84 211.01,116.34 211.36,116.84 211.71,117.34 212.05,117.84 212.40,118.35 212.74,118.86 213.09,119.37 213.43,119.89 213.78,120.41 214.13,120.93 214.47,121.46 214.82,121.99 215.16,122.53 215.51,123.07 215.86,123.62 216.20,124.18 216.55,124.74 216.89,125.31 217.24,125.89 217.59,126.47"/><polyline fill="none" stroke="#81977c" stroke-width="0.75" stroke-linejoin="round" points="217.59,126.47 217.93,127.06 218.28,127.65 218.62,128.23 218.97,128.81 219.32,129.36 219.66,129.89 220.01,130.37 220.35,130.78 220.70,131.10 221.04,131.31 221.39,131.37 221.74,131.23 222.08,130.87 222.43,130.22 222.77,129.23 223.12,127.86 223.47,126.03 223.81,123.69 224.16,120.76 224.50,117.19 224.85,112.92 225.20,107.89 225.54,102.05 225.89,95.34 226.23,87.75 226.58,79.25 226.92,69.81 227.27,59.46 227.62,54.23 227.96,54.23 228.31,54.23 228.65,54.23 229.00,54.23 229.35,54.23 229.69,54.23 230.04,54.23 230.38,54.23 230.73,54.23 231.08,54.23 231.42,54.23 231.77,54.23 232.11,54.23 232.46,54.23 232.81,54.23 233.15,54.23 233.50,54.23 233.84,54.23 234.19,54.23 234.53,54.23 234.88,54.23 235.23,54.23 235.57,54.23 235.92,54.23 236.26,54.23 236.61,54.23 236.96,54.23 237.30,54.23 237.65,54.23 237.99,54.23 238.34,54.23 238.69,54.23 239.03,54.23 239.38,54.23 239.72,54.23 240.07,54.23 240.41,54.23 240.76,54.23 241.11,54.23 241.45,54.23 241.80,54.23 242.14,54.23 242.49,54.23 242.84,54.23 243.18,54.23 243.53,54.23 243.87,54.23 244.22,54.23 244.57,54.23 244.91,54.23 245.26,54.23 245.60,54.23 245.95,54.23 246.30,54.23 246.64,54.23 246.99,54.23 247.33,54.23 247.68,54.23 248.02,54.23 248.37,54.23 248.72,63.34 249.06,77.22 249.41,90.05 249.75,101.79 250.10,112.45 250.45,122.05 250.79,130.61 251.14,138.19 251.48,144.85 251.83,150.64 252.18,155.65 252.52,159.95 252.87,163.61 253.21,166.71 253.56,169.33 253.90,171.53 254.25,173.37 254.60,174.91 254.94,176.21 255.29,177.30 255.63,178.22 255.98,179.01 256.33,179.70 256.67,180.30"/><polyline fill="none" stroke="#6d9984" stroke-width="1.00" stroke-linejoin="round" points="49.48,203.78 49.83,203.55 50.17,203.34 50.52,203.15 50.86,202.99 51.21,202.83 51.56,202.69 51.90,202.56 52.25,202.43 52.59,202.32 52.94,202.20 53.28,202.09 53.63,201.99 53.98,201.88 54.32,201.78 54.67,201.68 55.01,201.58 55.36,201.48 55.71,201.38 56.05,201.28 56.40,201.18 56.74,201.08 57.09,200.98 57.44,200.88 57.78,200.77 58.13,200.67 58.47,200.56 58.82,200.45 59.17,200.34 59.51,200.23 59.86,200.12 60.20,200.01 60.55,199.89 60.89,199.77 61.24,199.66 61.59,199.53 61.93,199.41 62.28,199.29 62.62,199.16 62.97,199.04 63.32,198.91 63.66,198.78 64.01,198.64 64.35,198.51 64.70,198.37 65.05,198.23 65.39,198.09 65.74,197.95 66.08,197.80 66.43,197.66 66.77,197.51 67.12,197.36 67.47,197.20 67.81,197.05 68.16,196.89 68.50,196.73 68.85,196.57 69.20,196.41 69.54,196.24 69.89,196.07 70.23,195.90 70.58,195.73 70.93,195.55 71.27,195.38 71.62,195.20 71.96,195.02 72.31,194.83 72.66,194.65 73.00,194.46 73.35,194.27 73.69,194.07 74.04,193.88 74.38,193.68 74.73,193.48 75.08,193.27 75.42,193.07 75.77,192.86 76.11,192.65 76.46,192.44 76.81,192.22 77.15,192.00 77.50,191.78 77.84,191.56 78.19,191.33 78.54,191.11 78.88,190.87 79.23,190.64 79.57,190.40 79.92,190.17 80.26,189.92 80.61,189.68 80.96,189.43 81.30,189.18 81.65,188.93 81.99,188.68 82.34,188.42 82.69,188.16 83.03,187.89 83.38,187.63 83.72,187.36 84.07,187.09 84.42,186.81 84.76,186.54 85.11,186.26 85.45,185.97 85.80,185.69 86.15,185.40 86.49,185.11 86.84,184.82 87.18,184.52 87.53,184.22 87.87,183.92 88.22,183.61 88.57,183.30 88.91,182.99 89.26,182.68 89.60,182.36 89.95,182.04 90.30,181.72 90.64,181.40 90.99,181.07 91.33,180.74 91.68,180.40 92.03,180.07 92.37,179.73 92.72,179.39 93.06,179.04 93.41,178.69 93.75,178.34 94.10,177.99 94.45,177.63 94.79,177.27 95.14,176.91 95.48,176.55 95.83,176.18 96.18,175.81 96.52,175.43 96.87,175.06 97.21,174.68 97.56,174.30 97.91,173.91 98.25,173.53 98.60,173.14 98.94,172.74 99.29,172.35 99.63,171.95 99.98,171.55 100.33,171.15 100.67,170.74 101.02,170.33 101.36,169.92 101.71,169.51 102.06,169.09 102.40,168.67 102.75,168.25 103.09,167.83 103.44,167.40 103.79,166.97 104.13,166.54 104.48,166.11 104.82,165.67 105.17,165.23 105.52,164.79 105.86,164.35 106.21,163.90 106.55,163.45 106.90,163.00 107.24,162.55 107.59,162.10 107.94,161.64 108.28,161.18 108.63,160.72 108.97,160.26 109.32,159.79 109.67,159.32 110.01,158.85 110.36,158.38 110.70,157.91 111.05,157.43 111.40,156.96 111.74,156.48 112.09,156.00 112.43,155.51 112.78,155.03 113.12,154.54 113.47,154.05 113.82,153.56 114.16,153.07 114.51,152.58 114.85,152.09 115.20,151.59 115.55,151.09 115.89,150.60 116.24,150.10 116.58,149.59 116.93,149.09 117.28,148.59 117.62,148.08 117.97,147.58 118.31,147.07 118.66,146.56 119.01,146.05 119.35,145.54 119.70,145.03 120.04,144.52 120.39,144.01 120.73,143.49 121.08,142.98 121.43,142.47 121.77,141.95 122.12,141.44 122.46,140.92 122.81,140.40 123.16,139.88 123.50,139.37 123.85,138.85 124.19,138.33 124.54,137.81 124.89,137.29 125.23,136.78 125.58,136.26 125.92,135.74 126.27,135.22 126.61,134.70 126.96,134.18 127.31,133.67 127.65,133.15 128.00,132.63 128.34,132.11 128.69,131.60 129.04,131.08 129.38,130.57 129.73,130.05 130.07,129.54 130.42,129.03 130.77,128.51 131.11,128.00 131.46,127.49 131.80,126.98 132.15,126.47 132.50,125.97 132.84,125.46 133.19,124.95 133.53,124.45 133.88,123.95 134.22,123.45 134.57,122.95 134.92,122.45 135.26,121.95 135.61,121.46 135.95,120.97 136.30,120.47 136.65,119.99 136.99,119.50 137.34,119.01 137.68,118.53 138.03,118.05 138.38,117.57 138.72,117.09 139.07,116.62 139.41,116.14 139.76,115.67 140.10,115.20 140.45,114.74 140.80,114.28 141.14,113.82 141.49,113.36 141.83,112.90 142.18,112.45 142.53,112.00 142.87,111.55 143.22,111.11 143.56,110.67 143.91,110.23 144.26,109.80 144.60,109.37 144.95,108.94 145.29,108.51 145.64,108.09 145.99,107.67 146.33,107.26 146.68,106.85 147.02,106.44 147.37,106.03 147.71,105.63 148.06,105.24 148.41,104.84 148.75,104.45 149.10,104.07 149.44,103.69 149.79,103.31 150.14,102.93 150.48,102.56 150.83,102.20 151.17,101.84 151.52,101.48 151.87,101.12 152.21,100.78 152.56,100.43 152.90,100.09 153.25,99.75 153.59,99.42 153.94,99.09 154.29,98.77 154.63,98.45 154.98,98.14 155.32,97.83 155.67,97.52 156.02,97.22 156.36,96.93 156.71,96.63 157.05,96.35 157.40,96.07 157.75,95.79 158.09,95.52 158.44,95.25 158.78,94.99 159.13,94.73 159.48,94.48 159.82,94.23 160.17,93.99 160.51,93.75 160.86,93.52 161.20,93.29 161.55,93.07 161.90,92.85 162.24,92.64 162.59,92.43 162.93,92.23 163.28,92.04 163.63,91.85 163.97,91.66 164.32,91.48 164.66,91.30 165.01,91.13 165.36,90.97 165.70,90.81 166.05,90.65 166.39,90.50 166.74,90.36 167.08,90.22 167.43,90.08 167.78,89.96 168.12,89.83 168.47,89.71 168.81,89.60 169.16,89.49 169.51,89.39 169.85,89.29 170.20,89.20 170.54,89.11 170.89,89.03 171.24,88.96 171.58,88.88 171.93,88.82 172.27,88.76 172.62,88.70 172.97,88.65 173.31,88.60 173.66,88.56 174.00,88.52 174.35,88.49 174.69,88.46 175.04,88.44 175.39,88.42 175.73,88.41 176.08,88.40 176.42,88.40 176.77,88.40 177.12,88.40 177.46,88.40 177.81,88.42 178.15,88.43 178.50,88.46 178.85,88.48 179.19,88.52 179.54,88.55 179.88,88.60 180.23,88.65 180.57,88.70 180.92,88.76 181.27,88.83 181.61,88.90 181.96,88.98 182.30,89.06 182.65,89.15 183.00,89.25 183.34,89.35 183.69,89.46 184.03,89.57 184.38,89.69 184.73,89.81 185.07,89.94 185.42,90.08 185.76,90.23 186.11,90.37 186.46,90.53 186.80,90.69 187.15,90.86 187.49,91.03 187.84,91.21 188.18,91.39 188.53,91.58 188.88,91.78 189.22,91.98 189.57,92.19 189.91,92.41 190.26,92.63 190.61,92.85 190.95,93.09 191.30,93.32 191.64,93.57 191.99,93.82 192.34,94.07 192.68,94.33 193.03,94.60 193.37,94.87 193.72,95.15 194.06,95.43 194.41,95.72 194.76,96.02 195.10,96.32 195.45,96.62 195.79,96.93 196.14,97.25 196.49,97.57 196.83,97.90 197.18,98.23 197.52,98.57 197.87,98.91 198.22,99.26 198.56,99.61 198.91,99.97 199.25,100.33 199.60,100.70 199.94,101.07 200.29,101.45 200.64,101.83 200.98,102.22 201.33,102.61 201.67,103.00 202.02,103.40 202.37,103.81 202.71,104.22 203.06,104.63 203.40,105.05 203.75,105.47 204.10,105.90 204.44,106.33 204.79,106.77 205.13,107.21 205.48,107.65 205.83,108.09 206.17,108.55 206.52,109.00 206.86,109.46 207.21,109.92 207.55,110.38 207.90,110.85 208.25,111.33 208.59,111.80 208.94,112.28 209.28,112.76 209.63,113.25 209.98,113.74 210.32,114.23 210.67,114.72 211.01,115.22 211.36,115.72 211.71,116.22 212.05,116.73 212.40,117.24 212.74,117.75 213.09,118.27 213.43,118.79 213.78,119.31 214.13,119.84 214.47,120.37 214.82,120.91 215.16,121.45 215.51,122.00 215.86,122.56 216.20,123.13 216.55,123.70 216.89,124.29 217.24,124.88 217.59,125.49"/><polyline fill="none" stroke="#6d9984" stroke-width="0.75" stroke-linejoin="round" points="217.59,125.49 217.93,126.10 218.28,126.72 218.62,127.35 218.97,127.98 219.32,128.60 219.66,129.21 220.01,129.80 220.35,130.34 220.70,130.83 221.04,131.24 221.39,131.55 221.74,131.71 222.08,131.71 222.43,131.49 222.77,131.02 223.12,130.25 223.47,129.12 223.81,127.58 224.16,125.57 224.50,123.04 224.85,119.93 225.20,116.19 225.54,111.75 225.89,106.58 226.23,100.64 226.58,93.88 226.92,86.28 227.27,77.82 227.62,68.49 227.96,58.31 228.31,54.23 228.65,54.23 229.00,54.23 229.35,54.23 229.69,54.23 230.04,54.23 230.38,54.23 230.73,54.23 231.08,54.23 231.42,54.23 231.77,54.23 232.11,54.23 232.46,54.23 232.81,54.23 233.15,54.23 233.50,54.23 233.84,54.23 234.19,54.23 234.53,54.23 234.88,54.23 235.23,54.23 235.57,54.23 235.92,54.23 236.26,54.23 236.61,54.23 236.96,54.23 237.30,54.23 237.65,54.23 237.99,54.23 238.34,54.23 238.69,54.23 239.03,54.23 239.38,54.23 239.72,54.23 240.07,54.23 240.41,54.23 240.76,54.23 241.11,54.23 241.45,54.23 241.80,54.23 242.14,54.23 242.49,54.23 242.84,54.23 243.18,54.23 243.53,54.23 243.87,54.23 244.22,54.23 244.57,54.23 244.91,54.23 245.26,54.23 245.60,54.23 245.95,54.23 246.30,54.23 246.64,54.23 246.99,54.23 247.33,54.23 247.68,54.23 248.02,54.23 248.37,67.93 248.72,80.81 249.06,92.71 249.41,103.62 249.75,113.54 250.10,122.49 250.45,130.52 250.79,137.66 251.14,143.98 251.48,149.52 251.83,154.36 252.18,158.56 252.52,162.18 252.87,165.29 253.21,167.95 253.56,170.22 253.90,172.15 254.25,173.79 254.60,175.20 254.94,176.39 255.29,177.42 255.63,178.31 255.98,179.09 256.33,179.78 256.67,180.39"/><polyline fill="none" stroke="#5f9989" stroke-width="1.00" stroke-linejoin="round" points="49.48,204.20 49.83,204.01 50.17,203.84 50.52,203.70 50.86,203.56 51.21,203.44 51.56,203.32 51.90,203.21 52.25,203.11 52.59,203.01 52.94,202.92 53.28,202.83 53.63,202.74 53.98,202.65 54.32,202.56 54.67,202.48 55.01,202.39 55.36,202.31 55.71,202.22 56.05,202.14 56.40,202.05 56.74,201.96 57.09,201.88 57.44,201.79 57.78,201.70 58.13,201.61 58.47,201.52 58.82,201.42 59.17,201.33 59.51,201.23 59.86,201.13 60.20,201.03 60.55,200.93 60.89,200.83 61.24,200.73 61.59,200.62 61.93,200.52 62.28,200.41 62.62,200.30 62.97,200.19 63.32,200.07 63.66,199.96 64.01,199.84 64.35,199.72 64.70,199.60 65.05,199.48 65.39,199.36 65.74,199.23 66.08,199.10 66.43,198.97 66.77,198.84 67.12,198.71 67.47,198.57 67.81,198.43 68.16,198.29 68.50,198.15 68.85,198.01 69.20,197.86 69.54,197.72 69.89,197.57 70.23,197.41 70.58,197.26 70.93,197.10 71.27,196.95 71.62,196.79 71.96,196.62 72.31,196.46 72.66,196.29 73.00,196.12 73.35,195.95 73.69,195.78 74.04,195.60 74.38,195.42 74.73,195.24 75.08,195.06 75.42,194.87 75.77,194.68 76.11,194.49 76.46,194.30 76.81,194.10 77.15,193.91 77.50,193.71 77.84,193.50 78.19,193.30 78.54,193.09 78.88,192.88 79.23,192.67 79.57,192.45 79.92,192.23 80.26,192.01 80.61,191.79 80.96,191.56 81.30,191.33 81.65,191.10 81.99,190.87 82.34,190.63 82.69,190.39 83.03,190.15 83.38,189.91 83.72,189.66 84.07,189.41 84.42,189.16 84.76,188.90 85.11,188.64 85.45,188.38 85.80,188.12 86.15,187.85 86.49,187.58 86.84,187.31 87.18,187.03 87.53,186.75 87.87,186.47 88.22,186.19 88.57,185.90 88.91,185.61 89.26,185.32 89.60,185.02 89.95,184.73 90.30,184.43 90.64,184.12 90.99,183.81 91.33,183.50 91.68,183.19 92.03,182.88 92.37,182.56 92.72,182.24 93.06,181.91 93.41,181.58 93.75,181.25 94.10,180.92 94.45,180.58 94.79,180.24 95.14,179.90 95.48,179.56 95.83,179.21 96.18,178.86 96.52,178.50 96.87,178.15 97.21,177.79 97.56,177.43 97.91,177.06 98.25,176.69 98.60,176.32 98.94,175.95 99.29,175.57 99.63,175.19 99.98,174.81 100.33,174.42 100.67,174.03 101.02,173.64 101.36,173.25 101.71,172.85 102.06,172.45 102.40,172.05 102.75,171.65 103.09,171.24 103.44,170.83 103.79,170.42 104.13,170.00 104.48,169.58 104.82,169.16 105.17,168.74 105.52,168.31 105.86,167.88 106.21,167.45 106.55,167.02 106.90,166.58 107.24,166.14 107.59,165.70 107.94,165.25 108.28,164.81 108.63,164.36 108.97,163.91 109.32,163.45 109.67,163.00 110.01,162.54 110.36,162.08 110.70,161.62 111.05,161.15 111.40,160.68 111.74,160.21 112.09,159.74 112.43,159.27 112.78,158.79 113.12,158.32 113.47,157.84 113.82,157.35 114.16,156.87 114.51,156.38 114.85,155.90 115.20,155.41 115.55,154.92 115.89,154.42 116.24,153.93 116.58,153.43 116.93,152.94 117.28,152.44 117.62,151.93 117.97,151.43 118.31,150.93 118.66,150.42 119.01,149.92 119.35,149.41 119.70,148.90 120.04,148.39 120.39,147.88 120.73,147.36 121.08,146.85 121.43,146.34 121.77,145.82 122.12,145.30 122.46,144.78 122.81,144.27 123.16,143.75 123.50,143.23 123.85,142.70 124.19,142.18 124.54,141.66 124.89,141.14 125.23,140.61 125.58,140.09 125.92,139.57 126.27,139.04 126.61,138.52 126.96,137.99 127.31,137.47 127.65,136.94 128.00,136.42 128.34,135.89 128.69,135.37 129.04,134.84 129.38,134.32 129.73,133.79 130.07,133.27 130.42,132.74 130.77,132.22 131.11,131.70 131.46,131.18 131.80,130.65 132.15,130.13 132.50,129.61 132.84,129.09 133.19,128.57 133.53,128.06 133.88,127.54 134.22,127.02 134.57,126.51 134.92,125.99 135.26,125.48 135.61,124.97 135.95,124.46 136.30,123.95 136.65,123.44 136.99,122.94 137.34,122.43 137.68,121.93 138.03,121.43 138.38,120.93 138.72,120.43 139.07,119.94 139.41,119.45 139.76,118.95 140.10,118.47 140.45,117.98 140.80,117.49 141.14,117.01 141.49,116.53 141.83,116.05 142.18,115.58 142.53,115.10 142.87,114.63 143.22,114.17 143.56,113.70 143.91,113.24 144.26,112.78 144.60,112.32 144.95,111.87 145.29,111.42 145.64,110.97 145.99,110.52 146.33,110.08 146.68,109.64 147.02,109.21 147.37,108.78 147.71,108.35 148.06,107.92 148.41,107.50 148.75,107.08 149.10,106.67 149.44,106.26 149.79,105.85 150.14,105.45 150.48,105.05 150.83,104.65 151.17,104.26 151.52,103.87 151.87,103.49 152.21,103.11 152.56,102.74 152.90,102.36 153.25,102.00 153.59,101.63 153.94,101.28 154.29,100.92 154.63,100.57 154.98,100.23 155.32,99.89 155.67,99.55 156.02,99.22 156.36,98.89 156.71,98.57 157.05,98.25 157.40,97.94 157.75,97.63 158.09,97.32 158.44,97.02 158.78,96.73 159.13,96.44 159.48,96.16 159.82,95.88 160.17,95.60 160.51,95.33 160.86,95.07 161.20,94.81 161.55,94.56 161.90,94.31 162.24,94.06 162.59,93.83 162.93,93.59 163.28,93.37 163.63,93.14 163.97,92.92 164.32,92.71 164.66,92.51 165.01,92.30 165.36,92.11 165.70,91.92 166.05,91.73 166.39,91.55 166.74,91.38 167.08,91.21 167.43,91.04 167.78,90.88 168.12,90.73 168.47,90.58 168.81,90.44 169.16,90.30 169.51,90.17 169.85,90.05 170.20,89.93 170.54,89.81 170.89,89.70 171.24,89.60 171.58,89.50 171.93,89.40 172.27,89.32 172.62,89.23 172.97,89.15 173.31,89.08 173.66,89.02 174.00,88.95 174.35,88.90 174.69,88.85 175.04,88.80 175.39,88.76 175.73,88.72 176.08,88.69 176.42,88.67 176.77,88.64 177.12,88.63 177.46,88.62 177.81,88.61 178.15,88.60 178.50,88.61 178.85,88.61 179.19,88.62 179.54,88.64 179.88,88.66 180.23,88.68 180.57,88.71 180.92,88.75 181.27,88.80 181.61,88.84 181.96,88.90 182.30,88.96 182.65,89.03 183.00,89.10 183.34,89.18 183.69,89.26 184.03,89.36 184.38,89.45 184.73,89.56 185.07,89.67 185.42,89.78 185.76,89.90 186.11,90.03 186.46,90.17 186.80,90.31 187.15,90.45 187.49,90.61 187.84,90.77 188.18,90.93 188.53,91.10 188.88,91.28 189.22,91.47 189.57,91.66 189.91,91.85 190.26,92.06 190.61,92.27 190.95,92.48 191.30,92.70 191.64,92.93 191.99,93.16 192.34,93.40 192.68,93.65 193.03,93.90 193.37,94.16 193.72,94.42 194.06,94.69 194.41,94.96 194.76,95.24 195.10,95.53 195.45,95.82 195.79,96.12 196.14,96.42 196.49,96.73 196.83,97.05 197.18,97.37 197.52,97.70 197.87,98.03 198.22,98.36 198.56,98.71 198.91,99.05 199.25,99.41 199.60,99.77 199.94,100.13 200.29,100.50 200.64,100.87 200.98,101.25 201.33,101.63 201.67,102.02 202.02,102.42 202.37,102.82 202.71,103.22 203.06,103.63 203.40,104.04 203.75,104.46 204.10,104.88 204.44,105.30 204.79,105.73 205.13,106.17 205.48,106.61 205.83,107.05 206.17,107.50 206.52,107.95 206.86,108.41 207.21,108.86 207.55,109.33 207.90,109.79 208.25,110.27 208.59,110.74 208.94,111.22 209.28,111.70 209.63,112.18 209.98,112.67 210.32,113.16 210.67,113.66 211.01,114.16 211.36,114.66 211.71,115.16 212.05,115.67 212.40,116.18 212.74,116.70 213.09,117.22 213.43,117.74 213.78,118.26 214.13,118.79 214.47,119.33 214.82,119.87 215.16,120.42 215.51,120.97 215.86,121.54 216.20,122.11 216.55,122.69 216.89,123.29 217.24,123.90 217.59,124.52"/><polyline fill="none" stroke="#5f9989" stroke-width="0.75" stroke-linejoin="round" points="217.59,124.52 217.93,125.15 218.28,125.80 218.62,126.46 218.97,127.13 219.32,127.80 219.66,128.47 220.01,129.14 220.35,129.78 220.70,130.39 221.04,130.94 221.39,131.43 221.74,131.81 222.08,132.07 222.43,132.17 222.77,132.07 223.12,131.73 223.47,131.12 223.81,130.17 224.16,128.85 224.50,127.11 224.85,124.89 225.20,122.15 225.54,118.84 225.89,114.91 226.23,110.32 226.58,105.03 226.92,99.01 227.27,92.23 227.62,84.67 227.96,76.32 228.31,67.16 228.65,57.22 229.00,54.23 229.35,54.23 229.69,54.23 230.04,54.23 230.38,54.23 230.73,54.23 231.08,54.23 231.42,54.23 231.77,54.23 232.11,54.23 232.46,54.23 232.81,54.23 233.15,54.23 233.50,54.23 233.84,54.23 234.19,54.23 234.53,54.23 234.88,54.23 235.23,54.23 235.57,54.23 235.92,54.23 236.26,54.23 236.61,54.23 236.96,54.23 237.30,54.23 237.65,54.23 237.99,54.23 238.34,54.23 238.69,54.23 239.03,54.23 239.38,54.23 239.72,54.23 240.07,54.23 240.41,54.23 240.76,54.23 241.11,54.23 241.45,54.23 241.80,54.23 242.14,54.23 242.49,54.23 242.84,54.23 243.18,54.23 243.53,54.23 243.87,54.23 244.22,54.23 244.57,54.23 244.91,54.23 245.26,54.23 245.60,54.23 245.95,54.23 246.30,54.23 246.64,54.23 246.99,54.23 247.33,54.23 247.68,59.51 248.02,72.29 248.37,84.18 248.72,95.17 249.06,105.24 249.41,114.43 249.75,122.75 250.10,130.25 250.45,136.96 250.79,142.94 251.14,148.23 251.48,152.90 251.83,156.99 252.18,160.57 252.52,163.68 252.87,166.38 253.21,168.72 253.56,170.75 253.90,172.50 254.25,174.02 254.60,175.33 254.94,176.48 255.29,177.49 255.63,178.38 255.98,179.18 256.33,179.89 256.67,180.54"/><polyline fill="none" stroke="#51998f" stroke-width="1.00" stroke-linejoin="round" points="49.48,204.56 49.83,204.41 50.17,204.28 50.52,204.16 50.86,204.06 51.21,203.96 51.56,203.86 51.90,203.77 52.25,203.69 52.59,203.61 52.94,203.53 53.28,203.46 53.63,203.38 53.98,203.31 54.32,203.24 54.67,203.17 55.01,203.10 55.36,203.02 55.71,202.95 56.05,202.88 56.40,202.81 56.74,202.73 57.09,202.66 57.44,202.58 57.78,202.51 58.13,202.43 58.47,202.35 58.82,202.27 59.17,202.19 59.51,202.11 59.86,202.02 60.20,201.94 60.55,201.85 60.89,201.76 61.24,201.67 61.59,201.58 61.93,201.49 62.28,201.40 62.62,201.30 62.97,201.20 63.32,201.10 63.66,201.00 64.01,200.90 64.35,200.80 64.70,200.69 65.05,200.59 65.39,200.48 65.74,200.37 66.08,200.26 66.43,200.14 66.77,200.03 67.12,199.91 67.47,199.79 67.81,199.67 68.16,199.55 68.50,199.42 68.85,199.30 69.20,199.17 69.54,199.04 69.89,198.91 70.23,198.77 70.58,198.64 70.93,198.50 71.27,198.36 71.62,198.22 71.96,198.07 72.31,197.93 72.66,197.78 73.00,197.63 73.35,197.47 73.69,197.32 74.04,197.16 74.38,197.00 74.73,196.84 75.08,196.68 75.42,196.51 75.77,196.34 76.11,196.17 76.46,196.00 76.81,195.82 77.15,195.64 77.50,195.46 77.84,195.28 78.19,195.10 78.54,194.91 78.88,194.72 79.23,194.53 79.57,194.33 79.92,194.13 80.26,193.93 80.61,193.73 80.96,193.53 81.30,193.32 81.65,193.11 81.99,192.90 82.34,192.68 82.69,192.46 83.03,192.24 83.38,192.02 83.72,191.79 84.07,191.56 84.42,191.33 84.76,191.10 85.11,190.86 85.45,190.62 85.80,190.38 86.15,190.13 86.49,189.89 86.84,189.63 87.18,189.38 87.53,189.12 87.87,188.87 88.22,188.60 88.57,188.34 88.91,188.07 89.26,187.80 89.60,187.53 89.95,187.25 90.30,186.97 90.64,186.69 90.99,186.40 91.33,186.11 91.68,185.82 92.03,185.53 92.37,185.23 92.72,184.93 93.06,184.63 93.41,184.32 93.75,184.01 94.10,183.70 94.45,183.39 94.79,183.07 95.14,182.75 95.48,182.42 95.83,182.10 96.18,181.77 96.52,181.43 96.87,181.10 97.21,180.76 97.56,180.42 97.91,180.07 98.25,179.72 98.60,179.37 98.94,179.02 99.29,178.66 99.63,178.30 99.98,177.94 100.33,177.57 100.67,177.21 101.02,176.83 101.36,176.46 101.71,176.08 102.06,175.70 102.40,175.32 102.75,174.93 103.09,174.54 103.44,174.15 103.79,173.75 104.13,173.36 104.48,172.95 104.82,172.55 105.17,172.14 105.52,171.73 105.86,171.32 106.21,170.91 106.55,170.49 106.90,170.07 107.24,169.64 107.59,169.22 107.94,168.79 108.28,168.36 108.63,167.92 108.97,167.49 109.32,167.05 109.67,166.60 110.01,166.16 110.36,165.71 110.70,165.26 111.05,164.81 111.40,164.36 111.74,163.90 112.09,163.44 112.43,162.98 112.78,162.51 113.12,162.05 113.47,161.58 113.82,161.10 114.16,160.63 114.51,160.16 114.85,159.68 115.20,159.20 115.55,158.71 115.89,158.23 116.24,157.74 116.58,157.25 116.93,156.76 117.28,156.27 117.62,155.78 117.97,155.28 118.31,154.78 118.66,154.28 119.01,153.78 119.35,153.28 119.70,152.77 120.04,152.27 120.39,151.76 120.73,151.25 121.08,150.74 121.43,150.23 121.77,149.71 122.12,149.20 122.46,148.68 122.81,148.16 123.16,147.64 123.50,147.12 123.85,146.60 124.19,146.08 124.54,145.56 124.89,145.03 125.23,144.51 125.58,143.98 125.92,143.45 126.27,142.93 126.61,142.40 126.96,141.87 127.31,141.34 127.65,140.81 128.00,140.28 128.34,139.75 128.69,139.22 129.04,138.68 129.38,138.15 129.73,137.62 130.07,137.09 130.42,136.56 130.77,136.02 131.11,135.49 131.46,134.96 131.80,134.43 132.15,133.90 132.50,133.36 132.84,132.83 133.19,132.30 133.53,131.77 133.88,131.24 134.22,130.71 134.57,130.19 134.92,129.66 135.26,129.13 135.61,128.60 135.95,128.08 136.30,127.56 136.65,127.03 136.99,126.51 137.34,125.99 137.68,125.47 138.03,124.95 138.38,124.44 138.72,123.92 139.07,123.41 139.41,122.89 139.76,122.38 140.10,121.87 140.45,121.37 140.80,120.86 141.14,120.36 141.49,119.86 141.83,119.36 142.18,118.86 142.53,118.37 142.87,117.87 143.22,117.38 143.56,116.89 143.91,116.41 144.26,115.92 144.60,115.44 144.95,114.96 145.29,114.49 145.64,114.02 145.99,113.54 146.33,113.08 146.68,112.61 147.02,112.15 147.37,111.69 147.71,111.24 148.06,110.79 148.41,110.34 148.75,109.89 149.10,109.45 149.44,109.01 149.79,108.57 150.14,108.14 150.48,107.71 150.83,107.29 151.17,106.87 151.52,106.45 151.87,106.04 152.21,105.63 152.56,105.22 152.90,104.82 153.25,104.42 153.59,104.03 153.94,103.64 154.29,103.25 154.63,102.87 154.98,102.49 155.32,102.12 155.67,101.75 156.02,101.39 156.36,101.03 156.71,100.68 157.05,100.33 157.40,99.98 157.75,99.64 158.09,99.30 158.44,98.97 158.78,98.64 159.13,98.32 159.48,98.01 159.82,97.69 160.17,97.39 160.51,97.08 160.86,96.79 161.20,96.49 161.55,96.21 161.90,95.93 162.24,95.65 162.59,95.38 162.93,95.11 163.28,94.85 163.63,94.59 163.97,94.34 164.32,94.10 164.66,93.86 165.01,93.63 165.36,93.40 165.70,93.17 166.05,92.95 166.39,92.74 166.74,92.54 167.08,92.33 167.43,92.14 167.78,91.95 168.12,91.76 168.47,91.58 168.81,91.41 169.16,91.24 169.51,91.08 169.85,90.92 170.20,90.77 170.54,90.62 170.89,90.48 171.24,90.35 171.58,90.22 171.93,90.10 172.27,89.98 172.62,89.87 172.97,89.76 173.31,89.66 173.66,89.57 174.00,89.48 174.35,89.39 174.69,89.31 175.04,89.24 175.39,89.17 175.73,89.11 176.08,89.06 176.42,89.00 176.77,88.96 177.12,88.92 177.46,88.88 177.81,88.85 178.15,88.83 178.50,88.81 178.85,88.79 179.19,88.78 179.54,88.78 179.88,88.78 180.23,88.78 180.57,88.79 180.92,88.80 181.27,88.82 181.61,88.84 181.96,88.87 182.30,88.91 182.65,88.95 183.00,89.00 183.34,89.06 183.69,89.12 184.03,89.19 184.38,89.26 184.73,89.34 185.07,89.43 185.42,89.52 185.76,89.62 186.11,89.72 186.46,89.84 186.80,89.96 187.15,90.08 187.49,90.21 187.84,90.35 188.18,90.49 188.53,90.65 188.88,90.80 189.22,90.97 189.57,91.14 189.91,91.31 190.26,91.50 190.61,91.69 190.95,91.88 191.30,92.08 191.64,92.29 191.99,92.51 192.34,92.73 192.68,92.96 193.03,93.19 193.37,93.43 193.72,93.68 194.06,93.93 194.41,94.19 194.76,94.46 195.10,94.73 195.45,95.01 195.79,95.29 196.14,95.58 196.49,95.88 196.83,96.18 197.18,96.48 197.52,96.80 197.87,97.12 198.22,97.44 198.56,97.77 198.91,98.11 199.25,98.45 199.60,98.80 199.94,99.15 200.29,99.51 200.64,99.87 200.98,100.24 201.33,100.62 201.67,101.00 202.02,101.38 202.37,101.77 202.71,102.17 203.06,102.57 203.40,102.98 203.75,103.39 204.10,103.80 204.44,104.22 204.79,104.65 205.13,105.08 205.48,105.51 205.83,105.95 206.17,106.39 206.52,106.84 206.86,107.29 207.21,107.75 207.55,108.21 207.90,108.67 208.25,109.14 208.59,109.61 208.94,110.09 209.28,110.57 209.63,111.05 209.98,111.54 210.32,112.03 210.67,112.52 211.01,113.02 211.36,113.52 211.71,114.03 212.05,114.54 212.40,115.05 212.74,115.56 213.09,116.08 213.43,116.61 213.78,117.13 214.13,117.67 214.47,118.20 214.82,118.75 215.16,119.30 215.51,119.86 215.86,120.42 216.20,121.00 216.55,121.59 216.89,122.19 217.24,122.81 217.59,123.44"/><polyline fill="none" stroke="#51998f" stroke-width="0.75" stroke-linejoin="round" points="217.59,123.44 217.93,124.09 218.28,124.76 218.62,125.44 218.97,126.14 219.32,126.85 219.66,127.57 220.01,128.29 220.35,129.01 220.70,129.70 221.04,130.37 221.39,130.98 221.74,131.53 222.08,131.98 222.43,132.30 222.77,132.47 223.12,132.46 223.47,132.22 223.81,131.71 224.16,130.90 224.50,129.75 224.85,128.20 225.20,126.22 225.54,123.77 225.89,120.81 226.23,117.29 226.58,113.19 226.92,108.47 227.27,103.10 227.62,97.06 227.96,90.32 228.31,82.88 228.65,74.71 229.00,65.82 229.35,56.20 229.69,54.23 230.04,54.23 230.38,54.23 230.73,54.23 231.08,54.23 231.42,54.23 231.77,54.23 232.11,54.23 232.46,54.23 232.81,54.23 233.15,54.23 233.50,54.23 233.84,54.23 234.19,54.23 234.53,54.23 234.88,54.23 235.23,54.23 235.57,54.23 235.92,54.23 236.26,54.23 236.61,54.23 236.96,54.23 237.30,54.23 237.65,54.23 237.99,54.23 238.34,54.23 238.69,54.23 239.03,54.23 239.38,54.23 239.72,54.23 240.07,54.23 240.41,54.23 240.76,54.23 241.11,54.23 241.45,54.23 241.80,54.23 242.14,54.23 242.49,54.23 242.84,54.23 243.18,54.23 243.53,54.23 243.87,54.23 244.22,54.23 244.57,54.23 244.91,54.23 245.26,54.23 245.60,54.23 245.95,54.23 246.30,54.23 246.64,54.23 246.99,54.23 247.33,64.70 247.68,76.43 248.02,87.33 248.37,97.40 248.72,106.66 249.06,115.13 249.41,122.83 249.75,129.80 250.10,136.08 250.45,141.72 250.79,146.76 251.14,151.25 251.48,155.23 251.83,158.76 252.18,161.87 252.52,164.61 252.87,167.02 253.21,169.14 253.56,171.00 253.90,172.65 254.25,174.10 254.60,175.38 254.94,176.53 255.29,177.56 255.63,178.48 255.98,179.32 256.33,180.10 256.67,180.81"/><polyline fill="none" stroke="#439994" stroke-width="1.00" stroke-linejoin="round" points="49.48,204.92 49.83,204.81 50.17,204.71 50.52,204.62 50.86,204.53 51.21,204.46 51.56,204.38 51.90,204.32 52.25,204.25 52.59,204.19 52.94,204.13 53.28,204.07 53.63,204.01 53.98,203.95 54.32,203.89 54.67,203.83 55.01,203.77 55.36,203.72 55.71,203.66 56.05,203.60 56.40,203.54 56.74,203.48 57.09,203.42 57.44,203.35 57.78,203.29 58.13,203.23 58.47,203.16 58.82,203.09 59.17,203.03 59.51,202.96 59.86,202.89 60.20,202.82 60.55,202.75 60.89,202.67 61.24,202.60 61.59,202.52 61.93,202.44 62.28,202.37 62.62,202.29 62.97,202.20 63.32,202.12 63.66,202.04 64.01,201.95 64.35,201.86 64.70,201.78 65.05,201.69 65.39,201.59 65.74,201.50 66.08,201.41 66.43,201.31 66.77,201.21 67.12,201.11 67.47,201.01 67.81,200.91 68.16,200.80 68.50,200.70 68.85,200.59 69.20,200.48 69.54,200.37 69.89,200.25 70.23,200.14 70.58,200.02 70.93,199.90 71.27,199.78 71.62,199.66 71.96,199.53 72.31,199.41 72.66,199.28 73.00,199.15 73.35,199.02 73.69,198.88 74.04,198.75 74.38,198.61 74.73,198.47 75.08,198.32 75.42,198.18 75.77,198.03 76.11,197.88 76.46,197.73 76.81,197.58 77.15,197.42 77.50,197.26 77.84,197.10 78.19,196.94 78.54,196.78 78.88,196.61 79.23,196.44 79.57,196.27 79.92,196.09 80.26,195.92 80.61,195.74 80.96,195.56 81.30,195.37 81.65,195.19 81.99,195.00 82.34,194.80 82.69,194.61 83.03,194.41 83.38,194.21 83.72,194.01 84.07,193.81 84.42,193.60 84.76,193.39 85.11,193.18 85.45,192.96 85.80,192.75 86.15,192.53 86.49,192.30 86.84,192.08 87.18,191.85 87.53,191.62 87.87,191.38 88.22,191.15 88.57,190.91 88.91,190.66 89.26,190.42 89.60,190.17 89.95,189.92 90.30,189.67 90.64,189.41 90.99,189.15 91.33,188.89 91.68,188.62 92.03,188.35 92.37,188.08 92.72,187.80 93.06,187.53 93.41,187.25 93.75,186.96 94.10,186.68 94.45,186.39 94.79,186.09 95.14,185.80 95.48,185.50 95.83,185.20 96.18,184.89 96.52,184.58 96.87,184.27 97.21,183.96 97.56,183.64 97.91,183.32 98.25,183.00 98.60,182.67 98.94,182.34 99.29,182.01 99.63,181.67 99.98,181.34 100.33,180.99 100.67,180.65 101.02,180.30 101.36,179.95 101.71,179.60 102.06,179.24 102.40,178.88 102.75,178.51 103.09,178.15 103.44,177.78 103.79,177.40 104.13,177.03 104.48,176.65 104.82,176.27 105.17,175.88 105.52,175.50 105.86,175.10 106.21,174.71 106.55,174.31 106.90,173.91 107.24,173.51 107.59,173.10 107.94,172.69 108.28,172.28 108.63,171.87 108.97,171.45 109.32,171.03 109.67,170.61 110.01,170.18 110.36,169.75 110.70,169.32 111.05,168.88 111.40,168.45 111.74,168.01 112.09,167.56 112.43,167.12 112.78,166.67 113.12,166.22 113.47,165.76 113.82,165.31 114.16,164.85 114.51,164.39 114.85,163.92 115.20,163.45 115.55,162.99 115.89,162.51 116.24,162.04 116.58,161.56 116.93,161.08 117.28,160.60 117.62,160.12 117.97,159.63 118.31,159.15 118.66,158.66 119.01,158.16 119.35,157.67 119.70,157.17 120.04,156.67 120.39,156.17 120.73,155.67 121.08,155.17 121.43,154.66 121.77,154.15 122.12,153.64 122.46,153.13 122.81,152.62 123.16,152.10 123.50,151.59 123.85,151.07 124.19,150.55 124.54,150.03 124.89,149.50 125.23,148.98 125.58,148.45 125.92,147.93 126.27,147.40 126.61,146.87 126.96,146.34 127.31,145.81 127.65,145.28 128.00,144.74 128.34,144.21 128.69,143.67 129.04,143.14 129.38,142.60 129.73,142.07 130.07,141.53 130.42,140.99 130.77,140.45 131.11,139.91 131.46,139.37 131.80,138.83 132.15,138.29 132.50,137.75 132.84,137.21 133.19,136.67 133.53,136.13 133.88,135.59 134.22,135.05 134.57,134.51 134.92,133.97 135.26,133.43 135.61,132.89 135.95,132.35 136.30,131.81 136.65,131.27 136.99,130.73 137.34,130.20 137.68,129.66 138.03,129.12 138.38,128.59 138.72,128.06 139.07,127.52 139.41,126.99 139.76,126.46 140.10,125.93 140.45,125.41 140.80,124.88 141.14,124.36 141.49,123.83 141.83,123.31 142.18,122.79 142.53,122.27 142.87,121.76 143.22,121.24 143.56,120.73 143.91,120.22 144.26,119.71 144.60,119.20 144.95,118.70 145.29,118.19 145.64,117.69 145.99,117.20 146.33,116.70 146.68,116.21 147.02,115.72 147.37,115.23 147.71,114.75 148.06,114.26 148.41,113.78 148.75,113.31 149.10,112.83 149.44,112.36 149.79,111.90 150.14,111.43 150.48,110.97 150.83,110.52 151.17,110.06 151.52,109.61 151.87,109.16 152.21,108.72 152.56,108.28 152.90,107.84 153.25,107.41 153.59,106.98 153.94,106.56 154.29,106.14 154.63,105.72 154.98,105.31 155.32,104.90 155.67,104.49 156.02,104.09 156.36,103.70 156.71,103.31 157.05,102.92 157.40,102.54 157.75,102.16 158.09,101.78 158.44,101.42 158.78,101.05 159.13,100.69 159.48,100.34 159.82,99.99 160.17,99.64 160.51,99.30 160.86,98.96 161.20,98.63 161.55,98.31 161.90,97.99 162.24,97.67 162.59,97.36 162.93,97.06 163.28,96.76 163.63,96.46 163.97,96.17 164.32,95.89 164.66,95.61 165.01,95.34 165.36,95.07 165.70,94.81 166.05,94.55 166.39,94.30 166.74,94.05 167.08,93.81 167.43,93.58 167.78,93.35 168.12,93.13 168.47,92.91 168.81,92.70 169.16,92.49 169.51,92.29 169.85,92.10 170.20,91.91 170.54,91.72 170.89,91.55 171.24,91.38 171.58,91.21 171.93,91.05 172.27,90.90 172.62,90.75 172.97,90.61 173.31,90.47 173.66,90.34 174.00,90.22 174.35,90.10 174.69,89.99 175.04,89.88 175.39,89.78 175.73,89.68 176.08,89.59 176.42,89.51 176.77,89.43 177.12,89.36 177.46,89.29 177.81,89.23 178.15,89.18 178.50,89.13 178.85,89.08 179.19,89.05 179.54,89.01 179.88,88.99 180.23,88.97 180.57,88.95 180.92,88.94 181.27,88.93 181.61,88.93 181.96,88.93 182.30,88.94 182.65,88.95 183.00,88.97 183.34,89.00 183.69,89.03 184.03,89.07 184.38,89.11 184.73,89.17 185.07,89.22 185.42,89.29 185.76,89.36 186.11,89.44 186.46,89.52 186.80,89.61 187.15,89.71 187.49,89.81 187.84,89.93 188.18,90.04 188.53,90.17 188.88,90.30 189.22,90.44 189.57,90.58 189.91,90.73 190.26,90.89 190.61,91.06 190.95,91.23 191.30,91.41 191.64,91.59 191.99,91.79 192.34,91.99 192.68,92.19 193.03,92.40 193.37,92.62 193.72,92.85 194.06,93.08 194.41,93.32 194.76,93.56 195.10,93.82 195.45,94.07 195.79,94.34 196.14,94.61 196.49,94.89 196.83,95.17 197.18,95.46 197.52,95.76 197.87,96.06 198.22,96.37 198.56,96.69 198.91,97.01 199.25,97.33 199.60,97.67 199.94,98.01 200.29,98.35 200.64,98.70 200.98,99.06 201.33,99.42 201.67,99.79 202.02,100.17 202.37,100.54 202.71,100.93 203.06,101.32 203.40,101.72 203.75,102.12 204.10,102.52 204.44,102.93 204.79,103.35 205.13,103.77 205.48,104.20 205.83,104.63 206.17,105.07 206.52,105.51 206.86,105.95 207.21,106.41 207.55,106.86 207.90,107.32 208.25,107.78 208.59,108.25 208.94,108.73 209.28,109.20 209.63,109.68 209.98,110.17 210.32,110.66 210.67,111.15 211.01,111.65 211.36,112.15 211.71,112.65 212.05,113.16 212.40,113.67 212.74,114.19 213.09,114.71 213.43,115.23 213.78,115.76 214.13,116.30 214.47,116.84 214.82,117.39 215.16,117.94 215.51,118.51 215.86,119.08 216.20,119.67 216.55,120.27 216.89,120.88 217.24,121.51 217.59,122.17"/><polyline fill="none" stroke="#439994" stroke-width="0.75" stroke-linejoin="round" points="217.59,122.17 217.93,122.84 218.28,123.53 218.62,124.25 218.97,124.99 219.32,125.75 219.66,126.53 220.01,127.32 220.35,128.12 220.70,128.92 221.04,129.70 221.39,130.46 221.74,131.18 222.08,131.82 222.43,132.38 222.77,132.82 223.12,133.12 223.47,133.24 223.81,133.15 224.16,132.81 224.50,132.19 224.85,131.25 225.20,129.94 225.54,128.24 225.89,126.11 226.23,123.51 226.58,120.41 226.92,116.77 227.27,112.57 227.62,107.77 227.96,102.35 228.31,96.29 228.65,89.56 229.00,82.16 229.35,74.05 229.69,65.25 230.04,55.73 230.38,54.23 230.73,54.23 231.08,54.23 231.42,54.23 231.77,54.23 232.11,54.23 232.46,54.23 232.81,54.23 233.15,54.23 233.50,54.23 233.84,54.23 234.19,54.23 234.53,54.23 234.88,54.23 235.23,54.23 235.57,54.23 235.92,54.23 236.26,54.23 236.61,54.23 236.96,54.23 237.30,54.23 237.65,54.23 237.99,54.23 238.34,54.23 238.69,54.23 239.03,54.23 239.38,54.23 239.72,54.23 240.07,54.23 240.41,54.23 240.76,54.23 241.11,54.23 241.45,54.23 241.80,54.23 242.14,54.23 242.49,54.23 242.84,54.23 243.18,54.23 243.53,54.23 243.87,54.23 244.22,54.23 244.57,54.23 244.91,54.23 245.26,54.23 245.60,54.23 245.95,54.23 246.30,54.23 246.64,55.63 246.99,67.61 247.33,78.80 247.68,89.19 248.02,98.79 248.37,107.61 248.72,115.69 249.06,123.05 249.41,129.73 249.75,135.77 250.10,141.20 250.45,146.09 250.79,150.46 251.14,154.36 251.48,157.83 251.83,160.92 252.18,163.66 252.52,166.10 252.87,168.26 253.21,170.18 253.56,171.89 253.90,173.42 254.25,174.79 254.60,176.02 254.94,177.14 255.29,178.16 255.63,179.10 255.98,179.98 256.33,180.80 256.67,181.57"/><polyline fill="none" stroke="#3b979a" stroke-width="1.00" stroke-linejoin="round" points="49.48,205.24 49.83,205.16 50.17,205.09 50.52,205.02 50.86,204.96 51.21,204.90 51.56,204.85 51.90,204.80 52.25,204.75 52.59,204.70 52.94,204.65 53.28,204.61 53.63,204.56 53.98,204.52 54.32,204.47 54.67,204.42 55.01,204.38 55.36,204.33 55.71,204.29 56.05,204.24 56.40,204.19 56.74,204.15 57.09,204.10 57.44,204.05 57.78,204.00 58.13,203.95 58.47,203.89 58.82,203.84 59.17,203.79 59.51,203.73 59.86,203.68 60.20,203.62 60.55,203.56 60.89,203.50 61.24,203.44 61.59,203.38 61.93,203.32 62.28,203.25 62.62,203.19 62.97,203.12 63.32,203.06 63.66,202.99 64.01,202.92 64.35,202.85 64.70,202.77 65.05,202.70 65.39,202.62 65.74,202.55 66.08,202.47 66.43,202.39 66.77,202.31 67.12,202.23 67.47,202.14 67.81,202.06 68.16,201.97 68.50,201.88 68.85,201.79 69.20,201.70 69.54,201.61 69.89,201.52 70.23,201.42 70.58,201.32 70.93,201.22 71.27,201.12 71.62,201.02 71.96,200.92 72.31,200.81 72.66,200.70 73.00,200.59 73.35,200.48 73.69,200.37 74.04,200.25 74.38,200.13 74.73,200.02 75.08,199.89 75.42,199.77 75.77,199.65 76.11,199.52 76.46,199.39 76.81,199.26 77.15,199.13 77.50,198.99 77.84,198.86 78.19,198.72 78.54,198.57 78.88,198.43 79.23,198.29 79.57,198.14 79.92,197.99 80.26,197.84 80.61,197.68 80.96,197.52 81.30,197.36 81.65,197.20 81.99,197.04 82.34,196.87 82.69,196.70 83.03,196.53 83.38,196.36 83.72,196.18 84.07,196.01 84.42,195.83 84.76,195.64 85.11,195.46 85.45,195.27 85.80,195.08 86.15,194.88 86.49,194.69 86.84,194.49 87.18,194.29 87.53,194.08 87.87,193.88 88.22,193.67 88.57,193.45 88.91,193.24 89.26,193.02 89.60,192.80 89.95,192.58 90.30,192.35 90.64,192.12 90.99,191.89 91.33,191.66 91.68,191.42 92.03,191.18 92.37,190.93 92.72,190.69 93.06,190.44 93.41,190.19 93.75,189.93 94.10,189.67 94.45,189.41 94.79,189.15 95.14,188.88 95.48,188.61 95.83,188.34 96.18,188.06 96.52,187.78 96.87,187.50 97.21,187.21 97.56,186.92 97.91,186.63 98.25,186.34 98.60,186.04 98.94,185.74 99.29,185.43 99.63,185.13 99.98,184.82 100.33,184.50 100.67,184.18 101.02,183.86 101.36,183.54 101.71,183.21 102.06,182.88 102.40,182.55 102.75,182.21 103.09,181.88 103.44,181.53 103.79,181.19 104.13,180.84 104.48,180.49 104.82,180.13 105.17,179.77 105.52,179.41 105.86,179.04 106.21,178.68 106.55,178.30 106.90,177.93 107.24,177.55 107.59,177.17 107.94,176.79 108.28,176.40 108.63,176.01 108.97,175.61 109.32,175.22 109.67,174.82 110.01,174.41 110.36,174.01 110.70,173.60 111.05,173.19 111.40,172.77 111.74,172.35 112.09,171.93 112.43,171.51 112.78,171.08 113.12,170.65 113.47,170.21 113.82,169.78 114.16,169.34 114.51,168.90 114.85,168.45 115.20,168.00 115.55,167.55 115.89,167.10 116.24,166.64 116.58,166.18 116.93,165.72 117.28,165.26 117.62,164.79 117.97,164.32 118.31,163.85 118.66,163.37 119.01,162.89 119.35,162.41 119.70,161.93 120.04,161.44 120.39,160.96 120.73,160.47 121.08,159.97 121.43,159.48 121.77,158.98 122.12,158.48 122.46,157.98 122.81,157.47 123.16,156.97 123.50,156.46 123.85,155.95 124.19,155.44 124.54,154.92 124.89,154.41 125.23,153.89 125.58,153.37 125.92,152.85 126.27,152.32 126.61,151.80 126.96,151.27 127.31,150.74 127.65,150.21 128.00,149.68 128.34,149.15 128.69,148.61 129.04,148.08 129.38,147.54 129.73,147.00 130.07,146.46 130.42,145.92 130.77,145.38 131.11,144.84 131.46,144.29 131.80,143.75 132.15,143.21 132.50,142.66 132.84,142.11 133.19,141.56 133.53,141.02 133.88,140.47 134.22,139.92 134.57,139.37 134.92,138.82 135.26,138.27 135.61,137.72 135.95,137.17 136.30,136.62 136.65,136.07 136.99,135.52 137.34,134.97 137.68,134.42 138.03,133.87 138.38,133.32 138.72,132.77 139.07,132.22 139.41,131.67 139.76,131.12 140.10,130.57 140.45,130.03 140.80,129.48 141.14,128.94 141.49,128.39 141.83,127.85 142.18,127.31 142.53,126.77 142.87,126.23 143.22,125.69 143.56,125.15 143.91,124.62 144.26,124.08 144.60,123.55 144.95,123.02 145.29,122.49 145.64,121.96 145.99,121.44 146.33,120.92 146.68,120.40 147.02,119.88 147.37,119.36 147.71,118.84 148.06,118.33 148.41,117.82 148.75,117.31 149.10,116.81 149.44,116.31 149.79,115.81 150.14,115.31 150.48,114.82 150.83,114.32 151.17,113.84 151.52,113.35 151.87,112.87 152.21,112.39 152.56,111.91 152.90,111.44 153.25,110.97 153.59,110.51 153.94,110.04 154.29,109.59 154.63,109.13 154.98,108.68 155.32,108.23 155.67,107.79 156.02,107.35 156.36,106.91 156.71,106.48 157.05,106.05 157.40,105.63 157.75,105.21 158.09,104.80 158.44,104.38 158.78,103.98 159.13,103.58 159.48,103.18 159.82,102.79 160.17,102.40 160.51,102.02 160.86,101.64 161.20,101.26 161.55,100.89 161.90,100.53 162.24,100.17 162.59,99.82 162.93,99.47 163.28,99.13 163.63,98.79 163.97,98.45 164.32,98.13 164.66,97.80 165.01,97.49 165.36,97.17 165.70,96.87 166.05,96.57 166.39,96.27 166.74,95.98 167.08,95.70 167.43,95.42 167.78,95.14 168.12,94.88 168.47,94.62 168.81,94.36 169.16,94.11 169.51,93.87 169.85,93.63 170.20,93.40 170.54,93.17 170.89,92.95 171.24,92.73 171.58,92.53 171.93,92.32 172.27,92.13 172.62,91.94 172.97,91.75 173.31,91.57 173.66,91.40 174.00,91.24 174.35,91.08 174.69,90.92 175.04,90.78 175.39,90.63 175.73,90.50 176.08,90.37 176.42,90.25 176.77,90.13 177.12,90.02 177.46,89.92 177.81,89.82 178.15,89.72 178.50,89.64 178.85,89.56 179.19,89.48 179.54,89.42 179.88,89.35 180.23,89.30 180.57,89.25 180.92,89.20 181.27,89.17 181.61,89.13 181.96,89.11 182.30,89.09 182.65,89.07 183.00,89.06 183.34,89.06 183.69,89.06 184.03,89.06 184.38,89.07 184.73,89.09 185.07,89.11 185.42,89.14 185.76,89.18 186.11,89.23 186.46,89.28 186.80,89.34 187.15,89.40 187.49,89.47 187.84,89.55 188.18,89.64 188.53,89.73 188.88,89.83 189.22,89.94 189.57,90.05 189.91,90.17 190.26,90.30 190.61,90.44 190.95,90.58 191.30,90.73 191.64,90.88 191.99,91.05 192.34,91.22 192.68,91.40 193.03,91.58 193.37,91.78 193.72,91.97 194.06,92.18 194.41,92.39 194.76,92.62 195.10,92.84 195.45,93.08 195.79,93.32 196.14,93.57 196.49,93.82 196.83,94.08 197.18,94.35 197.52,94.63 197.87,94.91 198.22,95.20 198.56,95.49 198.91,95.79 199.25,96.10 199.60,96.42 199.94,96.74 200.29,97.07 200.64,97.40 200.98,97.74 201.33,98.09 201.67,98.44 202.02,98.80 202.37,99.16 202.71,99.53 203.06,99.91 203.40,100.29 203.75,100.68 204.10,101.08 204.44,101.48 204.79,101.88 205.13,102.29 205.48,102.71 205.83,103.13 206.17,103.56 206.52,103.99 206.86,104.43 207.21,104.87 207.55,105.32 207.90,105.77 208.25,106.23 208.59,106.69 208.94,107.16 209.28,107.63 209.63,108.10 209.98,108.59 210.32,109.07 210.67,109.56 211.01,110.05 211.36,110.55 211.71,111.05 212.05,111.56 212.40,112.07 212.74,112.59 213.09,113.11 213.43,113.63 213.78,114.16 214.13,114.70 214.47,115.24 214.82,115.79 215.16,116.35 215.51,116.92 215.86,117.50 216.20,118.09 216.55,118.70 216.89,119.32 217.24,119.97 217.59,120.63"/><polyline fill="none" stroke="#3b979a" stroke-width="0.75" stroke-linejoin="round" points="217.59,120.63 217.93,121.32 218.28,122.04 218.62,122.78 218.97,123.55 219.32,124.34 219.66,125.17 220.01,126.01 220.35,126.87 220.70,127.75 221.04,128.62 221.39,129.49 221.74,130.32 222.08,131.12 222.43,131.85 222.77,132.49 223.12,133.02 223.47,133.41 223.81,133.63 224.16,133.65 224.50,133.43 224.85,132.95 225.20,132.17 225.54,131.06 225.89,129.59 226.23,127.73 226.58,125.44 226.92,122.70 227.27,119.47 227.62,115.74 227.96,111.47 228.31,106.64 228.65,101.22 229.00,95.19 229.35,88.53 229.69,81.21 230.04,73.21 230.38,64.53 230.73,55.14 231.08,54.23 231.42,54.23 231.77,54.23 232.11,54.23 232.46,54.23 232.81,54.23 233.15,54.23 233.50,54.23 233.84,54.23 234.19,54.23 234.53,54.23 234.88,54.23 235.23,54.23 235.57,54.23 235.92,54.23 236.26,54.23 236.61,54.23 236.96,54.23 237.30,54.23 237.65,54.23 237.99,54.23 238.34,54.23 238.69,54.23 239.03,54.23 239.38,54.23 239.72,54.23 240.07,54.23 240.41,54.23 240.76,54.23 241.11,54.23 241.45,54.23 241.80,54.23 242.14,54.23 242.49,54.23 242.84,54.23 243.18,54.23 243.53,54.23 243.87,54.23 244.22,54.23 244.57,54.23 244.91,54.23 245.26,54.23 245.60,54.23 245.95,54.23 246.30,58.92 246.64,70.34 246.99,80.99 247.33,90.87 247.68,100.00 248.02,108.39 248.37,116.09 248.72,123.12 249.06,129.51 249.41,135.31 249.75,140.56 250.10,145.29 250.45,149.55 250.79,153.37 251.14,156.80 251.48,159.88 251.83,162.63 252.18,165.10 252.52,167.32 252.87,169.30 253.21,171.09 253.56,172.71 253.90,174.18 254.25,175.52 254.60,176.75 254.94,177.89 255.29,178.95 255.63,179.95 255.98,180.90 256.33,181.81 256.67,182.70"/><polyline fill="none" stroke="#3495a0" stroke-width="1.00" stroke-linejoin="round" points="49.48,205.58 49.83,205.53 50.17,205.48 50.52,205.44 50.86,205.40 51.21,205.36 51.56,205.33 51.90,205.29 52.25,205.26 52.59,205.23 52.94,205.20 53.28,205.17 53.63,205.14 53.98,205.10 54.32,205.07 54.67,205.04 55.01,205.01 55.36,204.98 55.71,204.95 56.05,204.91 56.40,204.88 56.74,204.85 57.09,204.81 57.44,204.78 57.78,204.74 58.13,204.70 58.47,204.67 58.82,204.63 59.17,204.59 59.51,204.55 59.86,204.51 60.20,204.47 60.55,204.43 60.89,204.39 61.24,204.34 61.59,204.30 61.93,204.25 62.28,204.21 62.62,204.16 62.97,204.11 63.32,204.06 63.66,204.01 64.01,203.96 64.35,203.91 64.70,203.85 65.05,203.80 65.39,203.74 65.74,203.69 66.08,203.63 66.43,203.57 66.77,203.51 67.12,203.45 67.47,203.39 67.81,203.32 68.16,203.26 68.50,203.19 68.85,203.12 69.20,203.05 69.54,202.98 69.89,202.91 70.23,202.84 70.58,202.77 70.93,202.69 71.27,202.61 71.62,202.54 71.96,202.46 72.31,202.37 72.66,202.29 73.00,202.21 73.35,202.12 73.69,202.03 74.04,201.94 74.38,201.85 74.73,201.76 75.08,201.67 75.42,201.57 75.77,201.48 76.11,201.38 76.46,201.28 76.81,201.17 77.15,201.07 77.50,200.96 77.84,200.86 78.19,200.75 78.54,200.63 78.88,200.52 79.23,200.41 79.57,200.29 79.92,200.17 80.26,200.05 80.61,199.93 80.96,199.80 81.30,199.67 81.65,199.54 81.99,199.41 82.34,199.28 82.69,199.14 83.03,199.01 83.38,198.87 83.72,198.72 84.07,198.58 84.42,198.43 84.76,198.28 85.11,198.13 85.45,197.98 85.80,197.82 86.15,197.66 86.49,197.50 86.84,197.34 87.18,197.17 87.53,197.01 87.87,196.84 88.22,196.66 88.57,196.49 88.91,196.31 89.26,196.13 89.60,195.95 89.95,195.76 90.30,195.57 90.64,195.38 90.99,195.19 91.33,194.99 91.68,194.79 92.03,194.59 92.37,194.38 92.72,194.18 93.06,193.97 93.41,193.75 93.75,193.54 94.10,193.32 94.45,193.10 94.79,192.87 95.14,192.64 95.48,192.41 95.83,192.18 96.18,191.94 96.52,191.70 96.87,191.46 97.21,191.21 97.56,190.97 97.91,190.71 98.25,190.46 98.60,190.20 98.94,189.94 99.29,189.68 99.63,189.41 99.98,189.14 100.33,188.86 100.67,188.59 101.02,188.31 101.36,188.02 101.71,187.74 102.06,187.45 102.40,187.16 102.75,186.86 103.09,186.56 103.44,186.26 103.79,185.95 104.13,185.64 104.48,185.33 104.82,185.01 105.17,184.69 105.52,184.37 105.86,184.04 106.21,183.71 106.55,183.38 106.90,183.05 107.24,182.71 107.59,182.36 107.94,182.02 108.28,181.67 108.63,181.31 108.97,180.96 109.32,180.60 109.67,180.23 110.01,179.87 110.36,179.50 110.70,179.13 111.05,178.75 111.40,178.37 111.74,177.99 112.09,177.60 112.43,177.21 112.78,176.82 113.12,176.42 113.47,176.02 113.82,175.62 114.16,175.21 114.51,174.80 114.85,174.39 115.20,173.97 115.55,173.55 115.89,173.13 116.24,172.70 116.58,172.27 116.93,171.84 117.28,171.40 117.62,170.96 117.97,170.52 118.31,170.08 118.66,169.63 119.01,169.18 119.35,168.72 119.70,168.27 120.04,167.81 120.39,167.34 120.73,166.88 121.08,166.41 121.43,165.93 121.77,165.46 122.12,164.98 122.46,164.50 122.81,164.02 123.16,163.53 123.50,163.04 123.85,162.55 124.19,162.05 124.54,161.56 124.89,161.06 125.23,160.56 125.58,160.05 125.92,159.54 126.27,159.03 126.61,158.52 126.96,158.01 127.31,157.49 127.65,156.97 128.00,156.45 128.34,155.93 128.69,155.40 129.04,154.87 129.38,154.34 129.73,153.81 130.07,153.28 130.42,152.74 130.77,152.21 131.11,151.67 131.46,151.13 131.80,150.58 132.15,150.04 132.50,149.49 132.84,148.95 133.19,148.40 133.53,147.85 133.88,147.30 134.22,146.74 134.57,146.19 134.92,145.63 135.26,145.08 135.61,144.52 135.95,143.96 136.30,143.40 136.65,142.84 136.99,142.28 137.34,141.72 137.68,141.16 138.03,140.60 138.38,140.03 138.72,139.47 139.07,138.90 139.41,138.34 139.76,137.77 140.10,137.21 140.45,136.64 140.80,136.08 141.14,135.51 141.49,134.95 141.83,134.38 142.18,133.82 142.53,133.26 142.87,132.69 143.22,132.13 143.56,131.57 143.91,131.00 144.26,130.44 144.60,129.88 144.95,129.32 145.29,128.76 145.64,128.20 145.99,127.65 146.33,127.09 146.68,126.54 147.02,125.98 147.37,125.43 147.71,124.88 148.06,124.33 148.41,123.78 148.75,123.24 149.10,122.69 149.44,122.15 149.79,121.61 150.14,121.07 150.48,120.54 150.83,120.01 151.17,119.47 151.52,118.94 151.87,118.42 152.21,117.89 152.56,117.37 152.90,116.85 153.25,116.34 153.59,115.82 153.94,115.31 154.29,114.80 154.63,114.30 154.98,113.80 155.32,113.30 155.67,112.81 156.02,112.31 156.36,111.83 156.71,111.34 157.05,110.86 157.40,110.38 157.75,109.91 158.09,109.44 158.44,108.97 158.78,108.51 159.13,108.05 159.48,107.60 159.82,107.15 160.17,106.70 160.51,106.26 160.86,105.82 161.20,105.39 161.55,104.96 161.90,104.54 162.24,104.12 162.59,103.71 162.93,103.30 163.28,102.89 163.63,102.49 163.97,102.10 164.32,101.71 164.66,101.32 165.01,100.95 165.36,100.57 165.70,100.20 166.05,99.84 166.39,99.48 166.74,99.13 167.08,98.78 167.43,98.44 167.78,98.10 168.12,97.77 168.47,97.45 168.81,97.13 169.16,96.81 169.51,96.51 169.85,96.21 170.20,95.91 170.54,95.62 170.89,95.34 171.24,95.06 171.58,94.79 171.93,94.52 172.27,94.26 172.62,94.01 172.97,93.76 173.31,93.52 173.66,93.29 174.00,93.06 174.35,92.84 174.69,92.62 175.04,92.41 175.39,92.21 175.73,92.02 176.08,91.83 176.42,91.64 176.77,91.47 177.12,91.30 177.46,91.14 177.81,90.98 178.15,90.83 178.50,90.68 178.85,90.55 179.19,90.42 179.54,90.29 179.88,90.18 180.23,90.07 180.57,89.96 180.92,89.86 181.27,89.77 181.61,89.69 181.96,89.61 182.30,89.54 182.65,89.47 183.00,89.42 183.34,89.36 183.69,89.32 184.03,89.28 184.38,89.25 184.73,89.22 185.07,89.20 185.42,89.18 185.76,89.17 186.11,89.17 186.46,89.17 186.80,89.18 187.15,89.20 187.49,89.22 187.84,89.25 188.18,89.29 188.53,89.33 188.88,89.38 189.22,89.44 189.57,89.51 189.91,89.58 190.26,89.66 190.61,89.75 190.95,89.85 191.30,89.95 191.64,90.07 191.99,90.19 192.34,90.31 192.68,90.45 193.03,90.59 193.37,90.74 193.72,90.90 194.06,91.06 194.41,91.24 194.76,91.42 195.10,91.61 195.45,91.80 195.79,92.00 196.14,92.22 196.49,92.43 196.83,92.66 197.18,92.89 197.52,93.13 197.87,93.38 198.22,93.64 198.56,93.90 198.91,94.17 199.25,94.45 199.60,94.73 199.94,95.02 200.29,95.32 200.64,95.62 200.98,95.94 201.33,96.26 201.67,96.58 202.02,96.92 202.37,97.25 202.71,97.60 203.06,97.95 203.40,98.31 203.75,98.68 204.10,99.05 204.44,99.43 204.79,99.82 205.13,100.21 205.48,100.61 205.83,101.01 206.17,101.42 206.52,101.84 206.86,102.26 207.21,102.68 207.55,103.12 207.90,103.56 208.25,104.00 208.59,104.45 208.94,104.91 209.28,105.37 209.63,105.83 209.98,106.30 210.32,106.78 210.67,107.26 211.01,107.75 211.36,108.24 211.71,108.73 212.05,109.23 212.40,109.74 212.74,110.25 213.09,110.77 213.43,111.29 213.78,111.82 214.13,112.35 214.47,112.90 214.82,113.45 215.16,114.00 215.51,114.57 215.86,115.16 216.20,115.75 216.55,116.37 216.89,117.00 217.24,117.65 217.59,118.33"/><polyline fill="none" stroke="#3495a0" stroke-width="0.75" stroke-linejoin="round" points="217.59,118.33 217.93,119.03 218.28,119.76 218.62,120.53 218.97,121.32 219.32,122.15 219.66,123.01 220.01,123.90 220.35,124.81 220.70,125.75 221.04,126.69 221.39,127.64 221.74,128.57 222.08,129.48 222.43,130.34 222.77,131.14 223.12,131.85 223.47,132.44 223.81,132.90 224.16,133.19 224.50,133.28 224.85,133.16 225.20,132.78 225.54,132.13 225.89,131.17 226.23,129.89 226.58,128.25 226.92,126.22 227.27,123.80 227.62,120.95 227.96,117.64 228.31,113.86 228.65,109.58 229.00,104.76 229.35,99.40 229.69,93.45 230.04,86.89 230.38,79.70 230.73,71.85 231.08,63.30 231.42,54.23 231.77,54.23 232.11,54.23 232.46,54.23 232.81,54.23 233.15,54.23 233.50,54.23 233.84,54.23 234.19,54.23 234.53,54.23 234.88,54.23 235.23,54.23 235.57,54.23 235.92,54.23 236.26,54.23 236.61,54.23 236.96,54.23 237.30,54.23 237.65,54.23 237.99,54.23 238.34,54.23 238.69,54.23 239.03,54.23 239.38,54.23 239.72,54.23 240.07,54.23 240.41,54.23 240.76,54.23 241.11,54.23 241.45,54.23 241.80,54.23 242.14,54.23 242.49,54.23 242.84,54.23 243.18,54.23 243.53,54.23 243.87,54.23 244.22,54.23 244.57,54.23 244.91,54.23 245.26,54.23 245.60,54.23 245.95,61.74 246.30,72.60 246.64,82.72 246.99,92.10 247.33,100.77 247.68,108.75 248.02,116.08 248.37,122.78 248.72,128.91 249.06,134.48 249.41,139.54 249.75,144.14 250.10,148.30 250.45,152.06 250.79,155.46 251.14,158.54 251.48,161.32 251.83,163.83 252.18,166.11 252.52,168.18 252.87,170.07 253.21,171.80 253.56,173.39 253.90,174.86 254.25,176.23 254.60,177.51 254.94,178.72 255.29,179.88 255.63,180.99 255.98,182.07 256.33,183.12 256.67,184.16"/><polyline fill="none" stroke="#2c92a5" stroke-width="1.00" stroke-linejoin="round" points="49.48,205.81 49.83,205.78 50.17,205.75 50.52,205.73 50.86,205.70 51.21,205.68 51.56,205.66 51.90,205.64 52.25,205.61 52.59,205.59 52.94,205.57 53.28,205.55 53.63,205.53 53.98,205.51 54.32,205.49 54.67,205.47 55.01,205.45 55.36,205.43 55.71,205.40 56.05,205.38 56.40,205.36 56.74,205.34 57.09,205.31 57.44,205.29 57.78,205.26 58.13,205.24 58.47,205.21 58.82,205.19 59.17,205.16 59.51,205.13 59.86,205.11 60.20,205.08 60.55,205.05 60.89,205.02 61.24,204.99 61.59,204.96 61.93,204.92 62.28,204.89 62.62,204.86 62.97,204.82 63.32,204.79 63.66,204.75 64.01,204.72 64.35,204.68 64.70,204.64 65.05,204.60 65.39,204.56 65.74,204.52 66.08,204.48 66.43,204.44 66.77,204.39 67.12,204.35 67.47,204.30 67.81,204.26 68.16,204.21 68.50,204.16 68.85,204.11 69.20,204.06 69.54,204.01 69.89,203.96 70.23,203.91 70.58,203.85 70.93,203.80 71.27,203.74 71.62,203.68 71.96,203.62 72.31,203.56 72.66,203.50 73.00,203.44 73.35,203.37 73.69,203.31 74.04,203.24 74.38,203.17 74.73,203.10 75.08,203.03 75.42,202.96 75.77,202.89 76.11,202.81 76.46,202.74 76.81,202.66 77.15,202.58 77.50,202.50 77.84,202.42 78.19,202.33 78.54,202.25 78.88,202.16 79.23,202.07 79.57,201.98 79.92,201.89 80.26,201.79 80.61,201.70 80.96,201.60 81.30,201.50 81.65,201.40 81.99,201.30 82.34,201.20 82.69,201.09 83.03,200.98 83.38,200.87 83.72,200.76 84.07,200.65 84.42,200.53 84.76,200.41 85.11,200.29 85.45,200.17 85.80,200.05 86.15,199.92 86.49,199.79 86.84,199.66 87.18,199.53 87.53,199.39 87.87,199.26 88.22,199.12 88.57,198.98 88.91,198.83 89.26,198.69 89.60,198.54 89.95,198.39 90.30,198.23 90.64,198.08 90.99,197.92 91.33,197.76 91.68,197.60 92.03,197.43 92.37,197.26 92.72,197.09 93.06,196.92 93.41,196.74 93.75,196.57 94.10,196.38 94.45,196.20 94.79,196.01 95.14,195.82 95.48,195.63 95.83,195.44 96.18,195.24 96.52,195.04 96.87,194.84 97.21,194.63 97.56,194.42 97.91,194.21 98.25,193.99 98.60,193.78 98.94,193.56 99.29,193.33 99.63,193.10 99.98,192.87 100.33,192.64 100.67,192.40 101.02,192.17 101.36,191.92 101.71,191.68 102.06,191.43 102.40,191.18 102.75,190.92 103.09,190.66 103.44,190.40 103.79,190.14 104.13,189.87 104.48,189.60 104.82,189.32 105.17,189.04 105.52,188.76 105.86,188.48 106.21,188.19 106.55,187.90 106.90,187.60 107.24,187.30 107.59,187.00 107.94,186.70 108.28,186.39 108.63,186.08 108.97,185.76 109.32,185.44 109.67,185.12 110.01,184.79 110.36,184.46 110.70,184.13 111.05,183.79 111.40,183.45 111.74,183.11 112.09,182.76 112.43,182.41 112.78,182.06 113.12,181.70 113.47,181.34 113.82,180.97 114.16,180.60 114.51,180.23 114.85,179.86 115.20,179.48 115.55,179.09 115.89,178.71 116.24,178.32 116.58,177.93 116.93,177.53 117.28,177.13 117.62,176.72 117.97,176.32 118.31,175.91 118.66,175.49 119.01,175.07 119.35,174.65 119.70,174.23 120.04,173.80 120.39,173.37 120.73,172.93 121.08,172.49 121.43,172.05 121.77,171.61 122.12,171.16 122.46,170.71 122.81,170.25 123.16,169.79 123.50,169.33 123.85,168.87 124.19,168.40 124.54,167.93 124.89,167.45 125.23,166.97 125.58,166.49 125.92,166.01 126.27,165.52 126.61,165.03 126.96,164.54 127.31,164.04 127.65,163.55 128.00,163.04 128.34,162.54 128.69,162.03 129.04,161.52 129.38,161.01 129.73,160.49 130.07,159.98 130.42,159.46 130.77,158.93 131.11,158.41 131.46,157.88 131.80,157.35 132.15,156.81 132.50,156.28 132.84,155.74 133.19,155.20 133.53,154.66 133.88,154.11 134.22,153.57 134.57,153.02 134.92,152.47 135.26,151.92 135.61,151.36 135.95,150.81 136.30,150.25 136.65,149.69 136.99,149.13 137.34,148.56 137.68,148.00 138.03,147.43 138.38,146.87 138.72,146.30 139.07,145.73 139.41,145.16 139.76,144.59 140.10,144.01 140.45,143.44 140.80,142.86 141.14,142.29 141.49,141.71 141.83,141.13 142.18,140.55 142.53,139.98 142.87,139.40 143.22,138.82 143.56,138.24 143.91,137.66 144.26,137.08 144.60,136.50 144.95,135.92 145.29,135.33 145.64,134.75 145.99,134.17 146.33,133.59 146.68,133.01 147.02,132.44 147.37,131.86 147.71,131.28 148.06,130.70 148.41,130.12 148.75,129.55 149.10,128.97 149.44,128.40 149.79,127.83 150.14,127.26 150.48,126.69 150.83,126.12 151.17,125.55 151.52,124.98 151.87,124.42 152.21,123.86 152.56,123.29 152.90,122.74 153.25,122.18 153.59,121.62 153.94,121.07 154.29,120.52 154.63,119.97 154.98,119.42 155.32,118.88 155.67,118.34 156.02,117.80 156.36,117.26 156.71,116.73 157.05,116.20 157.40,115.67 157.75,115.15 158.09,114.63 158.44,114.11 158.78,113.60 159.13,113.08 159.48,112.58 159.82,112.07 160.17,111.57 160.51,111.08 160.86,110.58 161.20,110.09 161.55,109.61 161.90,109.13 162.24,108.65 162.59,108.18 162.93,107.71 163.28,107.25 163.63,106.79 163.97,106.33 164.32,105.88 164.66,105.44 165.01,105.00 165.36,104.56 165.70,104.13 166.05,103.70 166.39,103.28 166.74,102.86 167.08,102.45 167.43,102.05 167.78,101.65 168.12,101.25 168.47,100.86 168.81,100.48 169.16,100.10 169.51,99.73 169.85,99.36 170.20,99.00 170.54,98.65 170.89,98.30 171.24,97.95 171.58,97.62 171.93,97.28 172.27,96.96 172.62,96.64 172.97,96.33 173.31,96.02 173.66,95.72 174.00,95.43 174.35,95.14 174.69,94.86 175.04,94.59 175.39,94.32 175.73,94.06 176.08,93.80 176.42,93.55 176.77,93.31 177.12,93.08 177.46,92.85 177.81,92.63 178.15,92.42 178.50,92.21 178.85,92.01 179.19,91.82 179.54,91.63 179.88,91.45 180.23,91.28 180.57,91.11 180.92,90.95 181.27,90.80 181.61,90.66 181.96,90.52 182.30,90.39 182.65,90.27 183.00,90.15 183.34,90.04 183.69,89.94 184.03,89.84 184.38,89.76 184.73,89.68 185.07,89.60 185.42,89.53 185.76,89.47 186.11,89.42 186.46,89.38 186.80,89.34 187.15,89.30 187.49,89.28 187.84,89.26 188.18,89.25 188.53,89.24 188.88,89.24 189.22,89.25 189.57,89.26 189.91,89.28 190.26,89.31 190.61,89.35 190.95,89.39 191.30,89.45 191.64,89.51 191.99,89.58 192.34,89.65 192.68,89.74 193.03,89.83 193.37,89.93 193.72,90.04 194.06,90.16 194.41,90.29 194.76,90.42 195.10,90.56 195.45,90.72 195.79,90.87 196.14,91.04 196.49,91.22 196.83,91.40 197.18,91.59 197.52,91.79 197.87,92.00 198.22,92.21 198.56,92.44 198.91,92.67 199.25,92.91 199.60,93.15 199.94,93.41 200.29,93.67 200.64,93.94 200.98,94.22 201.33,94.50 201.67,94.80 202.02,95.10 202.37,95.41 202.71,95.72 203.06,96.05 203.40,96.38 203.75,96.72 204.10,97.06 204.44,97.41 204.79,97.77 205.13,98.14 205.48,98.51 205.83,98.89 206.17,99.28 206.52,99.67 206.86,100.07 207.21,100.48 207.55,100.89 207.90,101.31 208.25,101.74 208.59,102.17 208.94,102.61 209.28,103.05 209.63,103.50 209.98,103.96 210.32,104.42 210.67,104.89 211.01,105.36 211.36,105.84 211.71,106.33 212.05,106.82 212.40,107.31 212.74,107.81 213.09,108.32 213.43,108.84 213.78,109.36 214.13,109.89 214.47,110.42 214.82,110.97 215.16,111.53 215.51,112.09 215.86,112.67 216.20,113.27 216.55,113.89 216.89,114.52 217.24,115.18 217.59,115.86"/><polyline fill="none" stroke="#2c92a5" stroke-width="0.75" stroke-linejoin="round" points="217.59,115.86 217.93,116.57 218.28,117.32 218.62,118.09 218.97,118.91 219.32,119.75 219.66,120.64 220.01,121.56 220.35,122.51 220.70,123.49 221.04,124.49 221.39,125.50 221.74,126.51 222.08,127.50 222.43,128.46 222.77,129.37 223.12,130.21 223.47,130.96 223.81,131.59 224.16,132.08 224.50,132.41 224.85,132.54 225.20,132.47 225.54,132.16 225.89,131.59 226.23,130.75 226.58,129.61 226.92,128.15 227.27,126.35 227.62,124.20 227.96,121.67 228.31,118.75 228.65,115.41 229.00,111.63 229.35,107.39 229.69,102.65 230.04,97.38 230.38,91.56 230.73,85.15 231.08,78.11 231.42,70.42 231.77,62.03 232.11,54.23 232.46,54.23 232.81,54.23 233.15,54.23 233.50,54.23 233.84,54.23 234.19,54.23 234.53,54.23 234.88,54.23 235.23,54.23 235.57,54.23 235.92,54.23 236.26,54.23 236.61,54.23 236.96,54.23 237.30,54.23 237.65,54.23 237.99,54.23 238.34,54.23 238.69,54.23 239.03,54.23 239.38,54.23 239.72,54.23 240.07,54.23 240.41,54.23 240.76,54.23 241.11,54.23 241.45,54.23 241.80,54.23 242.14,54.23 242.49,54.23 242.84,54.23 243.18,54.23 243.53,54.23 243.87,54.23 244.22,54.23 244.57,54.23 244.91,54.23 245.26,54.23 245.60,64.24 245.95,74.54 246.30,84.12 246.64,93.01 246.99,101.22 247.33,108.80 247.68,115.76 248.02,122.15 248.37,128.01 248.72,133.37 249.06,138.26 249.41,142.72 249.75,146.78 250.10,150.49 250.45,153.87 250.79,156.95 251.14,159.76 251.48,162.33 251.83,164.69 252.18,166.85 252.52,168.85 252.87,170.70 253.21,172.43 253.56,174.04 253.90,175.57 254.25,177.01 254.60,178.40 254.94,179.73 255.29,181.03 255.63,182.30 255.98,183.56 256.33,184.81 256.67,186.07"/><polyline fill="none" stroke="#288fac" stroke-width="1.00" stroke-linejoin="round" points="49.48,205.96 49.83,205.95 50.17,205.93 50.52,205.91 50.86,205.90 51.21,205.88 51.56,205.87 51.90,205.86 52.25,205.84 52.59,205.83 52.94,205.82 53.28,205.80 53.63,205.79 53.98,205.78 54.32,205.76 54.67,205.75 55.01,205.74 55.36,205.72 55.71,205.71 56.05,205.69 56.40,205.68 56.74,205.66 57.09,205.65 57.44,205.63 57.78,205.61 58.13,205.60 58.47,205.58 58.82,205.56 59.17,205.55 59.51,205.53 59.86,205.51 60.20,205.49 60.55,205.47 60.89,205.45 61.24,205.43 61.59,205.41 61.93,205.38 62.28,205.36 62.62,205.34 62.97,205.31 63.32,205.29 63.66,205.27 64.01,205.24 64.35,205.21 64.70,205.19 65.05,205.16 65.39,205.13 65.74,205.10 66.08,205.08 66.43,205.05 66.77,205.02 67.12,204.98 67.47,204.95 67.81,204.92 68.16,204.89 68.50,204.85 68.85,204.82 69.20,204.78 69.54,204.74 69.89,204.71 70.23,204.67 70.58,204.63 70.93,204.59 71.27,204.55 71.62,204.51 71.96,204.46 72.31,204.42 72.66,204.37 73.00,204.33 73.35,204.28 73.69,204.23 74.04,204.19 74.38,204.14 74.73,204.08 75.08,204.03 75.42,203.98 75.77,203.93 76.11,203.87 76.46,203.81 76.81,203.76 77.15,203.70 77.50,203.64 77.84,203.58 78.19,203.51 78.54,203.45 78.88,203.38 79.23,203.32 79.57,203.25 79.92,203.18 80.26,203.11 80.61,203.04 80.96,202.96 81.30,202.89 81.65,202.81 81.99,202.73 82.34,202.65 82.69,202.57 83.03,202.49 83.38,202.40 83.72,202.32 84.07,202.23 84.42,202.14 84.76,202.05 85.11,201.96 85.45,201.86 85.80,201.77 86.15,201.67 86.49,201.57 86.84,201.47 87.18,201.36 87.53,201.26 87.87,201.15 88.22,201.04 88.57,200.93 88.91,200.81 89.26,200.70 89.60,200.58 89.95,200.46 90.30,200.34 90.64,200.22 90.99,200.09 91.33,199.96 91.68,199.83 92.03,199.70 92.37,199.56 92.72,199.43 93.06,199.29 93.41,199.15 93.75,199.00 94.10,198.85 94.45,198.71 94.79,198.55 95.14,198.40 95.48,198.24 95.83,198.08 96.18,197.92 96.52,197.76 96.87,197.59 97.21,197.42 97.56,197.25 97.91,197.07 98.25,196.90 98.60,196.72 98.94,196.53 99.29,196.35 99.63,196.16 99.98,195.97 100.33,195.77 100.67,195.58 101.02,195.37 101.36,195.17 101.71,194.97 102.06,194.76 102.40,194.54 102.75,194.33 103.09,194.11 103.44,193.89 103.79,193.66 104.13,193.44 104.48,193.20 104.82,192.97 105.17,192.73 105.52,192.49 105.86,192.25 106.21,192.00 106.55,191.75 106.90,191.50 107.24,191.24 107.59,190.98 107.94,190.72 108.28,190.45 108.63,190.18 108.97,189.90 109.32,189.63 109.67,189.34 110.01,189.06 110.36,188.77 110.70,188.48 111.05,188.18 111.40,187.89 111.74,187.58 112.09,187.28 112.43,186.97 112.78,186.66 113.12,186.34 113.47,186.02 113.82,185.69 114.16,185.37 114.51,185.03 114.85,184.70 115.20,184.36 115.55,184.02 115.89,183.67 116.24,183.32 116.58,182.97 116.93,182.61 117.28,182.25 117.62,181.89 117.97,181.52 118.31,181.14 118.66,180.77 119.01,180.39 119.35,180.01 119.70,179.62 120.04,179.23 120.39,178.83 120.73,178.43 121.08,178.03 121.43,177.63 121.77,177.22 122.12,176.80 122.46,176.39 122.81,175.97 123.16,175.54 123.50,175.11 123.85,174.68 124.19,174.25 124.54,173.81 124.89,173.37 125.23,172.92 125.58,172.47 125.92,172.02 126.27,171.56 126.61,171.10 126.96,170.64 127.31,170.17 127.65,169.70 128.00,169.22 128.34,168.75 128.69,168.26 129.04,167.78 129.38,167.29 129.73,166.80 130.07,166.31 130.42,165.81 130.77,165.31 131.11,164.81 131.46,164.30 131.80,163.79 132.15,163.28 132.50,162.76 132.84,162.24 133.19,161.72 133.53,161.19 133.88,160.66 134.22,160.13 134.57,159.60 134.92,159.06 135.26,158.53 135.61,157.98 135.95,157.44 136.30,156.89 136.65,156.34 136.99,155.79 137.34,155.24 137.68,154.68 138.03,154.12 138.38,153.56 138.72,153.00 139.07,152.43 139.41,151.87 139.76,151.30 140.10,150.73 140.45,150.15 140.80,149.58 141.14,149.00 141.49,148.42 141.83,147.84 142.18,147.26 142.53,146.68 142.87,146.10 143.22,145.51 143.56,144.92 143.91,144.34 144.26,143.75 144.60,143.16 144.95,142.57 145.29,141.97 145.64,141.38 145.99,140.79 146.33,140.19 146.68,139.60 147.02,139.00 147.37,138.41 147.71,137.81 148.06,137.22 148.41,136.62 148.75,136.02 149.10,135.43 149.44,134.83 149.79,134.24 150.14,133.64 150.48,133.04 150.83,132.45 151.17,131.85 151.52,131.26 151.87,130.67 152.21,130.07 152.56,129.48 152.90,128.89 153.25,128.30 153.59,127.71 153.94,127.13 154.29,126.54 154.63,125.96 154.98,125.37 155.32,124.79 155.67,124.21 156.02,123.63 156.36,123.06 156.71,122.48 157.05,121.91 157.40,121.34 157.75,120.77 158.09,120.21 158.44,119.65 158.78,119.09 159.13,118.53 159.48,117.97 159.82,117.42 160.17,116.87 160.51,116.33 160.86,115.78 161.20,115.24 161.55,114.71 161.90,114.17 162.24,113.64 162.59,113.12 162.93,112.59 163.28,112.08 163.63,111.56 163.97,111.05 164.32,110.54 164.66,110.04 165.01,109.54 165.36,109.05 165.70,108.56 166.05,108.07 166.39,107.59 166.74,107.11 167.08,106.64 167.43,106.17 167.78,105.71 168.12,105.26 168.47,104.80 168.81,104.36 169.16,103.92 169.51,103.48 169.85,103.05 170.20,102.62 170.54,102.20 170.89,101.79 171.24,101.38 171.58,100.98 171.93,100.58 172.27,100.19 172.62,99.80 172.97,99.43 173.31,99.05 173.66,98.69 174.00,98.32 174.35,97.97 174.69,97.62 175.04,97.28 175.39,96.95 175.73,96.62 176.08,96.30 176.42,95.98 176.77,95.67 177.12,95.37 177.46,95.08 177.81,94.79 178.15,94.51 178.50,94.23 178.85,93.97 179.19,93.71 179.54,93.46 179.88,93.21 180.23,92.97 180.57,92.74 180.92,92.52 181.27,92.30 181.61,92.09 181.96,91.89 182.30,91.70 182.65,91.51 183.00,91.33 183.34,91.16 183.69,90.99 184.03,90.84 184.38,90.69 184.73,90.54 185.07,90.41 185.42,90.28 185.76,90.16 186.11,90.05 186.46,89.95 186.80,89.85 187.15,89.76 187.49,89.68 187.84,89.61 188.18,89.54 188.53,89.48 188.88,89.43 189.22,89.39 189.57,89.35 189.91,89.32 190.26,89.30 190.61,89.28 190.95,89.28 191.30,89.28 191.64,89.28 191.99,89.30 192.34,89.32 192.68,89.35 193.03,89.39 193.37,89.44 193.72,89.49 194.06,89.56 194.41,89.63 194.76,89.72 195.10,89.81 195.45,89.91 195.79,90.02 196.14,90.13 196.49,90.26 196.83,90.39 197.18,90.54 197.52,90.69 197.87,90.85 198.22,91.02 198.56,91.20 198.91,91.39 199.25,91.58 199.60,91.79 199.94,92.00 200.29,92.22 200.64,92.45 200.98,92.69 201.33,92.93 201.67,93.19 202.02,93.45 202.37,93.72 202.71,94.00 203.06,94.29 203.40,94.58 203.75,94.89 204.10,95.20 204.44,95.52 204.79,95.85 205.13,96.18 205.48,96.52 205.83,96.88 206.17,97.23 206.52,97.60 206.86,97.97 207.21,98.35 207.55,98.74 207.90,99.13 208.25,99.54 208.59,99.95 208.94,100.36 209.28,100.78 209.63,101.21 209.98,101.65 210.32,102.09 210.67,102.54 211.01,103.00 211.36,103.46 211.71,103.93 212.05,104.40 212.40,104.88 212.74,105.37 213.09,105.86 213.43,106.37 213.78,106.88 214.13,107.39 214.47,107.92 214.82,108.46 215.16,109.00 215.51,109.56 215.86,110.14 216.20,110.73 216.55,111.34 216.89,111.97 217.24,112.63 217.59,113.31"/><polyline fill="none" stroke="#288fac" stroke-width="0.75" stroke-linejoin="round" points="217.59,113.31 217.93,114.03 218.28,114.77 218.62,115.56 218.97,116.38 219.32,117.24 219.66,118.15 220.01,119.09 220.35,120.07 220.70,121.08 221.04,122.12 221.39,123.17 221.74,124.23 222.08,125.29 222.43,126.32 222.77,127.32 223.12,128.25 223.47,129.11 223.81,129.87 224.16,130.51 224.50,131.00 224.85,131.33 225.20,131.48 225.54,131.42 225.89,131.14 226.23,130.63 226.58,129.86 226.92,128.83 227.27,127.51 227.62,125.90 227.96,123.99 228.31,121.75 228.65,119.17 229.00,116.23 229.35,112.91 229.69,109.19 230.04,105.04 230.38,100.42 230.73,95.30 231.08,89.64 231.42,83.40 231.77,76.53 232.11,69.00 232.46,60.75 232.81,54.23 233.15,54.23 233.50,54.23 233.84,54.23 234.19,54.23 234.53,54.23 234.88,54.23 235.23,54.23 235.57,54.23 235.92,54.23 236.26,54.23 236.61,54.23 236.96,54.23 237.30,54.23 237.65,54.23 237.99,54.23 238.34,54.23 238.69,54.23 239.03,54.23 239.38,54.23 239.72,54.23 240.07,54.23 240.41,54.23 240.76,54.23 241.11,54.23 241.45,54.23 241.80,54.23 242.14,54.23 242.49,54.23 242.84,54.23 243.18,54.23 243.53,54.23 243.87,54.23 244.22,54.23 244.57,54.23 244.91,55.92 245.26,66.37 245.60,76.11 245.95,85.16 246.30,93.55 246.64,101.31 246.99,108.48 247.33,115.08 247.68,121.17 248.02,126.76 248.37,131.90 248.72,136.62 249.06,140.95 249.41,144.93 249.75,148.58 250.10,151.93 250.45,155.02 250.79,157.87 251.14,160.50 251.48,162.94 251.83,165.21 252.18,167.32 252.52,169.31 252.87,171.17 253.21,172.95 253.56,174.64 253.90,176.26 254.25,177.83 254.60,179.35 254.94,180.85 255.29,182.34 255.63,183.82 255.98,185.30 256.33,186.80 256.67,188.33"/><polyline fill="none" stroke="#268bb3" stroke-width="1.00" stroke-linejoin="round" points="49.48,206.04 49.83,206.03 50.17,206.02 50.52,206.01 50.86,206.00 51.21,205.99 51.56,205.98 51.90,205.97 52.25,205.96 52.59,205.95 52.94,205.95 53.28,205.94 53.63,205.93 53.98,205.92 54.32,205.91 54.67,205.90 55.01,205.89 55.36,205.88 55.71,205.87 56.05,205.86 56.40,205.85 56.74,205.84 57.09,205.83 57.44,205.81 57.78,205.80 58.13,205.79 58.47,205.78 58.82,205.77 59.17,205.75 59.51,205.74 59.86,205.73 60.20,205.71 60.55,205.70 60.89,205.68 61.24,205.67 61.59,205.65 61.93,205.64 62.28,205.62 62.62,205.60 62.97,205.59 63.32,205.57 63.66,205.55 64.01,205.53 64.35,205.51 64.70,205.49 65.05,205.47 65.39,205.45 65.74,205.43 66.08,205.41 66.43,205.39 66.77,205.36 67.12,205.34 67.47,205.32 67.81,205.29 68.16,205.27 68.50,205.24 68.85,205.22 69.20,205.19 69.54,205.16 69.89,205.13 70.23,205.10 70.58,205.07 70.93,205.04 71.27,205.01 71.62,204.98 71.96,204.95 72.31,204.92 72.66,204.88 73.00,204.85 73.35,204.81 73.69,204.77 74.04,204.74 74.38,204.70 74.73,204.66 75.08,204.62 75.42,204.58 75.77,204.54 76.11,204.49 76.46,204.45 76.81,204.40 77.15,204.36 77.50,204.31 77.84,204.26 78.19,204.21 78.54,204.16 78.88,204.11 79.23,204.06 79.57,204.01 79.92,203.95 80.26,203.90 80.61,203.84 80.96,203.78 81.30,203.72 81.65,203.66 81.99,203.60 82.34,203.54 82.69,203.47 83.03,203.41 83.38,203.34 83.72,203.27 84.07,203.20 84.42,203.13 84.76,203.05 85.11,202.98 85.45,202.90 85.80,202.83 86.15,202.75 86.49,202.67 86.84,202.58 87.18,202.50 87.53,202.41 87.87,202.33 88.22,202.24 88.57,202.15 88.91,202.05 89.26,201.96 89.60,201.86 89.95,201.76 90.30,201.66 90.64,201.56 90.99,201.46 91.33,201.35 91.68,201.24 92.03,201.14 92.37,201.02 92.72,200.91 93.06,200.79 93.41,200.68 93.75,200.56 94.10,200.43 94.45,200.31 94.79,200.18 95.14,200.05 95.48,199.92 95.83,199.79 96.18,199.65 96.52,199.51 96.87,199.37 97.21,199.23 97.56,199.08 97.91,198.94 98.25,198.79 98.60,198.63 98.94,198.48 99.29,198.32 99.63,198.16 99.98,198.00 100.33,197.83 100.67,197.66 101.02,197.49 101.36,197.31 101.71,197.14 102.06,196.96 102.40,196.77 102.75,196.59 103.09,196.40 103.44,196.21 103.79,196.01 104.13,195.82 104.48,195.62 104.82,195.41 105.17,195.21 105.52,195.00 105.86,194.78 106.21,194.57 106.55,194.35 106.90,194.13 107.24,193.90 107.59,193.67 107.94,193.44 108.28,193.21 108.63,192.97 108.97,192.73 109.32,192.48 109.67,192.23 110.01,191.98 110.36,191.72 110.70,191.46 111.05,191.20 111.40,190.94 111.74,190.67 112.09,190.39 112.43,190.12 112.78,189.84 113.12,189.55 113.47,189.27 113.82,188.97 114.16,188.68 114.51,188.38 114.85,188.08 115.20,187.77 115.55,187.46 115.89,187.15 116.24,186.83 116.58,186.51 116.93,186.19 117.28,185.86 117.62,185.53 117.97,185.19 118.31,184.85 118.66,184.51 119.01,184.16 119.35,183.81 119.70,183.45 120.04,183.09 120.39,182.73 120.73,182.37 121.08,181.99 121.43,181.62 121.77,181.24 122.12,180.86 122.46,180.47 122.81,180.08 123.16,179.69 123.50,179.29 123.85,178.89 124.19,178.48 124.54,178.07 124.89,177.66 125.23,177.24 125.58,176.82 125.92,176.40 126.27,175.97 126.61,175.54 126.96,175.10 127.31,174.66 127.65,174.21 128.00,173.77 128.34,173.31 128.69,172.86 129.04,172.40 129.38,171.94 129.73,171.47 130.07,171.00 130.42,170.53 130.77,170.05 131.11,169.57 131.46,169.08 131.80,168.60 132.15,168.10 132.50,167.61 132.84,167.11 133.19,166.61 133.53,166.10 133.88,165.59 134.22,165.08 134.57,164.57 134.92,164.05 135.26,163.52 135.61,163.00 135.95,162.47 136.30,161.94 136.65,161.40 136.99,160.87 137.34,160.33 137.68,159.78 138.03,159.24 138.38,158.69 138.72,158.14 139.07,157.58 139.41,157.02 139.76,156.46 140.10,155.90 140.45,155.34 140.80,154.77 141.14,154.20 141.49,153.63 141.83,153.05 142.18,152.48 142.53,151.90 142.87,151.32 143.22,150.73 143.56,150.15 143.91,149.56 144.26,148.97 144.60,148.38 144.95,147.79 145.29,147.20 145.64,146.60 145.99,146.01 146.33,145.41 146.68,144.81 147.02,144.21 147.37,143.61 147.71,143.00 148.06,142.40 148.41,141.80 148.75,141.19 149.10,140.58 149.44,139.98 149.79,139.37 150.14,138.76 150.48,138.15 150.83,137.54 151.17,136.93 151.52,136.33 151.87,135.72 152.21,135.11 152.56,134.50 152.90,133.89 153.25,133.28 153.59,132.67 153.94,132.06 154.29,131.46 154.63,130.85 154.98,130.24 155.32,129.64 155.67,129.04 156.02,128.43 156.36,127.83 156.71,127.23 157.05,126.63 157.40,126.03 157.75,125.44 158.09,124.84 158.44,124.25 158.78,123.66 159.13,123.07 159.48,122.48 159.82,121.90 160.17,121.32 160.51,120.74 160.86,120.16 161.20,119.58 161.55,119.01 161.90,118.44 162.24,117.87 162.59,117.31 162.93,116.75 163.28,116.19 163.63,115.64 163.97,115.09 164.32,114.54 164.66,113.99 165.01,113.45 165.36,112.92 165.70,112.38 166.05,111.85 166.39,111.33 166.74,110.81 167.08,110.29 167.43,109.78 167.78,109.27 168.12,108.77 168.47,108.27 168.81,107.77 169.16,107.28 169.51,106.80 169.85,106.32 170.20,105.85 170.54,105.38 170.89,104.91 171.24,104.46 171.58,104.00 171.93,103.55 172.27,103.11 172.62,102.68 172.97,102.25 173.31,101.82 173.66,101.40 174.00,100.99 174.35,100.58 174.69,100.18 175.04,99.79 175.39,99.40 175.73,99.02 176.08,98.64 176.42,98.27 176.77,97.91 177.12,97.56 177.46,97.21 177.81,96.87 178.15,96.53 178.50,96.21 178.85,95.88 179.19,95.57 179.54,95.26 179.88,94.96 180.23,94.67 180.57,94.39 180.92,94.11 181.27,93.84 181.61,93.58 181.96,93.32 182.30,93.08 182.65,92.84 183.00,92.60 183.34,92.38 183.69,92.16 184.03,91.95 184.38,91.75 184.73,91.56 185.07,91.37 185.42,91.19 185.76,91.02 186.11,90.86 186.46,90.71 186.80,90.56 187.15,90.42 187.49,90.29 187.84,90.17 188.18,90.06 188.53,89.95 188.88,89.85 189.22,89.76 189.57,89.68 189.91,89.60 190.26,89.54 190.61,89.48 190.95,89.43 191.30,89.39 191.64,89.35 191.99,89.32 192.34,89.30 192.68,89.29 193.03,89.29 193.37,89.29 193.72,89.30 194.06,89.33 194.41,89.35 194.76,89.39 195.10,89.44 195.45,89.50 195.79,89.56 196.14,89.64 196.49,89.72 196.83,89.81 197.18,89.92 197.52,90.03 197.87,90.15 198.22,90.28 198.56,90.42 198.91,90.56 199.25,90.72 199.60,90.89 199.94,91.06 200.29,91.25 200.64,91.44 200.98,91.64 201.33,91.85 201.67,92.07 202.02,92.30 202.37,92.54 202.71,92.78 203.06,93.04 203.40,93.30 203.75,93.58 204.10,93.86 204.44,94.15 204.79,94.44 205.13,94.75 205.48,95.07 205.83,95.39 206.17,95.72 206.52,96.06 206.86,96.41 207.21,96.76 207.55,97.12 207.90,97.50 208.25,97.87 208.59,98.26 208.94,98.65 209.28,99.06 209.63,99.46 209.98,99.88 210.32,100.30 210.67,100.73 211.01,101.17 211.36,101.62 211.71,102.07 212.05,102.53 212.40,102.99 212.74,103.47 213.09,103.95 213.43,104.44 213.78,104.93 214.13,105.44 214.47,105.95 214.82,106.48 215.16,107.02 215.51,107.57 215.86,108.14 216.20,108.72 216.55,109.33 216.89,109.96 217.24,110.61 217.59,111.29"/><polyline fill="none" stroke="#268bb3" stroke-width="0.75" stroke-linejoin="round" points="217.59,111.29 217.93,112.01 218.28,112.76 218.62,113.55 218.97,114.38 219.32,115.26 219.66,116.17 220.01,117.13 220.35,118.13 220.70,119.17 221.04,120.24 221.39,121.33 221.74,122.43 222.08,123.53 222.43,124.62 222.77,125.68 223.12,126.68 223.47,127.62 223.81,128.46 224.16,129.20 224.50,129.80 224.85,130.26 225.20,130.54 225.54,130.64 225.89,130.54 226.23,130.22 226.58,129.68 226.92,128.89 227.27,127.85 227.62,126.55 227.96,124.98 228.31,123.13 228.65,120.98 229.00,118.53 229.35,115.74 229.69,112.60 230.04,109.08 230.38,105.16 230.73,100.81 231.08,95.97 231.42,90.62 231.77,84.71 232.11,78.19 232.46,71.01 232.81,63.13 233.15,54.50 233.50,54.23 233.84,54.23 234.19,54.23 234.53,54.23 234.88,54.23 235.23,54.23 235.57,54.23 235.92,54.23 236.26,54.23 236.61,54.23 236.96,54.23 237.30,54.23 237.65,54.23 237.99,54.23 238.34,54.23 238.69,54.23 239.03,54.23 239.38,54.23 239.72,54.23 240.07,54.23 240.41,54.23 240.76,54.23 241.11,54.23 241.45,54.23 241.80,54.23 242.14,54.23 242.49,54.23 242.84,54.23 243.18,54.23 243.53,54.23 243.87,54.23 244.22,54.23 244.57,58.94 244.91,69.07 245.26,78.50 245.60,87.25 245.95,95.36 246.30,102.86 246.64,109.77 246.99,116.15 247.33,122.02 247.68,127.43 248.02,132.39 248.37,136.96 248.72,141.16 249.06,145.02 249.41,148.57 249.75,151.85 250.10,154.87 250.45,157.67 250.79,160.27 251.14,162.69 251.48,164.95 251.83,167.08 252.18,169.08 252.52,170.99 252.87,172.81 253.21,174.56 253.56,176.25 253.90,177.91 254.25,179.53 254.60,181.14 254.94,182.75 255.29,184.36 255.63,185.99 255.98,187.65 256.33,189.36 256.67,191.11"/><polyline fill="none" stroke="#2487ba" stroke-width="1.00" stroke-linejoin="round" points="49.48,206.09 49.83,206.08 50.17,206.08 50.52,206.07 50.86,206.06 51.21,206.05 51.56,206.05 51.90,206.04 52.25,206.04 52.59,206.03 52.94,206.02 53.28,206.02 53.63,206.01 53.98,206.00 54.32,206.00 54.67,205.99 55.01,205.98 55.36,205.97 55.71,205.97 56.05,205.96 56.40,205.95 56.74,205.94 57.09,205.94 57.44,205.93 57.78,205.92 58.13,205.91 58.47,205.90 58.82,205.89 59.17,205.88 59.51,205.87 59.86,205.86 60.20,205.85 60.55,205.84 60.89,205.83 61.24,205.82 61.59,205.81 61.93,205.79 62.28,205.78 62.62,205.77 62.97,205.76 63.32,205.74 63.66,205.73 64.01,205.72 64.35,205.70 64.70,205.69 65.05,205.67 65.39,205.65 65.74,205.64 66.08,205.62 66.43,205.61 66.77,205.59 67.12,205.57 67.47,205.55 67.81,205.53 68.16,205.51 68.50,205.49 68.85,205.47 69.20,205.45 69.54,205.43 69.89,205.41 70.23,205.39 70.58,205.36 70.93,205.34 71.27,205.32 71.62,205.29 71.96,205.27 72.31,205.24 72.66,205.21 73.00,205.18 73.35,205.16 73.69,205.13 74.04,205.10 74.38,205.07 74.73,205.04 75.08,205.01 75.42,204.97 75.77,204.94 76.11,204.91 76.46,204.87 76.81,204.83 77.15,204.80 77.50,204.76 77.84,204.72 78.19,204.68 78.54,204.64 78.88,204.60 79.23,204.56 79.57,204.52 79.92,204.47 80.26,204.43 80.61,204.38 80.96,204.33 81.30,204.29 81.65,204.24 81.99,204.19 82.34,204.14 82.69,204.08 83.03,204.03 83.38,203.97 83.72,203.92 84.07,203.86 84.42,203.80 84.76,203.74 85.11,203.68 85.45,203.62 85.80,203.55 86.15,203.49 86.49,203.42 86.84,203.35 87.18,203.28 87.53,203.21 87.87,203.14 88.22,203.07 88.57,202.99 88.91,202.91 89.26,202.84 89.60,202.76 89.95,202.67 90.30,202.59 90.64,202.50 90.99,202.42 91.33,202.33 91.68,202.24 92.03,202.15 92.37,202.05 92.72,201.96 93.06,201.86 93.41,201.76 93.75,201.66 94.10,201.55 94.45,201.45 94.79,201.34 95.14,201.23 95.48,201.12 95.83,201.01 96.18,200.89 96.52,200.77 96.87,200.65 97.21,200.53 97.56,200.40 97.91,200.28 98.25,200.15 98.60,200.02 98.94,199.88 99.29,199.75 99.63,199.61 99.98,199.47 100.33,199.32 100.67,199.18 101.02,199.03 101.36,198.88 101.71,198.72 102.06,198.57 102.40,198.41 102.75,198.24 103.09,198.08 103.44,197.91 103.79,197.74 104.13,197.57 104.48,197.39 104.82,197.21 105.17,197.03 105.52,196.85 105.86,196.66 106.21,196.47 106.55,196.28 106.90,196.08 107.24,195.88 107.59,195.68 107.94,195.47 108.28,195.26 108.63,195.05 108.97,194.84 109.32,194.62 109.67,194.40 110.01,194.17 110.36,193.94 110.70,193.71 111.05,193.48 111.40,193.24 111.74,193.00 112.09,192.75 112.43,192.50 112.78,192.25 113.12,191.99 113.47,191.73 113.82,191.47 114.16,191.20 114.51,190.93 114.85,190.66 115.20,190.38 115.55,190.10 115.89,189.82 116.24,189.53 116.58,189.23 116.93,188.94 117.28,188.64 117.62,188.33 117.97,188.03 118.31,187.71 118.66,187.40 119.01,187.08 119.35,186.76 119.70,186.43 120.04,186.10 120.39,185.76 120.73,185.43 121.08,185.08 121.43,184.74 121.77,184.39 122.12,184.03 122.46,183.67 122.81,183.31 123.16,182.94 123.50,182.57 123.85,182.20 124.19,181.82 124.54,181.44 124.89,181.05 125.23,180.66 125.58,180.26 125.92,179.87 126.27,179.46 126.61,179.06 126.96,178.65 127.31,178.23 127.65,177.81 128.00,177.39 128.34,176.96 128.69,176.53 129.04,176.10 129.38,175.66 129.73,175.21 130.07,174.77 130.42,174.32 130.77,173.86 131.11,173.40 131.46,172.94 131.80,172.48 132.15,172.01 132.50,171.53 132.84,171.05 133.19,170.57 133.53,170.09 133.88,169.60 134.22,169.10 134.57,168.61 134.92,168.11 135.26,167.60 135.61,167.10 135.95,166.59 136.30,166.07 136.65,165.55 136.99,165.03 137.34,164.51 137.68,163.98 138.03,163.45 138.38,162.91 138.72,162.38 139.07,161.83 139.41,161.29 139.76,160.74 140.10,160.19 140.45,159.64 140.80,159.08 141.14,158.52 141.49,157.96 141.83,157.40 142.18,156.83 142.53,156.26 142.87,155.68 143.22,155.11 143.56,154.53 143.91,153.95 144.26,153.36 144.60,152.78 144.95,152.19 145.29,151.60 145.64,151.01 145.99,150.41 146.33,149.82 146.68,149.22 147.02,148.62 147.37,148.02 147.71,147.41 148.06,146.81 148.41,146.20 148.75,145.59 149.10,144.98 149.44,144.37 149.79,143.76 150.14,143.15 150.48,142.53 150.83,141.92 151.17,141.30 151.52,140.68 151.87,140.07 152.21,139.45 152.56,138.83 152.90,138.21 153.25,137.59 153.59,136.97 153.94,136.35 154.29,135.73 154.63,135.11 154.98,134.49 155.32,133.87 155.67,133.25 156.02,132.63 156.36,132.01 156.71,131.39 157.05,130.77 157.40,130.16 157.75,129.54 158.09,128.93 158.44,128.31 158.78,127.70 159.13,127.09 159.48,126.48 159.82,125.87 160.17,125.26 160.51,124.66 160.86,124.05 161.20,123.45 161.55,122.85 161.90,122.26 162.24,121.66 162.59,121.07 162.93,120.48 163.28,119.89 163.63,119.31 163.97,118.72 164.32,118.14 164.66,117.57 165.01,116.99 165.36,116.42 165.70,115.86 166.05,115.29 166.39,114.73 166.74,114.18 167.08,113.63 167.43,113.08 167.78,112.53 168.12,111.99 168.47,111.46 168.81,110.92 169.16,110.40 169.51,109.87 169.85,109.35 170.20,108.84 170.54,108.33 170.89,107.83 171.24,107.33 171.58,106.83 171.93,106.34 172.27,105.86 172.62,105.38 172.97,104.91 173.31,104.44 173.66,103.98 174.00,103.52 174.35,103.07 174.69,102.62 175.04,102.19 175.39,101.75 175.73,101.33 176.08,100.91 176.42,100.49 176.77,100.09 177.12,99.69 177.46,99.29 177.81,98.90 178.15,98.52 178.50,98.15 178.85,97.78 179.19,97.42 179.54,97.07 179.88,96.72 180.23,96.38 180.57,96.05 180.92,95.73 181.27,95.41 181.61,95.10 181.96,94.80 182.30,94.51 182.65,94.22 183.00,93.94 183.34,93.67 183.69,93.41 184.03,93.15 184.38,92.90 184.73,92.66 185.07,92.43 185.42,92.21 185.76,91.99 186.11,91.79 186.46,91.59 186.80,91.40 187.15,91.21 187.49,91.04 187.84,90.87 188.18,90.71 188.53,90.56 188.88,90.42 189.22,90.29 189.57,90.16 189.91,90.05 190.26,89.94 190.61,89.84 190.95,89.75 191.30,89.67 191.64,89.59 191.99,89.53 192.34,89.47 192.68,89.42 193.03,89.38 193.37,89.35 193.72,89.32 194.06,89.30 194.41,89.30 194.76,89.30 195.10,89.30 195.45,89.32 195.79,89.35 196.14,89.38 196.49,89.43 196.83,89.48 197.18,89.55 197.52,89.62 197.87,89.71 198.22,89.80 198.56,89.90 198.91,90.01 199.25,90.13 199.60,90.26 199.94,90.40 200.29,90.55 200.64,90.71 200.98,90.88 201.33,91.06 201.67,91.25 202.02,91.44 202.37,91.65 202.71,91.87 203.06,92.09 203.40,92.32 203.75,92.57 204.10,92.82 204.44,93.08 204.79,93.35 205.13,93.63 205.48,93.92 205.83,94.21 206.17,94.52 206.52,94.83 206.86,95.15 207.21,95.48 207.55,95.82 207.90,96.17 208.25,96.53 208.59,96.89 208.94,97.26 209.28,97.64 209.63,98.03 209.98,98.43 210.32,98.83 210.67,99.24 211.01,99.66 211.36,100.09 211.71,100.52 212.05,100.97 212.40,101.41 212.74,101.87 213.09,102.34 213.43,102.81 213.78,103.30 214.13,103.79 214.47,104.29 214.82,104.81 215.16,105.33 215.51,105.88 215.86,106.43 216.20,107.01 216.55,107.61 216.89,108.23 217.24,108.88 217.59,109.56"/><polyline fill="none" stroke="#2487ba" stroke-width="0.75" stroke-linejoin="round" points="217.59,109.56 217.93,110.27 218.28,111.03 218.62,111.82 218.97,112.65 219.32,113.53 219.66,114.46 220.01,115.43 220.35,116.44 220.70,117.50 221.04,118.59 221.39,119.70 221.74,120.84 222.08,121.97 222.43,123.10 222.77,124.20 223.12,125.26 223.47,126.26 223.81,127.17 224.16,127.98 224.50,128.68 224.85,129.23 225.20,129.63 225.54,129.85 225.89,129.89 226.23,129.73 226.58,129.37 226.92,128.78 227.27,127.98 227.62,126.94 227.96,125.66 228.31,124.14 228.65,122.35 229.00,120.31 229.35,117.97 229.69,115.34 230.04,112.39 230.38,109.08 230.73,105.40 231.08,101.31 231.42,96.76 231.77,91.71 232.11,86.13 232.46,79.95 232.81,73.13 233.15,65.62 233.50,57.36 233.84,54.23 234.19,54.23 234.53,54.23 234.88,54.23 235.23,54.23 235.57,54.23 235.92,54.23 236.26,54.23 236.61,54.23 236.96,54.23 237.30,54.23 237.65,54.23 237.99,54.23 238.34,54.23 238.69,54.23 239.03,54.23 239.38,54.23 239.72,54.23 240.07,54.23 240.41,54.23 240.76,54.23 241.11,54.23 241.45,54.23 241.80,54.23 242.14,54.23 242.49,54.23 242.84,54.23 243.18,54.23 243.53,54.23 243.87,54.23 244.22,61.74 244.57,71.54 244.91,80.65 245.26,89.09 245.60,96.91 245.95,104.13 246.30,110.80 246.64,116.94 246.99,122.60 247.33,127.81 247.68,132.60 248.02,137.01 248.37,141.07 248.72,144.82 249.06,148.27 249.41,151.46 249.75,154.42 250.10,157.17 250.45,159.73 250.79,162.12 251.14,164.37 251.48,166.49 251.83,168.51 252.18,170.44 252.52,172.29 252.87,174.08 253.21,175.83 253.56,177.55 253.90,179.24 254.25,180.93 254.60,182.63 254.94,184.34 255.29,186.09 255.63,187.87 255.98,189.70 256.33,191.60 256.67,193.58"/><polyline fill="none" stroke="#2383c1" stroke-width="1.00" stroke-linejoin="round" points="49.48,206.12 49.83,206.12 50.17,206.11 50.52,206.11 50.86,206.10 51.21,206.10 51.56,206.09 51.90,206.09 52.25,206.08 52.59,206.08 52.94,206.07 53.28,206.07 53.63,206.06 53.98,206.06 54.32,206.05 54.67,206.05 55.01,206.04 55.36,206.04 55.71,206.03 56.05,206.03 56.40,206.02 56.74,206.02 57.09,206.01 57.44,206.00 57.78,206.00 58.13,205.99 58.47,205.98 58.82,205.98 59.17,205.97 59.51,205.96 59.86,205.95 60.20,205.95 60.55,205.94 60.89,205.93 61.24,205.92 61.59,205.91 61.93,205.90 62.28,205.89 62.62,205.88 62.97,205.87 63.32,205.86 63.66,205.85 64.01,205.84 64.35,205.83 64.70,205.82 65.05,205.81 65.39,205.80 65.74,205.78 66.08,205.77 66.43,205.76 66.77,205.74 67.12,205.73 67.47,205.72 67.81,205.70 68.16,205.69 68.50,205.67 68.85,205.66 69.20,205.64 69.54,205.62 69.89,205.61 70.23,205.59 70.58,205.57 70.93,205.55 71.27,205.53 71.62,205.51 71.96,205.49 72.31,205.47 72.66,205.45 73.00,205.43 73.35,205.41 73.69,205.38 74.04,205.36 74.38,205.34 74.73,205.31 75.08,205.29 75.42,205.26 75.77,205.23 76.11,205.21 76.46,205.18 76.81,205.15 77.15,205.12 77.50,205.09 77.84,205.06 78.19,205.03 78.54,204.99 78.88,204.96 79.23,204.93 79.57,204.89 79.92,204.86 80.26,204.82 80.61,204.78 80.96,204.74 81.30,204.70 81.65,204.66 81.99,204.62 82.34,204.58 82.69,204.54 83.03,204.49 83.38,204.45 83.72,204.40 84.07,204.36 84.42,204.31 84.76,204.26 85.11,204.21 85.45,204.16 85.80,204.10 86.15,204.05 86.49,203.99 86.84,203.94 87.18,203.88 87.53,203.82 87.87,203.76 88.22,203.70 88.57,203.63 88.91,203.57 89.26,203.50 89.60,203.44 89.95,203.37 90.30,203.30 90.64,203.23 90.99,203.15 91.33,203.08 91.68,203.00 92.03,202.92 92.37,202.84 92.72,202.76 93.06,202.68 93.41,202.60 93.75,202.51 94.10,202.42 94.45,202.33 94.79,202.24 95.14,202.15 95.48,202.05 95.83,201.95 96.18,201.85 96.52,201.75 96.87,201.65 97.21,201.54 97.56,201.44 97.91,201.33 98.25,201.22 98.60,201.10 98.94,200.99 99.29,200.87 99.63,200.75 99.98,200.63 100.33,200.50 100.67,200.37 101.02,200.25 101.36,200.11 101.71,199.98 102.06,199.84 102.40,199.70 102.75,199.56 103.09,199.42 103.44,199.27 103.79,199.12 104.13,198.97 104.48,198.82 104.82,198.66 105.17,198.50 105.52,198.34 105.86,198.17 106.21,198.00 106.55,197.83 106.90,197.66 107.24,197.48 107.59,197.30 107.94,197.12 108.28,196.93 108.63,196.74 108.97,196.55 109.32,196.36 109.67,196.16 110.01,195.96 110.36,195.75 110.70,195.55 111.05,195.33 111.40,195.12 111.74,194.90 112.09,194.68 112.43,194.46 112.78,194.23 113.12,194.00 113.47,193.76 113.82,193.53 114.16,193.29 114.51,193.04 114.85,192.79 115.20,192.54 115.55,192.28 115.89,192.03 116.24,191.76 116.58,191.50 116.93,191.23 117.28,190.95 117.62,190.67 117.97,190.39 118.31,190.11 118.66,189.82 119.01,189.52 119.35,189.23 119.70,188.93 120.04,188.62 120.39,188.31 120.73,188.00 121.08,187.69 121.43,187.36 121.77,187.04 122.12,186.71 122.46,186.38 122.81,186.04 123.16,185.70 123.50,185.36 123.85,185.01 124.19,184.66 124.54,184.30 124.89,183.94 125.23,183.57 125.58,183.20 125.92,182.83 126.27,182.45 126.61,182.07 126.96,181.69 127.31,181.30 127.65,180.90 128.00,180.50 128.34,180.10 128.69,179.69 129.04,179.28 129.38,178.87 129.73,178.45 130.07,178.03 130.42,177.60 130.77,177.17 131.11,176.73 131.46,176.29 131.80,175.85 132.15,175.40 132.50,174.95 132.84,174.49 133.19,174.03 133.53,173.57 133.88,173.10 134.22,172.63 134.57,172.15 134.92,171.67 135.26,171.19 135.61,170.70 135.95,170.21 136.30,169.71 136.65,169.21 136.99,168.71 137.34,168.20 137.68,167.69 138.03,167.18 138.38,166.66 138.72,166.14 139.07,165.61 139.41,165.08 139.76,164.55 140.10,164.01 140.45,163.47 140.80,162.93 141.14,162.38 141.49,161.83 141.83,161.28 142.18,160.72 142.53,160.16 142.87,159.60 143.22,159.04 143.56,158.47 143.91,157.90 144.26,157.32 144.60,156.74 144.95,156.16 145.29,155.58 145.64,154.99 145.99,154.41 146.33,153.82 146.68,153.22 147.02,152.63 147.37,152.03 147.71,151.43 148.06,150.83 148.41,150.22 148.75,149.61 149.10,149.01 149.44,148.39 149.79,147.78 150.14,147.17 150.48,146.55 150.83,145.94 151.17,145.32 151.52,144.70 151.87,144.07 152.21,143.45 152.56,142.83 152.90,142.20 153.25,141.58 153.59,140.95 153.94,140.32 154.29,139.69 154.63,139.06 154.98,138.43 155.32,137.80 155.67,137.17 156.02,136.54 156.36,135.91 156.71,135.28 157.05,134.65 157.40,134.02 157.75,133.39 158.09,132.76 158.44,132.13 158.78,131.50 159.13,130.87 159.48,130.24 159.82,129.62 160.17,128.99 160.51,128.37 160.86,127.74 161.20,127.12 161.55,126.50 161.90,125.88 162.24,125.27 162.59,124.65 162.93,124.04 163.28,123.42 163.63,122.81 163.97,122.21 164.32,121.60 164.66,121.00 165.01,120.40 165.36,119.80 165.70,119.21 166.05,118.61 166.39,118.03 166.74,117.44 167.08,116.86 167.43,116.28 167.78,115.70 168.12,115.13 168.47,114.56 168.81,114.00 169.16,113.44 169.51,112.88 169.85,112.33 170.20,111.78 170.54,111.23 170.89,110.69 171.24,110.16 171.58,109.63 171.93,109.10 172.27,108.58 172.62,108.06 172.97,107.55 173.31,107.05 173.66,106.55 174.00,106.05 174.35,105.56 174.69,105.08 175.04,104.60 175.39,104.13 175.73,103.66 176.08,103.20 176.42,102.74 176.77,102.29 177.12,101.85 177.46,101.42 177.81,100.99 178.15,100.56 178.50,100.15 178.85,99.74 179.19,99.34 179.54,98.94 179.88,98.55 180.23,98.17 180.57,97.80 180.92,97.43 181.27,97.07 181.61,96.72 181.96,96.37 182.30,96.03 182.65,95.70 183.00,95.38 183.34,95.07 183.69,94.76 184.03,94.46 184.38,94.17 184.73,93.89 185.07,93.61 185.42,93.34 185.76,93.09 186.11,92.84 186.46,92.59 186.80,92.36 187.15,92.13 187.49,91.92 187.84,91.71 188.18,91.51 188.53,91.32 188.88,91.13 189.22,90.96 189.57,90.79 189.91,90.64 190.26,90.49 190.61,90.35 190.95,90.22 191.30,90.09 191.64,89.98 191.99,89.88 192.34,89.78 192.68,89.69 193.03,89.61 193.37,89.54 193.72,89.48 194.06,89.43 194.41,89.39 194.76,89.35 195.10,89.33 195.45,89.31 195.79,89.30 196.14,89.30 196.49,89.31 196.83,89.33 197.18,89.35 197.52,89.39 197.87,89.44 198.22,89.49 198.56,89.56 198.91,89.64 199.25,89.72 199.60,89.82 199.94,89.93 200.29,90.04 200.64,90.17 200.98,90.30 201.33,90.45 201.67,90.61 202.02,90.77 202.37,90.95 202.71,91.13 203.06,91.32 203.40,91.53 203.75,91.74 204.10,91.96 204.44,92.20 204.79,92.44 205.13,92.69 205.48,92.95 205.83,93.22 206.17,93.50 206.52,93.78 206.86,94.08 207.21,94.39 207.55,94.70 207.90,95.03 208.25,95.36 208.59,95.70 208.94,96.05 209.28,96.41 209.63,96.77 209.98,97.15 210.32,97.53 210.67,97.92 211.01,98.32 211.36,98.73 211.71,99.15 212.05,99.57 212.40,100.00 212.74,100.44 213.09,100.89 213.43,101.35 213.78,101.82 214.13,102.30 214.47,102.79 214.82,103.29 215.16,103.80 215.51,104.33 215.86,104.88 216.20,105.45 216.55,106.04 216.89,106.65 217.24,107.29 217.59,107.97"/><polyline fill="none" stroke="#2383c1" stroke-width="0.55" stroke-linejoin="round" points="217.59,107.97 217.93,108.68 218.28,109.42 218.62,110.21 218.97,111.05 219.32,111.93 219.66,112.86 220.01,113.84 220.35,114.86 220.70,115.93 221.04,117.03 221.39,118.17 221.74,119.32 222.08,120.48 222.43,121.64 222.77,122.78 223.12,123.88 223.47,124.92 223.81,125.89 224.16,126.76 224.50,127.52 224.85,128.15 225.20,128.64 225.54,128.96 225.89,129.12 226.23,129.09 226.58,128.87 226.92,128.45 227.27,127.83 227.62,127.01 227.96,125.97 228.31,124.72 228.65,123.24 229.00,121.54 229.35,119.59 229.69,117.39 230.04,114.92 230.38,112.15 230.73,109.07 231.08,105.62 231.42,101.79 231.77,97.53 232.11,92.79 232.46,87.53 232.81,81.69 233.15,75.23 233.50,68.08 233.84,60.20 234.19,54.23 234.53,54.23 234.88,54.23 235.23,54.23 235.57,54.23 235.92,54.23 236.26,54.23 236.61,54.23 236.96,54.23 237.30,54.23 237.65,54.23 237.99,54.23 238.34,54.23 238.69,54.23 239.03,54.23 239.38,54.23 239.72,54.23 240.07,54.23 240.41,54.23 240.76,54.23 241.11,54.23 241.45,54.23 241.80,54.23 242.14,54.23 242.49,54.23 242.84,54.23 243.18,54.23 243.53,54.23 243.87,64.24 244.22,73.68 244.57,82.45 244.91,90.58 245.26,98.10 245.60,105.04 245.95,111.44 246.30,117.35 246.64,122.79 246.99,127.80 247.33,132.41 247.68,136.66 248.02,140.58 248.37,144.20 248.72,147.55 249.06,150.65 249.41,153.53 249.75,156.22 250.10,158.73 250.45,161.08 250.79,163.31 251.14,165.41 251.48,167.42 251.83,169.35 252.18,171.21 252.52,173.02 252.87,174.79 253.21,176.54 253.56,178.27 253.90,180.00 254.25,181.75 254.60,183.51 254.94,185.31 255.29,187.16 255.63,189.06 255.98,191.03 256.33,193.09 256.67,195.23"/><polyline fill="none" stroke="#217ec7" stroke-width="1.00" stroke-linejoin="round" points="49.48,206.14 49.83,206.14 50.17,206.13 50.52,206.13 50.86,206.13 51.21,206.12 51.56,206.12 51.90,206.12 52.25,206.11 52.59,206.11 52.94,206.10 53.28,206.10 53.63,206.10 53.98,206.09 54.32,206.09 54.67,206.09 55.01,206.08 55.36,206.08 55.71,206.07 56.05,206.07 56.40,206.06 56.74,206.06 57.09,206.05 57.44,206.05 57.78,206.04 58.13,206.04 58.47,206.03 58.82,206.03 59.17,206.02 59.51,206.02 59.86,206.01 60.20,206.00 60.55,206.00 60.89,205.99 61.24,205.98 61.59,205.98 61.93,205.97 62.28,205.96 62.62,205.95 62.97,205.95 63.32,205.94 63.66,205.93 64.01,205.92 64.35,205.91 64.70,205.90 65.05,205.89 65.39,205.88 65.74,205.87 66.08,205.86 66.43,205.85 66.77,205.84 67.12,205.83 67.47,205.82 67.81,205.81 68.16,205.79 68.50,205.78 68.85,205.77 69.20,205.76 69.54,205.74 69.89,205.73 70.23,205.71 70.58,205.70 70.93,205.68 71.27,205.67 71.62,205.65 71.96,205.63 72.31,205.62 72.66,205.60 73.00,205.58 73.35,205.56 73.69,205.54 74.04,205.53 74.38,205.51 74.73,205.48 75.08,205.46 75.42,205.44 75.77,205.42 76.11,205.40 76.46,205.37 76.81,205.35 77.15,205.33 77.50,205.30 77.84,205.27 78.19,205.25 78.54,205.22 78.88,205.19 79.23,205.16 79.57,205.13 79.92,205.10 80.26,205.07 80.61,205.04 80.96,205.01 81.30,204.98 81.65,204.94 81.99,204.91 82.34,204.87 82.69,204.83 83.03,204.80 83.38,204.76 83.72,204.72 84.07,204.68 84.42,204.64 84.76,204.60 85.11,204.55 85.45,204.51 85.80,204.46 86.15,204.42 86.49,204.37 86.84,204.32 87.18,204.27 87.53,204.22 87.87,204.17 88.22,204.11 88.57,204.06 88.91,204.00 89.26,203.95 89.60,203.89 89.95,203.83 90.30,203.77 90.64,203.71 90.99,203.64 91.33,203.58 91.68,203.51 92.03,203.44 92.37,203.37 92.72,203.30 93.06,203.23 93.41,203.16 93.75,203.08 94.10,203.00 94.45,202.93 94.79,202.85 95.14,202.76 95.48,202.68 95.83,202.59 96.18,202.51 96.52,202.42 96.87,202.33 97.21,202.23 97.56,202.14 97.91,202.04 98.25,201.94 98.60,201.84 98.94,201.74 99.29,201.64 99.63,201.53 99.98,201.42 100.33,201.31 100.67,201.20 101.02,201.08 101.36,200.96 101.71,200.84 102.06,200.72 102.40,200.60 102.75,200.47 103.09,200.34 103.44,200.21 103.79,200.08 104.13,199.94 104.48,199.80 104.82,199.66 105.17,199.52 105.52,199.37 105.86,199.22 106.21,199.07 106.55,198.91 106.90,198.76 107.24,198.60 107.59,198.43 107.94,198.27 108.28,198.10 108.63,197.93 108.97,197.76 109.32,197.58 109.67,197.40 110.01,197.21 110.36,197.03 110.70,196.84 111.05,196.65 111.40,196.45 111.74,196.25 112.09,196.05 112.43,195.84 112.78,195.64 113.12,195.42 113.47,195.21 113.82,194.99 114.16,194.77 114.51,194.54 114.85,194.31 115.20,194.08 115.55,193.85 115.89,193.61 116.24,193.36 116.58,193.12 116.93,192.87 117.28,192.61 117.62,192.36 117.97,192.09 118.31,191.83 118.66,191.56 119.01,191.29 119.35,191.01 119.70,190.73 120.04,190.45 120.39,190.16 120.73,189.87 121.08,189.57 121.43,189.27 121.77,188.97 122.12,188.66 122.46,188.35 122.81,188.03 123.16,187.71 123.50,187.39 123.85,187.06 124.19,186.73 124.54,186.39 124.89,186.05 125.23,185.71 125.58,185.36 125.92,185.01 126.27,184.65 126.61,184.29 126.96,183.92 127.31,183.55 127.65,183.18 128.00,182.80 128.34,182.42 128.69,182.03 129.04,181.64 129.38,181.25 129.73,180.85 130.07,180.44 130.42,180.04 130.77,179.62 131.11,179.21 131.46,178.79 131.80,178.36 132.15,177.93 132.50,177.50 132.84,177.06 133.19,176.62 133.53,176.17 133.88,175.72 134.22,175.27 134.57,174.81 134.92,174.35 135.26,173.88 135.61,173.41 135.95,172.93 136.30,172.45 136.65,171.97 136.99,171.48 137.34,170.99 137.68,170.50 138.03,170.00 138.38,169.49 138.72,168.99 139.07,168.47 139.41,167.96 139.76,167.44 140.10,166.92 140.45,166.39 140.80,165.86 141.14,165.33 141.49,164.79 141.83,164.25 142.18,163.70 142.53,163.15 142.87,162.60 143.22,162.05 143.56,161.49 143.91,160.93 144.26,160.36 144.60,159.79 144.95,159.22 145.29,158.64 145.64,158.07 145.99,157.49 146.33,156.90 146.68,156.32 147.02,155.73 147.37,155.13 147.71,154.54 148.06,153.94 148.41,153.34 148.75,152.74 149.10,152.13 149.44,151.52 149.79,150.91 150.14,150.30 150.48,149.69 150.83,149.07 151.17,148.45 151.52,147.83 151.87,147.21 152.21,146.59 152.56,145.96 152.90,145.34 153.25,144.71 153.59,144.08 153.94,143.45 154.29,142.82 154.63,142.18 154.98,141.55 155.32,140.91 155.67,140.28 156.02,139.64 156.36,139.00 156.71,138.36 157.05,137.73 157.40,137.09 157.75,136.45 158.09,135.81 158.44,135.17 158.78,134.53 159.13,133.89 159.48,133.25 159.82,132.61 160.17,131.98 160.51,131.34 160.86,130.70 161.20,130.07 161.55,129.43 161.90,128.80 162.24,128.17 162.59,127.54 162.93,126.91 163.28,126.28 163.63,125.65 163.97,125.03 164.32,124.40 164.66,123.78 165.01,123.16 165.36,122.54 165.70,121.93 166.05,121.32 166.39,120.71 166.74,120.10 167.08,119.50 167.43,118.89 167.78,118.30 168.12,117.70 168.47,117.11 168.81,116.52 169.16,115.93 169.51,115.35 169.85,114.77 170.20,114.20 170.54,113.63 170.89,113.06 171.24,112.50 171.58,111.94 171.93,111.39 172.27,110.84 172.62,110.30 172.97,109.76 173.31,109.22 173.66,108.69 174.00,108.17 174.35,107.65 174.69,107.14 175.04,106.63 175.39,106.12 175.73,105.63 176.08,105.13 176.42,104.65 176.77,104.17 177.12,103.69 177.46,103.23 177.81,102.76 178.15,102.31 178.50,101.86 178.85,101.42 179.19,100.98 179.54,100.55 179.88,100.13 180.23,99.72 180.57,99.31 180.92,98.91 181.27,98.51 181.61,98.13 181.96,97.75 182.30,97.37 182.65,97.01 183.00,96.65 183.34,96.30 183.69,95.96 184.03,95.63 184.38,95.30 184.73,94.99 185.07,94.68 185.42,94.38 185.76,94.08 186.11,93.80 186.46,93.52 186.80,93.25 187.15,92.99 187.49,92.74 187.84,92.50 188.18,92.26 188.53,92.04 188.88,91.82 189.22,91.61 189.57,91.41 189.91,91.22 190.26,91.04 190.61,90.87 190.95,90.71 191.30,90.55 191.64,90.40 191.99,90.27 192.34,90.14 192.68,90.02 193.03,89.91 193.37,89.81 193.72,89.72 194.06,89.64 194.41,89.56 194.76,89.50 195.10,89.44 195.45,89.40 195.79,89.36 196.14,89.33 196.49,89.31 196.83,89.30 197.18,89.30 197.52,89.31 197.87,89.33 198.22,89.35 198.56,89.39 198.91,89.44 199.25,89.50 199.60,89.56 199.94,89.64 200.29,89.73 200.64,89.83 200.98,89.94 201.33,90.06 201.67,90.18 202.02,90.32 202.37,90.47 202.71,90.63 203.06,90.80 203.40,90.98 203.75,91.17 204.10,91.36 204.44,91.57 204.79,91.79 205.13,92.02 205.48,92.25 205.83,92.50 206.17,92.76 206.52,93.02 206.86,93.30 207.21,93.58 207.55,93.88 207.90,94.18 208.25,94.49 208.59,94.81 208.94,95.14 209.28,95.48 209.63,95.83 209.98,96.19 210.32,96.55 210.67,96.93 211.01,97.31 211.36,97.70 211.71,98.10 212.05,98.51 212.40,98.93 212.74,99.35 213.09,99.79 213.43,100.23 213.78,100.69 214.13,101.15 214.47,101.63 214.82,102.12 215.16,102.62 215.51,103.14 215.86,103.68 216.20,104.23 216.55,104.81 216.89,105.42 217.24,106.05 217.59,106.72"/><polyline fill="none" stroke="#217ec7" stroke-width="0.55" stroke-linejoin="round" points="217.59,106.72 217.93,107.42 218.28,108.16 218.62,108.95 218.97,109.78 219.32,110.66 219.66,111.59 220.01,112.57 220.35,113.60 220.70,114.68 221.04,115.79 221.39,116.93 221.74,118.10 222.08,119.28 222.43,120.46 222.77,121.62 223.12,122.75 223.47,123.83 223.81,124.83 224.16,125.75 224.50,126.57 224.85,127.26 225.20,127.81 225.54,128.21 225.89,128.46 226.23,128.53 226.58,128.43 226.92,128.15 227.27,127.68 227.62,127.03 227.96,126.19 228.31,125.16 228.65,123.94 229.00,122.52 229.35,120.90 229.69,119.07 230.04,117.01 230.38,114.70 230.73,112.12 231.08,109.25 231.42,106.05 231.77,102.47 232.11,98.50 232.46,94.06 232.81,89.12 233.15,83.63 233.50,77.52 233.84,70.74 234.19,63.23 234.53,54.94 234.88,54.23 235.23,54.23 235.57,54.23 235.92,54.23 236.26,54.23 236.61,54.23 236.96,54.23 237.30,54.23 237.65,54.23 237.99,54.23 238.34,54.23 238.69,54.23 239.03,54.23 239.38,54.23 239.72,54.23 240.07,54.23 240.41,54.23 240.76,54.23 241.11,54.23 241.45,54.23 241.80,54.23 242.14,54.23 242.49,54.23 242.84,54.23 243.18,56.87 243.53,66.63 243.87,75.70 244.22,84.11 244.57,91.90 244.91,99.10 245.26,105.75 245.60,111.88 245.95,117.53 246.30,122.74 246.64,127.54 246.99,131.97 247.33,136.05 247.68,139.82 248.02,143.31 248.37,146.54 248.72,149.54 249.06,152.33 249.41,154.94 249.75,157.39 250.10,159.69 250.45,161.86 250.79,163.93 251.14,165.91 251.48,167.81 251.83,169.65 252.18,171.44 252.52,173.19 252.87,174.92 253.21,176.64 253.56,178.36 253.90,180.10 254.25,181.85 254.60,183.64 254.94,185.48 255.29,187.37 255.63,189.33 255.98,191.37 256.33,193.49 256.67,195.72"/><polyline fill="none" stroke="#2177cb" stroke-width="1.00" stroke-linejoin="round" points="49.48,206.15 49.83,206.15 50.17,206.15 50.52,206.15 50.86,206.14 51.21,206.14 51.56,206.14 51.90,206.14 52.25,206.13 52.59,206.13 52.94,206.13 53.28,206.12 53.63,206.12 53.98,206.12 54.32,206.12 54.67,206.11 55.01,206.11 55.36,206.11 55.71,206.10 56.05,206.10 56.40,206.10 56.74,206.09 57.09,206.09 57.44,206.08 57.78,206.08 58.13,206.08 58.47,206.07 58.82,206.07 59.17,206.06 59.51,206.06 59.86,206.05 60.20,206.05 60.55,206.04 60.89,206.04 61.24,206.03 61.59,206.03 61.93,206.02 62.28,206.01 62.62,206.01 62.97,206.00 63.32,206.00 63.66,205.99 64.01,205.98 64.35,205.97 64.70,205.97 65.05,205.96 65.39,205.95 65.74,205.94 66.08,205.93 66.43,205.93 66.77,205.92 67.12,205.91 67.47,205.90 67.81,205.89 68.16,205.88 68.50,205.87 68.85,205.86 69.20,205.85 69.54,205.84 69.89,205.82 70.23,205.81 70.58,205.80 70.93,205.79 71.27,205.77 71.62,205.76 71.96,205.75 72.31,205.73 72.66,205.72 73.00,205.70 73.35,205.69 73.69,205.67 74.04,205.66 74.38,205.64 74.73,205.62 75.08,205.61 75.42,205.59 75.77,205.57 76.11,205.55 76.46,205.53 76.81,205.51 77.15,205.49 77.50,205.47 77.84,205.45 78.19,205.43 78.54,205.40 78.88,205.38 79.23,205.36 79.57,205.33 79.92,205.30 80.26,205.28 80.61,205.25 80.96,205.22 81.30,205.20 81.65,205.17 81.99,205.14 82.34,205.11 82.69,205.08 83.03,205.05 83.38,205.01 83.72,204.98 84.07,204.94 84.42,204.91 84.76,204.87 85.11,204.84 85.45,204.80 85.80,204.76 86.15,204.72 86.49,204.68 86.84,204.64 87.18,204.59 87.53,204.55 87.87,204.51 88.22,204.46 88.57,204.41 88.91,204.37 89.26,204.32 89.60,204.27 89.95,204.21 90.30,204.16 90.64,204.11 90.99,204.05 91.33,204.00 91.68,203.94 92.03,203.88 92.37,203.82 92.72,203.76 93.06,203.69 93.41,203.63 93.75,203.56 94.10,203.50 94.45,203.43 94.79,203.36 95.14,203.28 95.48,203.21 95.83,203.14 96.18,203.06 96.52,202.98 96.87,202.90 97.21,202.82 97.56,202.74 97.91,202.65 98.25,202.56 98.60,202.47 98.94,202.38 99.29,202.29 99.63,202.20 99.98,202.10 100.33,202.00 100.67,201.90 101.02,201.80 101.36,201.69 101.71,201.59 102.06,201.48 102.40,201.37 102.75,201.25 103.09,201.14 103.44,201.02 103.79,200.90 104.13,200.78 104.48,200.65 104.82,200.53 105.17,200.40 105.52,200.27 105.86,200.13 106.21,200.00 106.55,199.86 106.90,199.71 107.24,199.57 107.59,199.42 107.94,199.27 108.28,199.12 108.63,198.96 108.97,198.81 109.32,198.65 109.67,198.48 110.01,198.32 110.36,198.15 110.70,197.97 111.05,197.80 111.40,197.62 111.74,197.44 112.09,197.25 112.43,197.07 112.78,196.87 113.12,196.68 113.47,196.48 113.82,196.28 114.16,196.08 114.51,195.87 114.85,195.66 115.20,195.45 115.55,195.23 115.89,195.01 116.24,194.79 116.58,194.56 116.93,194.33 117.28,194.09 117.62,193.85 117.97,193.61 118.31,193.37 118.66,193.12 119.01,192.86 119.35,192.61 119.70,192.35 120.04,192.08 120.39,191.81 120.73,191.54 121.08,191.27 121.43,190.99 121.77,190.70 122.12,190.41 122.46,190.12 122.81,189.83 123.16,189.53 123.50,189.22 123.85,188.92 124.19,188.60 124.54,188.29 124.89,187.97 125.23,187.64 125.58,187.32 125.92,186.98 126.27,186.65 126.61,186.30 126.96,185.96 127.31,185.61 127.65,185.26 128.00,184.90 128.34,184.54 128.69,184.17 129.04,183.80 129.38,183.42 129.73,183.04 130.07,182.66 130.42,182.27 130.77,181.88 131.11,181.48 131.46,181.08 131.80,180.67 132.15,180.26 132.50,179.85 132.84,179.43 133.19,179.01 133.53,178.58 133.88,178.15 134.22,177.71 134.57,177.27 134.92,176.82 135.26,176.37 135.61,175.92 135.95,175.46 136.30,175.00 136.65,174.53 136.99,174.06 137.34,173.59 137.68,173.11 138.03,172.63 138.38,172.14 138.72,171.65 139.07,171.15 139.41,170.65 139.76,170.15 140.10,169.64 140.45,169.13 140.80,168.61 141.14,168.09 141.49,167.56 141.83,167.04 142.18,166.50 142.53,165.97 142.87,165.43 143.22,164.89 143.56,164.34 143.91,163.79 144.26,163.23 144.60,162.67 144.95,162.11 145.29,161.55 145.64,160.98 145.99,160.41 146.33,159.83 146.68,159.25 147.02,158.67 147.37,158.09 147.71,157.50 148.06,156.91 148.41,156.31 148.75,155.72 149.10,155.12 149.44,154.52 149.79,153.91 150.14,153.30 150.48,152.69 150.83,152.08 151.17,151.46 151.52,150.85 151.87,150.23 152.21,149.61 152.56,148.98 152.90,148.35 153.25,147.73 153.59,147.10 153.94,146.47 154.29,145.83 154.63,145.20 154.98,144.56 155.32,143.92 155.67,143.28 156.02,142.64 156.36,142.00 156.71,141.36 157.05,140.72 157.40,140.07 157.75,139.43 158.09,138.78 158.44,138.13 158.78,137.49 159.13,136.84 159.48,136.19 159.82,135.55 160.17,134.90 160.51,134.25 160.86,133.60 161.20,132.96 161.55,132.31 161.90,131.67 162.24,131.02 162.59,130.38 162.93,129.73 163.28,129.09 163.63,128.45 163.97,127.81 164.32,127.17 164.66,126.53 165.01,125.90 165.36,125.26 165.70,124.63 166.05,124.00 166.39,123.37 166.74,122.75 167.08,122.12 167.43,121.50 167.78,120.88 168.12,120.27 168.47,119.66 168.81,119.04 169.16,118.44 169.51,117.83 169.85,117.23 170.20,116.64 170.54,116.04 170.89,115.45 171.24,114.87 171.58,114.28 171.93,113.70 172.27,113.13 172.62,112.56 172.97,111.99 173.31,111.43 173.66,110.88 174.00,110.32 174.35,109.78 174.69,109.23 175.04,108.70 175.39,108.17 175.73,107.64 176.08,107.12 176.42,106.60 176.77,106.09 177.12,105.59 177.46,105.09 177.81,104.60 178.15,104.11 178.50,103.63 178.85,103.16 179.19,102.69 179.54,102.23 179.88,101.78 180.23,101.33 180.57,100.89 180.92,100.45 181.27,100.03 181.61,99.61 181.96,99.20 182.30,98.79 182.65,98.39 183.00,98.00 183.34,97.62 183.69,97.25 184.03,96.88 184.38,96.52 184.73,96.17 185.07,95.82 185.42,95.49 185.76,95.16 186.11,94.84 186.46,94.53 186.80,94.23 187.15,93.94 187.49,93.65 187.84,93.38 188.18,93.11 188.53,92.85 188.88,92.60 189.22,92.36 189.57,92.13 189.91,91.90 190.26,91.69 190.61,91.48 190.95,91.28 191.30,91.10 191.64,90.92 191.99,90.75 192.34,90.59 192.68,90.44 193.03,90.30 193.37,90.17 193.72,90.04 194.06,89.93 194.41,89.83 194.76,89.73 195.10,89.65 195.45,89.57 195.79,89.50 196.14,89.45 196.49,89.40 196.83,89.36 197.18,89.33 197.52,89.31 197.87,89.30 198.22,89.30 198.56,89.31 198.91,89.33 199.25,89.36 199.60,89.40 199.94,89.45 200.29,89.51 200.64,89.58 200.98,89.66 201.33,89.75 201.67,89.85 202.02,89.96 202.37,90.09 202.71,90.22 203.06,90.36 203.40,90.51 203.75,90.68 204.10,90.85 204.44,91.03 204.79,91.23 205.13,91.43 205.48,91.64 205.83,91.87 206.17,92.10 206.52,92.34 206.86,92.60 207.21,92.86 207.55,93.13 207.90,93.41 208.25,93.71 208.59,94.01 208.94,94.32 209.28,94.64 209.63,94.96 209.98,95.30 210.32,95.65 210.67,96.00 211.01,96.37 211.36,96.74 211.71,97.12 212.05,97.52 212.40,97.92 212.74,98.33 213.09,98.75 213.43,99.18 213.78,99.62 214.13,100.07 214.47,100.53 214.82,101.00 215.16,101.49 215.51,102.00 215.86,102.52 216.20,103.07 216.55,103.64 216.89,104.23 217.24,104.86 217.59,105.52"/><polyline fill="none" stroke="#2177cb" stroke-width="0.55" stroke-linejoin="round" points="217.59,105.52 217.93,106.21 218.28,106.95 218.62,107.73 218.97,108.55 219.32,109.43 219.66,110.36 220.01,111.34 220.35,112.37 220.70,113.44 221.04,114.56 221.39,115.71 221.74,116.89 222.08,118.09 222.43,119.28 222.77,120.46 223.12,121.61 223.47,122.71 223.81,123.74 224.16,124.70 224.50,125.55 224.85,126.28 225.20,126.89 225.54,127.35 225.89,127.67 226.23,127.82 226.58,127.81 226.92,127.63 227.27,127.28 227.62,126.77 227.96,126.09 228.31,125.24 228.65,124.23 229.00,123.05 229.35,121.70 229.69,120.17 230.04,118.45 230.38,116.53 230.73,114.38 231.08,112.00 231.42,109.33 231.77,106.37 232.11,103.05 232.46,99.35 232.81,95.22 233.15,90.60 233.50,85.44 233.84,79.69 234.19,73.28 234.53,66.16 234.88,58.26 235.23,54.23 235.57,54.23 235.92,54.23 236.26,54.23 236.61,54.23 236.96,54.23 237.30,54.23 237.65,54.23 237.99,54.23 238.34,54.23 238.69,54.23 239.03,54.23 239.38,54.23 239.72,54.23 240.07,54.23 240.41,54.23 240.76,54.23 241.11,54.23 241.45,54.23 241.80,54.23 242.14,54.23 242.49,54.23 242.84,59.41 243.18,68.74 243.53,77.41 243.87,85.44 244.22,92.87 244.57,99.73 244.91,106.07 245.26,111.92 245.60,117.31 245.95,122.28 246.30,126.87 246.64,131.10 246.99,135.01 247.33,138.63 247.68,141.98 248.02,145.09 248.37,147.98 248.72,150.67 249.06,153.19 249.41,155.56 249.75,157.79 250.10,159.91 250.45,161.92 250.79,163.84 251.14,165.69 251.48,167.48 251.83,169.22 252.18,170.93 252.52,172.62 252.87,174.29 253.21,175.95 253.56,177.63 253.90,179.33 254.25,181.05 254.60,182.81 254.94,184.62 255.29,186.50 255.63,188.44 255.98,190.46 256.33,192.57 256.67,194.79"/><polyline fill="none" stroke="#2170ce" stroke-width="1.00" stroke-linejoin="round" points="49.48,206.16 49.83,206.16 50.17,206.16 50.52,206.16 50.86,206.16 51.21,206.15 51.56,206.15 51.90,206.15 52.25,206.15 52.59,206.15 52.94,206.14 53.28,206.14 53.63,206.14 53.98,206.14 54.32,206.13 54.67,206.13 55.01,206.13 55.36,206.13 55.71,206.12 56.05,206.12 56.40,206.12 56.74,206.11 57.09,206.11 57.44,206.11 57.78,206.10 58.13,206.10 58.47,206.10 58.82,206.09 59.17,206.09 59.51,206.09 59.86,206.08 60.20,206.08 60.55,206.07 60.89,206.07 61.24,206.07 61.59,206.06 61.93,206.06 62.28,206.05 62.62,206.05 62.97,206.04 63.32,206.04 63.66,206.03 64.01,206.02 64.35,206.02 64.70,206.01 65.05,206.01 65.39,206.00 65.74,205.99 66.08,205.98 66.43,205.98 66.77,205.97 67.12,205.96 67.47,205.95 67.81,205.95 68.16,205.94 68.50,205.93 68.85,205.92 69.20,205.91 69.54,205.90 69.89,205.89 70.23,205.88 70.58,205.87 70.93,205.86 71.27,205.85 71.62,205.84 71.96,205.83 72.31,205.82 72.66,205.80 73.00,205.79 73.35,205.78 73.69,205.77 74.04,205.75 74.38,205.74 74.73,205.72 75.08,205.71 75.42,205.69 75.77,205.68 76.11,205.66 76.46,205.64 76.81,205.63 77.15,205.61 77.50,205.59 77.84,205.57 78.19,205.55 78.54,205.53 78.88,205.51 79.23,205.49 79.57,205.47 79.92,205.45 80.26,205.43 80.61,205.41 80.96,205.38 81.30,205.36 81.65,205.33 81.99,205.31 82.34,205.28 82.69,205.25 83.03,205.23 83.38,205.20 83.72,205.17 84.07,205.14 84.42,205.11 84.76,205.08 85.11,205.04 85.45,205.01 85.80,204.98 86.15,204.94 86.49,204.91 86.84,204.87 87.18,204.83 87.53,204.80 87.87,204.76 88.22,204.72 88.57,204.68 88.91,204.63 89.26,204.59 89.60,204.55 89.95,204.50 90.30,204.45 90.64,204.41 90.99,204.36 91.33,204.31 91.68,204.26 92.03,204.20 92.37,204.15 92.72,204.10 93.06,204.04 93.41,203.98 93.75,203.93 94.10,203.87 94.45,203.80 94.79,203.74 95.14,203.68 95.48,203.61 95.83,203.54 96.18,203.48 96.52,203.41 96.87,203.33 97.21,203.26 97.56,203.19 97.91,203.11 98.25,203.03 98.60,202.95 98.94,202.87 99.29,202.79 99.63,202.70 99.98,202.62 100.33,202.53 100.67,202.44 101.02,202.34 101.36,202.25 101.71,202.15 102.06,202.06 102.40,201.96 102.75,201.85 103.09,201.75 103.44,201.64 103.79,201.53 104.13,201.42 104.48,201.31 104.82,201.19 105.17,201.08 105.52,200.96 105.86,200.83 106.21,200.71 106.55,200.58 106.90,200.45 107.24,200.32 107.59,200.19 107.94,200.05 108.28,199.91 108.63,199.77 108.97,199.62 109.32,199.48 109.67,199.33 110.01,199.17 110.36,199.02 110.70,198.86 111.05,198.70 111.40,198.53 111.74,198.36 112.09,198.19 112.43,198.02 112.78,197.84 113.12,197.67 113.47,197.48 113.82,197.30 114.16,197.11 114.51,196.92 114.85,196.72 115.20,196.52 115.55,196.32 115.89,196.12 116.24,195.91 116.58,195.70 116.93,195.48 117.28,195.26 117.62,195.04 117.97,194.81 118.31,194.58 118.66,194.35 119.01,194.11 119.35,193.87 119.70,193.63 120.04,193.38 120.39,193.13 120.73,192.88 121.08,192.62 121.43,192.35 121.77,192.09 122.12,191.82 122.46,191.54 122.81,191.26 123.16,190.98 123.50,190.69 123.85,190.40 124.19,190.11 124.54,189.81 124.89,189.51 125.23,189.20 125.58,188.89 125.92,188.57 126.27,188.25 126.61,187.93 126.96,187.60 127.31,187.27 127.65,186.93 128.00,186.59 128.34,186.25 128.69,185.90 129.04,185.54 129.38,185.19 129.73,184.82 130.07,184.46 130.42,184.09 130.77,183.71 131.11,183.33 131.46,182.95 131.80,182.56 132.15,182.16 132.50,181.77 132.84,181.36 133.19,180.96 133.53,180.55 133.88,180.13 134.22,179.71 134.57,179.29 134.92,178.86 135.26,178.42 135.61,177.98 135.95,177.54 136.30,177.10 136.65,176.64 136.99,176.19 137.34,175.73 137.68,175.26 138.03,174.80 138.38,174.32 138.72,173.85 139.07,173.36 139.41,172.88 139.76,172.39 140.10,171.89 140.45,171.39 140.80,170.89 141.14,170.38 141.49,169.87 141.83,169.36 142.18,168.84 142.53,168.31 142.87,167.78 143.22,167.25 143.56,166.72 143.91,166.18 144.26,165.63 144.60,165.08 144.95,164.53 145.29,163.98 145.64,163.42 145.99,162.86 146.33,162.29 146.68,161.72 147.02,161.15 147.37,160.57 147.71,159.99 148.06,159.41 148.41,158.82 148.75,158.23 149.10,157.64 149.44,157.04 149.79,156.44 150.14,155.84 150.48,155.23 150.83,154.63 151.17,154.01 151.52,153.40 151.87,152.78 152.21,152.17 152.56,151.54 152.90,150.92 153.25,150.29 153.59,149.67 153.94,149.03 154.29,148.40 154.63,147.77 154.98,147.13 155.32,146.49 155.67,145.85 156.02,145.21 156.36,144.57 156.71,143.92 157.05,143.28 157.40,142.63 157.75,141.98 158.09,141.33 158.44,140.68 158.78,140.03 159.13,139.38 159.48,138.73 159.82,138.07 160.17,137.42 160.51,136.76 160.86,136.11 161.20,135.46 161.55,134.80 161.90,134.15 162.24,133.49 162.59,132.84 162.93,132.19 163.28,131.53 163.63,130.88 163.97,130.23 164.32,129.58 164.66,128.93 165.01,128.28 165.36,127.64 165.70,126.99 166.05,126.35 166.39,125.70 166.74,125.06 167.08,124.43 167.43,123.79 167.78,123.16 168.12,122.52 168.47,121.89 168.81,121.27 169.16,120.64 169.51,120.02 169.85,119.40 170.20,118.78 170.54,118.17 170.89,117.56 171.24,116.96 171.58,116.35 171.93,115.76 172.27,115.16 172.62,114.57 172.97,113.98 173.31,113.40 173.66,112.82 174.00,112.25 174.35,111.68 174.69,111.11 175.04,110.55 175.39,109.99 175.73,109.44 176.08,108.90 176.42,108.36 176.77,107.82 177.12,107.29 177.46,106.77 177.81,106.25 178.15,105.74 178.50,105.23 178.85,104.73 179.19,104.24 179.54,103.75 179.88,103.27 180.23,102.80 180.57,102.33 180.92,101.87 181.27,101.41 181.61,100.97 181.96,100.53 182.30,100.09 182.65,99.67 183.00,99.25 183.34,98.84 183.69,98.44 184.03,98.04 184.38,97.65 184.73,97.27 185.07,96.90 185.42,96.54 185.76,96.18 186.11,95.83 186.46,95.49 186.80,95.16 187.15,94.84 187.49,94.52 187.84,94.22 188.18,93.92 188.53,93.63 188.88,93.35 189.22,93.08 189.57,92.82 189.91,92.57 190.26,92.33 190.61,92.09 190.95,91.87 191.30,91.65 191.64,91.44 191.99,91.25 192.34,91.06 192.68,90.88 193.03,90.71 193.37,90.55 193.72,90.40 194.06,90.26 194.41,90.13 194.76,90.01 195.10,89.89 195.45,89.79 195.79,89.70 196.14,89.62 196.49,89.54 196.83,89.48 197.18,89.42 197.52,89.38 197.87,89.35 198.22,89.32 198.56,89.31 198.91,89.30 199.25,89.30 199.60,89.32 199.94,89.34 200.29,89.38 200.64,89.43 200.98,89.48 201.33,89.55 201.67,89.63 202.02,89.71 202.37,89.81 202.71,89.92 203.06,90.04 203.40,90.17 203.75,90.31 204.10,90.46 204.44,90.63 204.79,90.80 205.13,90.98 205.48,91.17 205.83,91.37 206.17,91.59 206.52,91.81 206.86,92.04 207.21,92.29 207.55,92.54 207.90,92.80 208.25,93.07 208.59,93.36 208.94,93.65 209.28,93.95 209.63,94.26 209.98,94.58 210.32,94.91 210.67,95.25 211.01,95.60 211.36,95.95 211.71,96.32 212.05,96.70 212.40,97.08 212.74,97.48 213.09,97.88 213.43,98.30 213.78,98.72 214.13,99.16 214.47,99.61 214.82,100.07 215.16,100.55 215.51,101.05 215.86,101.56 216.20,102.09 216.55,102.65 216.89,103.24 217.24,103.86 217.59,104.51"/><polyline fill="none" stroke="#2170ce" stroke-width="0.55" stroke-linejoin="round" points="217.59,104.51 217.93,105.20 218.28,105.93 218.62,106.70 218.97,107.53 219.32,108.40 219.66,109.33 220.01,110.31 220.35,111.35 220.70,112.43 221.04,113.56 221.39,114.72 221.74,115.91 222.08,117.12 222.43,118.34 222.77,119.54 223.12,120.72 223.47,121.86 223.81,122.94 224.16,123.94 224.50,124.85 224.85,125.65 225.20,126.33 225.54,126.88 225.89,127.28 226.23,127.55 226.58,127.66 226.92,127.63 227.27,127.44 227.62,127.11 227.96,126.64 228.31,126.04 228.65,125.29 229.00,124.42 229.35,123.41 229.69,122.27 230.04,120.99 230.38,119.56 230.73,117.96 231.08,116.18 231.42,114.19 231.77,111.97 232.11,109.48 232.46,106.69 232.81,103.55 233.15,100.01 233.50,96.02 233.84,91.52 234.19,86.47 234.53,80.78 234.88,74.39 235.23,67.24 235.57,59.27 235.92,54.23 236.26,54.23 236.61,54.23 236.96,54.23 237.30,54.23 237.65,54.23 237.99,54.23 238.34,54.23 238.69,54.23 239.03,54.23 239.38,54.23 239.72,54.23 240.07,54.23 240.41,54.23 240.76,54.23 241.11,54.23 241.45,54.23 241.80,54.23 242.14,57.95 242.49,67.22 242.84,75.81 243.18,83.75 243.53,91.09 243.87,97.85 244.22,104.09 244.57,109.83 244.91,115.12 245.26,119.99 245.60,124.48 245.95,128.62 246.30,132.44 246.64,135.97 246.99,139.24 247.33,142.26 247.68,145.08 248.02,147.70 248.37,150.15 248.72,152.44 249.06,154.60 249.41,156.64 249.75,158.58 250.10,160.42 250.45,162.19 250.79,163.89 251.14,165.54 251.48,167.15 251.83,168.72 252.18,170.27 252.52,171.81 252.87,173.35 253.21,174.89 253.56,176.45 253.90,178.03 254.25,179.64 254.60,181.29 254.94,182.99 255.29,184.75 255.63,186.58 255.98,188.48 256.33,190.47 256.67,192.56"/><polyline fill="none" stroke="#2169d2" stroke-width="1.00" stroke-linejoin="round" points="49.48,206.17 49.83,206.17 50.17,206.17 50.52,206.16 50.86,206.16 51.21,206.16 51.56,206.16 51.90,206.16 52.25,206.16 52.59,206.15 52.94,206.15 53.28,206.15 53.63,206.15 53.98,206.15 54.32,206.14 54.67,206.14 55.01,206.14 55.36,206.14 55.71,206.14 56.05,206.13 56.40,206.13 56.74,206.13 57.09,206.12 57.44,206.12 57.78,206.12 58.13,206.12 58.47,206.11 58.82,206.11 59.17,206.11 59.51,206.10 59.86,206.10 60.20,206.10 60.55,206.09 60.89,206.09 61.24,206.09 61.59,206.08 61.93,206.08 62.28,206.07 62.62,206.07 62.97,206.06 63.32,206.06 63.66,206.05 64.01,206.05 64.35,206.04 64.70,206.04 65.05,206.03 65.39,206.03 65.74,206.02 66.08,206.01 66.43,206.01 66.77,206.00 67.12,206.00 67.47,205.99 67.81,205.98 68.16,205.97 68.50,205.97 68.85,205.96 69.20,205.95 69.54,205.94 69.89,205.93 70.23,205.92 70.58,205.92 70.93,205.91 71.27,205.90 71.62,205.89 71.96,205.88 72.31,205.87 72.66,205.86 73.00,205.84 73.35,205.83 73.69,205.82 74.04,205.81 74.38,205.80 74.73,205.78 75.08,205.77 75.42,205.76 75.77,205.74 76.11,205.73 76.46,205.71 76.81,205.70 77.15,205.68 77.50,205.67 77.84,205.65 78.19,205.63 78.54,205.61 78.88,205.60 79.23,205.58 79.57,205.56 79.92,205.54 80.26,205.52 80.61,205.50 80.96,205.48 81.30,205.46 81.65,205.43 81.99,205.41 82.34,205.39 82.69,205.36 83.03,205.34 83.38,205.31 83.72,205.29 84.07,205.26 84.42,205.23 84.76,205.20 85.11,205.17 85.45,205.14 85.80,205.11 86.15,205.08 86.49,205.05 86.84,205.02 87.18,204.98 87.53,204.95 87.87,204.91 88.22,204.88 88.57,204.84 88.91,204.80 89.26,204.76 89.60,204.72 89.95,204.68 90.30,204.64 90.64,204.59 90.99,204.55 91.33,204.50 91.68,204.46 92.03,204.41 92.37,204.36 92.72,204.31 93.06,204.26 93.41,204.21 93.75,204.15 94.10,204.10 94.45,204.04 94.79,203.98 95.14,203.92 95.48,203.86 95.83,203.80 96.18,203.74 96.52,203.67 96.87,203.61 97.21,203.54 97.56,203.47 97.91,203.40 98.25,203.33 98.60,203.25 98.94,203.18 99.29,203.10 99.63,203.02 99.98,202.94 100.33,202.86 100.67,202.78 101.02,202.69 101.36,202.60 101.71,202.51 102.06,202.42 102.40,202.33 102.75,202.23 103.09,202.14 103.44,202.04 103.79,201.94 104.13,201.83 104.48,201.73 104.82,201.62 105.17,201.51 105.52,201.40 105.86,201.28 106.21,201.17 106.55,201.05 106.90,200.93 107.24,200.80 107.59,200.68 107.94,200.55 108.28,200.42 108.63,200.28 108.97,200.15 109.32,200.01 109.67,199.87 110.01,199.72 110.36,199.58 110.70,199.43 111.05,199.28 111.40,199.12 111.74,198.96 112.09,198.80 112.43,198.64 112.78,198.47 113.12,198.30 113.47,198.13 113.82,197.96 114.16,197.78 114.51,197.60 114.85,197.41 115.20,197.22 115.55,197.03 115.89,196.84 116.24,196.64 116.58,196.44 116.93,196.23 117.28,196.03 117.62,195.81 117.97,195.60 118.31,195.38 118.66,195.16 119.01,194.93 119.35,194.70 119.70,194.47 120.04,194.24 120.39,194.00 120.73,193.75 121.08,193.50 121.43,193.25 121.77,193.00 122.12,192.74 122.46,192.48 122.81,192.21 123.16,191.94 123.50,191.66 123.85,191.39 124.19,191.10 124.54,190.82 124.89,190.52 125.23,190.23 125.58,189.93 125.92,189.63 126.27,189.32 126.61,189.01 126.96,188.69 127.31,188.37 127.65,188.05 128.00,187.72 128.34,187.39 128.69,187.05 129.04,186.71 129.38,186.36 129.73,186.01 130.07,185.66 130.42,185.30 130.77,184.93 131.11,184.57 131.46,184.19 131.80,183.82 132.15,183.43 132.50,183.05 132.84,182.66 133.19,182.26 133.53,181.86 133.88,181.46 134.22,181.05 134.57,180.64 134.92,180.22 135.26,179.80 135.61,179.37 135.95,178.94 136.30,178.51 136.65,178.07 136.99,177.62 137.34,177.17 137.68,176.72 138.03,176.26 138.38,175.80 138.72,175.33 139.07,174.86 139.41,174.38 139.76,173.90 140.10,173.42 140.45,172.93 140.80,172.44 141.14,171.94 141.49,171.44 141.83,170.93 142.18,170.42 142.53,169.91 142.87,169.39 143.22,168.86 143.56,168.34 143.91,167.80 144.26,167.27 144.60,166.73 144.95,166.19 145.29,165.64 145.64,165.09 145.99,164.53 146.33,163.97 146.68,163.41 147.02,162.84 147.37,162.27 147.71,161.70 148.06,161.12 148.41,160.54 148.75,159.95 149.10,159.37 149.44,158.78 149.79,158.18 150.14,157.58 150.48,156.98 150.83,156.38 151.17,155.77 151.52,155.16 151.87,154.55 152.21,153.93 152.56,153.31 152.90,152.69 153.25,152.07 153.59,151.44 153.94,150.81 154.29,150.18 154.63,149.55 154.98,148.91 155.32,148.28 155.67,147.64 156.02,146.99 156.36,146.35 156.71,145.71 157.05,145.06 157.40,144.41 157.75,143.76 158.09,143.11 158.44,142.46 158.78,141.80 159.13,141.15 159.48,140.49 159.82,139.84 160.17,139.18 160.51,138.52 160.86,137.86 161.20,137.21 161.55,136.55 161.90,135.89 162.24,135.23 162.59,134.57 162.93,133.91 163.28,133.25 163.63,132.59 163.97,131.93 164.32,131.28 164.66,130.62 165.01,129.96 165.36,129.31 165.70,128.66 166.05,128.00 166.39,127.35 166.74,126.70 167.08,126.05 167.43,125.41 167.78,124.76 168.12,124.12 168.47,123.48 168.81,122.84 169.16,122.21 169.51,121.57 169.85,120.94 170.20,120.31 170.54,119.69 170.89,119.07 171.24,118.45 171.58,117.83 171.93,117.22 172.27,116.61 172.62,116.01 172.97,115.40 173.31,114.81 173.66,114.21 174.00,113.62 174.35,113.04 174.69,112.46 175.04,111.88 175.39,111.31 175.73,110.74 176.08,110.18 176.42,109.63 176.77,109.07 177.12,108.53 177.46,107.99 177.81,107.45 178.15,106.92 178.50,106.40 178.85,105.88 179.19,105.37 179.54,104.86 179.88,104.36 180.23,103.87 180.57,103.38 180.92,102.90 181.27,102.43 181.61,101.96 181.96,101.50 182.30,101.05 182.65,100.61 183.00,100.17 183.34,99.74 183.69,99.31 184.03,98.90 184.38,98.49 184.73,98.09 185.07,97.70 185.42,97.31 185.76,96.94 186.11,96.57 186.46,96.21 186.80,95.86 187.15,95.51 187.49,95.18 187.84,94.85 188.18,94.54 188.53,94.23 188.88,93.93 189.22,93.64 189.57,93.35 189.91,93.08 190.26,92.82 190.61,92.56 190.95,92.32 191.30,92.08 191.64,91.85 191.99,91.64 192.34,91.43 192.68,91.23 193.03,91.04 193.37,90.86 193.72,90.69 194.06,90.53 194.41,90.38 194.76,90.24 195.10,90.11 195.45,89.99 195.79,89.88 196.14,89.77 196.49,89.68 196.83,89.60 197.18,89.53 197.52,89.47 197.87,89.41 198.22,89.37 198.56,89.34 198.91,89.32 199.25,89.30 199.60,89.30 199.94,89.31 200.29,89.33 200.64,89.35 200.98,89.39 201.33,89.44 201.67,89.50 202.02,89.58 202.37,89.66 202.71,89.75 203.06,89.85 203.40,89.97 203.75,90.09 204.10,90.23 204.44,90.37 204.79,90.53 205.13,90.70 205.48,90.87 205.83,91.06 206.17,91.26 206.52,91.47 206.86,91.68 207.21,91.91 207.55,92.15 207.90,92.40 208.25,92.66 208.59,92.93 208.94,93.20 209.28,93.49 209.63,93.79 209.98,94.10 210.32,94.41 210.67,94.74 211.01,95.08 211.36,95.42 211.71,95.78 212.05,96.14 212.40,96.51 212.74,96.90 213.09,97.29 213.43,97.70 213.78,98.11 214.13,98.54 214.47,98.97 214.82,99.42 215.16,99.89 215.51,100.37 215.86,100.87 216.20,101.38 216.55,101.92 216.89,102.48 217.24,103.08 217.59,103.70"/><polyline fill="none" stroke="#2169d2" stroke-width="0.55" stroke-linejoin="round" points="217.59,103.70 217.93,104.35 218.28,105.04 218.62,105.78 218.97,106.55 219.32,107.37 219.66,108.24 220.01,109.15 220.35,110.11 220.70,111.12 221.04,112.16 221.39,113.23 221.74,114.34 222.08,115.46 222.43,116.58 222.77,117.70 223.12,118.80 223.47,119.87 223.81,120.89 224.16,121.84 224.50,122.73 224.85,123.52 225.20,124.21 225.54,124.80 225.89,125.27 226.23,125.62 226.58,125.85 226.92,125.97 227.27,125.96 227.62,125.84 227.96,125.60 228.31,125.26 228.65,124.82 229.00,124.27 229.35,123.63 229.69,122.89 230.04,122.04 230.38,121.08 230.73,120.01 231.08,118.79 231.42,117.43 231.77,115.88 232.11,114.14 232.46,112.15 232.81,109.89 233.15,107.32 233.50,104.38 233.84,101.03 234.19,97.21 234.53,92.85 234.88,87.90 235.23,82.28 235.57,75.91 235.92,68.72 236.26,60.63 236.61,54.23 236.96,54.23 237.30,54.23 237.65,54.23 237.99,54.23 238.34,54.23 238.69,54.23 239.03,54.23 239.38,54.23 239.72,54.23 240.07,54.23 240.41,54.23 240.76,54.23 241.11,54.23 241.45,57.04 241.80,66.18 242.14,74.63 242.49,82.42 242.84,89.60 243.18,96.21 243.53,102.30 243.87,107.90 244.22,113.05 244.57,117.80 244.91,122.17 245.26,126.19 245.60,129.91 245.95,133.34 246.30,136.52 246.64,139.46 246.99,142.20 247.33,144.74 247.68,147.12 248.02,149.34 248.37,151.43 248.72,153.41 249.06,155.27 249.41,157.04 249.75,158.73 250.10,160.35 250.45,161.91 250.79,163.43 251.14,164.90 251.48,166.34 251.83,167.76 252.18,169.16 252.52,170.55 252.87,171.95 253.21,173.35 253.56,174.77 253.90,176.20 254.25,177.67 254.60,179.17 254.94,180.71 255.29,182.31 255.63,183.96 255.98,185.68 256.33,187.48 256.67,189.36"/><polyline fill="none" stroke="#2162d5" stroke-width="1.00" stroke-linejoin="round" points="49.48,206.17 49.83,206.17 50.17,206.17 50.52,206.17 50.86,206.17 51.21,206.17 51.56,206.16 51.90,206.16 52.25,206.16 52.59,206.16 52.94,206.16 53.28,206.16 53.63,206.15 53.98,206.15 54.32,206.15 54.67,206.15 55.01,206.15 55.36,206.14 55.71,206.14 56.05,206.14 56.40,206.14 56.74,206.14 57.09,206.13 57.44,206.13 57.78,206.13 58.13,206.13 58.47,206.12 58.82,206.12 59.17,206.12 59.51,206.11 59.86,206.11 60.20,206.11 60.55,206.10 60.89,206.10 61.24,206.10 61.59,206.09 61.93,206.09 62.28,206.09 62.62,206.08 62.97,206.08 63.32,206.07 63.66,206.07 64.01,206.06 64.35,206.06 64.70,206.06 65.05,206.05 65.39,206.05 65.74,206.04 66.08,206.03 66.43,206.03 66.77,206.02 67.12,206.02 67.47,206.01 67.81,206.00 68.16,206.00 68.50,205.99 68.85,205.98 69.20,205.98 69.54,205.97 69.89,205.96 70.23,205.95 70.58,205.94 70.93,205.94 71.27,205.93 71.62,205.92 71.96,205.91 72.31,205.90 72.66,205.89 73.00,205.88 73.35,205.87 73.69,205.86 74.04,205.85 74.38,205.83 74.73,205.82 75.08,205.81 75.42,205.80 75.77,205.79 76.11,205.77 76.46,205.76 76.81,205.74 77.15,205.73 77.50,205.71 77.84,205.70 78.19,205.68 78.54,205.67 78.88,205.65 79.23,205.63 79.57,205.62 79.92,205.60 80.26,205.58 80.61,205.56 80.96,205.54 81.30,205.52 81.65,205.50 81.99,205.48 82.34,205.46 82.69,205.43 83.03,205.41 83.38,205.39 83.72,205.36 84.07,205.34 84.42,205.31 84.76,205.29 85.11,205.26 85.45,205.23 85.80,205.20 86.15,205.17 86.49,205.14 86.84,205.11 87.18,205.08 87.53,205.05 87.87,205.02 88.22,204.98 88.57,204.95 88.91,204.91 89.26,204.87 89.60,204.84 89.95,204.80 90.30,204.76 90.64,204.72 90.99,204.68 91.33,204.63 91.68,204.59 92.03,204.55 92.37,204.50 92.72,204.45 93.06,204.40 93.41,204.36 93.75,204.31 94.10,204.25 94.45,204.20 94.79,204.15 95.14,204.09 95.48,204.03 95.83,203.98 96.18,203.92 96.52,203.86 96.87,203.79 97.21,203.73 97.56,203.67 97.91,203.60 98.25,203.53 98.60,203.46 98.94,203.39 99.29,203.32 99.63,203.24 99.98,203.17 100.33,203.09 100.67,203.01 101.02,202.93 101.36,202.85 101.71,202.76 102.06,202.68 102.40,202.59 102.75,202.50 103.09,202.40 103.44,202.31 103.79,202.21 104.13,202.12 104.48,202.02 104.82,201.91 105.17,201.81 105.52,201.70 105.86,201.59 106.21,201.48 106.55,201.37 106.90,201.25 107.24,201.14 107.59,201.02 107.94,200.89 108.28,200.77 108.63,200.64 108.97,200.51 109.32,200.38 109.67,200.25 110.01,200.11 110.36,199.97 110.70,199.82 111.05,199.68 111.40,199.53 111.74,199.38 112.09,199.23 112.43,199.07 112.78,198.91 113.12,198.75 113.47,198.58 113.82,198.41 114.16,198.24 114.51,198.07 114.85,197.89 115.20,197.71 115.55,197.53 115.89,197.34 116.24,197.15 116.58,196.96 116.93,196.76 117.28,196.56 117.62,196.36 117.97,196.15 118.31,195.94 118.66,195.73 119.01,195.51 119.35,195.29 119.70,195.06 120.04,194.83 120.39,194.60 120.73,194.37 121.08,194.13 121.43,193.89 121.77,193.64 122.12,193.39 122.46,193.13 122.81,192.88 123.16,192.61 123.50,192.35 123.85,192.08 124.19,191.80 124.54,191.53 124.89,191.24 125.23,190.96 125.58,190.67 125.92,190.37 126.27,190.07 126.61,189.77 126.96,189.46 127.31,189.15 127.65,188.84 128.00,188.52 128.34,188.19 128.69,187.87 129.04,187.53 129.38,187.20 129.73,186.85 130.07,186.51 130.42,186.16 130.77,185.80 131.11,185.44 131.46,185.08 131.80,184.71 132.15,184.34 132.50,183.96 132.84,183.58 133.19,183.20 133.53,182.80 133.88,182.41 134.22,182.01 134.57,181.61 134.92,181.20 135.26,180.78 135.61,180.37 135.95,179.94 136.30,179.52 136.65,179.08 136.99,178.65 137.34,178.21 137.68,177.76 138.03,177.31 138.38,176.86 138.72,176.40 139.07,175.93 139.41,175.47 139.76,174.99 140.10,174.52 140.45,174.04 140.80,173.55 141.14,173.06 141.49,172.56 141.83,172.06 142.18,171.56 142.53,171.05 142.87,170.54 143.22,170.02 143.56,169.50 143.91,168.98 144.26,168.45 144.60,167.92 144.95,167.38 145.29,166.84 145.64,166.29 145.99,165.74 146.33,165.19 146.68,164.63 147.02,164.07 147.37,163.50 147.71,162.94 148.06,162.36 148.41,161.79 148.75,161.21 149.10,160.62 149.44,160.04 149.79,159.45 150.14,158.85 150.48,158.25 150.83,157.65 151.17,157.05 151.52,156.44 151.87,155.83 152.21,155.22 152.56,154.60 152.90,153.98 153.25,153.36 153.59,152.74 153.94,152.11 154.29,151.48 154.63,150.85 154.98,150.22 155.32,149.58 155.67,148.94 156.02,148.30 156.36,147.66 156.71,147.01 157.05,146.36 157.40,145.72 157.75,145.07 158.09,144.41 158.44,143.76 158.78,143.11 159.13,142.45 159.48,141.79 159.82,141.13 160.17,140.48 160.51,139.82 160.86,139.15 161.20,138.49 161.55,137.83 161.90,137.17 162.24,136.51 162.59,135.84 162.93,135.18 163.28,134.52 163.63,133.85 163.97,133.19 164.32,132.53 164.66,131.87 165.01,131.21 165.36,130.55 165.70,129.89 166.05,129.23 166.39,128.57 166.74,127.92 167.08,127.26 167.43,126.61 167.78,125.96 168.12,125.31 168.47,124.66 168.81,124.01 169.16,123.37 169.51,122.73 169.85,122.09 170.20,121.45 170.54,120.82 170.89,120.19 171.24,119.56 171.58,118.93 171.93,118.31 172.27,117.69 172.62,117.08 172.97,116.47 173.31,115.86 173.66,115.26 174.00,114.66 174.35,114.06 174.69,113.47 175.04,112.88 175.39,112.30 175.73,111.72 176.08,111.15 176.42,110.58 176.77,110.01 177.12,109.46 177.46,108.90 177.81,108.35 178.15,107.81 178.50,107.28 178.85,106.74 179.19,106.22 179.54,105.70 179.88,105.19 180.23,104.68 180.57,104.18 180.92,103.69 181.27,103.20 181.61,102.72 181.96,102.25 182.30,101.78 182.65,101.32 183.00,100.87 183.34,100.42 183.69,99.98 184.03,99.55 184.38,99.13 184.73,98.72 185.07,98.31 185.42,97.91 185.76,97.52 186.11,97.14 186.46,96.76 186.80,96.40 187.15,96.04 187.49,95.69 187.84,95.35 188.18,95.01 188.53,94.69 188.88,94.37 189.22,94.07 189.57,93.77 189.91,93.48 190.26,93.20 190.61,92.93 190.95,92.67 191.30,92.42 191.64,92.18 191.99,91.95 192.34,91.72 192.68,91.51 193.03,91.31 193.37,91.11 193.72,90.93 194.06,90.75 194.41,90.59 194.76,90.43 195.10,90.29 195.45,90.15 195.79,90.03 196.14,89.91 196.49,89.81 196.83,89.71 197.18,89.62 197.52,89.55 197.87,89.48 198.22,89.43 198.56,89.38 198.91,89.35 199.25,89.32 199.60,89.31 199.94,89.30 200.29,89.30 200.64,89.32 200.98,89.35 201.33,89.38 201.67,89.43 202.02,89.49 202.37,89.56 202.71,89.64 203.06,89.73 203.40,89.83 203.75,89.95 204.10,90.07 204.44,90.20 204.79,90.35 205.13,90.50 205.48,90.67 205.83,90.84 206.17,91.03 206.52,91.23 206.86,91.43 207.21,91.65 207.55,91.88 207.90,92.12 208.25,92.37 208.59,92.62 208.94,92.89 209.28,93.17 209.63,93.46 209.98,93.75 210.32,94.06 210.67,94.38 211.01,94.70 211.36,95.04 211.71,95.39 212.05,95.74 212.40,96.11 212.74,96.48 213.09,96.87 213.43,97.26 213.78,97.66 214.13,98.08 214.47,98.51 214.82,98.95 215.16,99.40 215.51,99.87 215.86,100.35 216.20,100.85 216.55,101.37 216.89,101.91 217.24,102.48 217.59,103.07"/><polyline fill="none" stroke="#2162d5" stroke-width="0.55" stroke-linejoin="round" points="217.59,103.07 217.93,103.69 218.28,104.34 218.62,105.03 218.97,105.76 219.32,106.52 219.66,107.32 220.01,108.17 220.35,109.05 220.70,109.97 221.04,110.92 221.39,111.90 221.74,112.91 222.08,113.93 222.43,114.96 222.77,115.98 223.12,116.99 223.47,117.98 223.81,118.93 224.16,119.82 224.50,120.66 224.85,121.43 225.20,122.12 225.54,122.72 225.89,123.23 226.23,123.65 226.58,123.97 226.92,124.19 227.27,124.33 227.62,124.37 227.96,124.32 228.31,124.20 228.65,123.99 229.00,123.71 229.35,123.36 229.69,122.94 230.04,122.44 230.38,121.86 230.73,121.20 231.08,120.44 231.42,119.57 231.77,118.56 232.11,117.41 232.46,116.08 232.81,114.55 233.15,112.77 233.50,110.71 233.84,108.33 234.19,105.58 234.53,102.40 234.88,98.73 235.23,94.51 235.57,89.66 235.92,84.11 236.26,77.77 236.61,70.54 236.96,62.32 237.30,54.23 237.65,54.23 237.99,54.23 238.34,54.23 238.69,54.23 239.03,54.23 239.38,54.23 239.72,54.23 240.07,54.23 240.41,54.23 240.76,56.97 241.11,65.80 241.45,73.95 241.80,81.46 242.14,88.36 242.49,94.72 242.84,100.57 243.18,105.95 243.53,110.91 243.87,115.48 244.22,119.69 244.57,123.58 244.91,127.17 245.26,130.49 245.60,133.57 245.95,136.44 246.30,139.10 246.64,141.58 246.99,143.90 247.33,146.07 247.68,148.11 248.02,150.03 248.37,151.85 248.72,153.57 249.06,155.21 249.41,156.78 249.75,158.28 250.10,159.73 250.45,161.13 250.79,162.49 251.14,163.82 251.48,165.12 251.83,166.40 252.18,167.67 252.52,168.94 252.87,170.20 253.21,171.46 253.56,172.74 253.90,174.03 254.25,175.34 254.60,176.68 254.94,178.05 255.29,179.46 255.63,180.92 255.98,182.43 256.33,183.99 256.67,185.63"/><polyline fill="none" stroke="#2259d7" stroke-width="1.00" stroke-linejoin="round" points="49.48,206.18 49.83,206.17 50.17,206.17 50.52,206.17 50.86,206.17 51.21,206.17 51.56,206.17 51.90,206.17 52.25,206.16 52.59,206.16 52.94,206.16 53.28,206.16 53.63,206.16 53.98,206.16 54.32,206.16 54.67,206.15 55.01,206.15 55.36,206.15 55.71,206.15 56.05,206.15 56.40,206.14 56.74,206.14 57.09,206.14 57.44,206.14 57.78,206.13 58.13,206.13 58.47,206.13 58.82,206.13 59.17,206.12 59.51,206.12 59.86,206.12 60.20,206.12 60.55,206.11 60.89,206.11 61.24,206.11 61.59,206.10 61.93,206.10 62.28,206.10 62.62,206.09 62.97,206.09 63.32,206.08 63.66,206.08 64.01,206.08 64.35,206.07 64.70,206.07 65.05,206.06 65.39,206.06 65.74,206.05 66.08,206.05 66.43,206.04 66.77,206.04 67.12,206.03 67.47,206.03 67.81,206.02 68.16,206.01 68.50,206.01 68.85,206.00 69.20,205.99 69.54,205.99 69.89,205.98 70.23,205.97 70.58,205.96 70.93,205.96 71.27,205.95 71.62,205.94 71.96,205.93 72.31,205.92 72.66,205.91 73.00,205.90 73.35,205.89 73.69,205.88 74.04,205.87 74.38,205.86 74.73,205.85 75.08,205.84 75.42,205.83 75.77,205.82 76.11,205.80 76.46,205.79 76.81,205.78 77.15,205.76 77.50,205.75 77.84,205.73 78.19,205.72 78.54,205.70 78.88,205.69 79.23,205.67 79.57,205.66 79.92,205.64 80.26,205.62 80.61,205.60 80.96,205.59 81.30,205.57 81.65,205.55 81.99,205.53 82.34,205.51 82.69,205.49 83.03,205.46 83.38,205.44 83.72,205.42 84.07,205.39 84.42,205.37 84.76,205.35 85.11,205.32 85.45,205.29 85.80,205.27 86.15,205.24 86.49,205.21 86.84,205.18 87.18,205.15 87.53,205.12 87.87,205.09 88.22,205.06 88.57,205.02 88.91,204.99 89.26,204.96 89.60,204.92 89.95,204.88 90.30,204.85 90.64,204.81 90.99,204.77 91.33,204.73 91.68,204.69 92.03,204.64 92.37,204.60 92.72,204.56 93.06,204.51 93.41,204.46 93.75,204.41 94.10,204.37 94.45,204.31 94.79,204.26 95.14,204.21 95.48,204.16 95.83,204.10 96.18,204.04 96.52,203.99 96.87,203.93 97.21,203.87 97.56,203.80 97.91,203.74 98.25,203.68 98.60,203.61 98.94,203.54 99.29,203.47 99.63,203.40 99.98,203.33 100.33,203.25 100.67,203.18 101.02,203.10 101.36,203.02 101.71,202.94 102.06,202.86 102.40,202.77 102.75,202.68 103.09,202.60 103.44,202.51 103.79,202.41 104.13,202.32 104.48,202.22 104.82,202.12 105.17,202.02 105.52,201.92 105.86,201.82 106.21,201.71 106.55,201.60 106.90,201.49 107.24,201.38 107.59,201.26 107.94,201.14 108.28,201.02 108.63,200.90 108.97,200.78 109.32,200.65 109.67,200.52 110.01,200.38 110.36,200.25 110.70,200.11 111.05,199.97 111.40,199.83 111.74,199.68 112.09,199.53 112.43,199.38 112.78,199.23 113.12,199.07 113.47,198.91 113.82,198.75 114.16,198.58 114.51,198.41 114.85,198.24 115.20,198.07 115.55,197.89 115.89,197.71 116.24,197.52 116.58,197.33 116.93,197.14 117.28,196.95 117.62,196.75 117.97,196.55 118.31,196.35 118.66,196.14 119.01,195.93 119.35,195.71 119.70,195.49 120.04,195.27 120.39,195.05 120.73,194.82 121.08,194.58 121.43,194.35 121.77,194.11 122.12,193.86 122.46,193.62 122.81,193.36 123.16,193.11 123.50,192.85 123.85,192.59 124.19,192.32 124.54,192.05 124.89,191.77 125.23,191.49 125.58,191.21 125.92,190.92 126.27,190.63 126.61,190.33 126.96,190.03 127.31,189.73 127.65,189.42 128.00,189.11 128.34,188.79 128.69,188.47 129.04,188.14 129.38,187.81 129.73,187.48 130.07,187.14 130.42,186.79 130.77,186.45 131.11,186.09 131.46,185.74 131.80,185.37 132.15,185.01 132.50,184.64 132.84,184.26 133.19,183.88 133.53,183.50 133.88,183.11 134.22,182.72 134.57,182.32 134.92,181.92 135.26,181.51 135.61,181.10 135.95,180.68 136.30,180.26 136.65,179.84 136.99,179.41 137.34,178.97 137.68,178.53 138.03,178.09 138.38,177.64 138.72,177.19 139.07,176.73 139.41,176.27 139.76,175.80 140.10,175.33 140.45,174.86 140.80,174.38 141.14,173.89 141.49,173.40 141.83,172.91 142.18,172.41 142.53,171.91 142.87,171.40 143.22,170.89 143.56,170.37 143.91,169.85 144.26,169.33 144.60,168.80 144.95,168.27 145.29,167.73 145.64,167.19 145.99,166.65 146.33,166.10 146.68,165.54 147.02,164.99 147.37,164.43 147.71,163.86 148.06,163.29 148.41,162.72 148.75,162.14 149.10,161.56 149.44,160.98 149.79,160.39 150.14,159.80 150.48,159.21 150.83,158.61 151.17,158.01 151.52,157.40 151.87,156.80 152.21,156.19 152.56,155.57 152.90,154.96 153.25,154.34 153.59,153.71 153.94,153.09 154.29,152.46 154.63,151.83 154.98,151.20 155.32,150.56 155.67,149.92 156.02,149.28 156.36,148.64 156.71,147.99 157.05,147.35 157.40,146.70 157.75,146.05 158.09,145.40 158.44,144.74 158.78,144.09 159.13,143.43 159.48,142.77 159.82,142.11 160.17,141.45 160.51,140.79 160.86,140.13 161.20,139.47 161.55,138.80 161.90,138.14 162.24,137.47 162.59,136.81 162.93,136.14 163.28,135.48 163.63,134.81 163.97,134.15 164.32,133.48 164.66,132.82 165.01,132.15 165.36,131.49 165.70,130.82 166.05,130.16 166.39,129.50 166.74,128.84 167.08,128.18 167.43,127.52 167.78,126.86 168.12,126.21 168.47,125.56 168.81,124.91 169.16,124.26 169.51,123.61 169.85,122.96 170.20,122.32 170.54,121.68 170.89,121.04 171.24,120.41 171.58,119.78 171.93,119.15 172.27,118.52 172.62,117.90 172.97,117.28 173.31,116.66 173.66,116.05 174.00,115.45 174.35,114.84 174.69,114.24 175.04,113.65 175.39,113.05 175.73,112.47 176.08,111.89 176.42,111.31 176.77,110.74 177.12,110.17 177.46,109.61 177.81,109.05 178.15,108.50 178.50,107.95 178.85,107.41 179.19,106.88 179.54,106.35 179.88,105.82 180.23,105.31 180.57,104.80 180.92,104.29 181.27,103.80 181.61,103.30 181.96,102.82 182.30,102.34 182.65,101.87 183.00,101.41 183.34,100.95 183.69,100.51 184.03,100.06 184.38,99.63 184.73,99.20 185.07,98.79 185.42,98.38 185.76,97.97 186.11,97.58 186.46,97.19 186.80,96.82 187.15,96.45 187.49,96.08 187.84,95.73 188.18,95.39 188.53,95.05 188.88,94.73 189.22,94.41 189.57,94.10 189.91,93.80 190.26,93.51 190.61,93.23 190.95,92.96 191.30,92.69 191.64,92.44 191.99,92.20 192.34,91.96 192.68,91.74 193.03,91.52 193.37,91.32 193.72,91.12 194.06,90.94 194.41,90.76 194.76,90.59 195.10,90.44 195.45,90.29 195.79,90.15 196.14,90.03 196.49,89.91 196.83,89.80 197.18,89.71 197.52,89.62 197.87,89.55 198.22,89.48 198.56,89.43 198.91,89.38 199.25,89.34 199.60,89.32 199.94,89.30 200.29,89.30 200.64,89.31 200.98,89.32 201.33,89.35 201.67,89.39 202.02,89.44 202.37,89.50 202.71,89.57 203.06,89.65 203.40,89.74 203.75,89.84 204.10,89.96 204.44,90.08 204.79,90.22 205.13,90.36 205.48,90.52 205.83,90.69 206.17,90.87 206.52,91.05 206.86,91.25 207.21,91.46 207.55,91.68 207.90,91.91 208.25,92.15 208.59,92.40 208.94,92.66 209.28,92.93 209.63,93.21 209.98,93.50 210.32,93.80 210.67,94.11 211.01,94.43 211.36,94.76 211.71,95.10 212.05,95.44 212.40,95.80 212.74,96.17 213.09,96.54 213.43,96.93 213.78,97.33 214.13,97.74 214.47,98.15 214.82,98.58 215.16,99.02 215.51,99.48 215.86,99.95 216.20,100.43 216.55,100.93 216.89,101.45 217.24,102.00 217.59,102.56"/><polyline fill="none" stroke="#2259d7" stroke-width="0.55" stroke-linejoin="round" points="217.59,102.56 217.93,103.15 218.28,103.76 218.62,104.40 218.97,105.07 219.32,105.78 219.66,106.52 220.01,107.28 220.35,108.09 220.70,108.92 221.04,109.78 221.39,110.66 221.74,111.56 222.08,112.48 222.43,113.40 222.77,114.32 223.12,115.23 223.47,116.12 223.81,116.99 224.16,117.81 224.50,118.59 224.85,119.32 225.20,119.98 225.54,120.58 225.89,121.11 226.23,121.56 226.58,121.94 226.92,122.25 227.27,122.48 227.62,122.65 227.96,122.75 228.31,122.79 228.65,122.77 229.00,122.70 229.35,122.57 229.69,122.39 230.04,122.15 230.38,121.86 230.73,121.50 231.08,121.08 231.42,120.57 231.77,119.97 232.11,119.27 232.46,118.43 232.81,117.45 233.15,116.29 233.50,114.92 233.84,113.31 234.19,111.43 234.53,109.22 234.88,106.64 235.23,103.65 235.57,100.16 235.92,96.12 236.26,91.45 236.61,86.05 236.96,79.83 237.30,72.67 237.65,64.45 237.99,55.01 238.34,54.23 238.69,54.23 239.03,54.23 239.38,54.23 239.72,54.23 240.07,58.46 240.41,66.59 240.76,74.07 241.11,80.96 241.45,87.31 241.80,93.16 242.14,98.57 242.49,103.56 242.84,108.18 243.18,112.46 243.53,116.43 243.87,120.11 244.22,123.53 244.57,126.72 244.91,129.69 245.26,132.46 245.60,135.05 245.95,137.48 246.30,139.77 246.64,141.91 246.99,143.94 247.33,145.85 247.68,147.67 248.02,149.39 248.37,151.03 248.72,152.60 249.06,154.10 249.41,155.54 249.75,156.93 250.10,158.28 250.45,159.58 250.79,160.85 251.14,162.09 251.48,163.31 251.83,164.50 252.18,165.68 252.52,166.85 252.87,168.02 253.21,169.18 253.56,170.35 253.90,171.52 254.25,172.71 254.60,173.91 254.94,175.13 255.29,176.38 255.63,177.65 255.98,178.96 256.33,180.32 256.67,181.72"/><polyline fill="none" stroke="#2350d8" stroke-width="1.00" stroke-linejoin="round" points="49.48,206.18 49.83,206.18 50.17,206.17 50.52,206.17 50.86,206.17 51.21,206.17 51.56,206.17 51.90,206.17 52.25,206.17 52.59,206.17 52.94,206.16 53.28,206.16 53.63,206.16 53.98,206.16 54.32,206.16 54.67,206.16 55.01,206.16 55.36,206.15 55.71,206.15 56.05,206.15 56.40,206.15 56.74,206.15 57.09,206.14 57.44,206.14 57.78,206.14 58.13,206.14 58.47,206.14 58.82,206.13 59.17,206.13 59.51,206.13 59.86,206.12 60.20,206.12 60.55,206.12 60.89,206.12 61.24,206.11 61.59,206.11 61.93,206.11 62.28,206.10 62.62,206.10 62.97,206.10 63.32,206.09 63.66,206.09 64.01,206.08 64.35,206.08 64.70,206.08 65.05,206.07 65.39,206.07 65.74,206.06 66.08,206.06 66.43,206.05 66.77,206.05 67.12,206.04 67.47,206.04 67.81,206.03 68.16,206.03 68.50,206.02 68.85,206.01 69.20,206.01 69.54,206.00 69.89,205.99 70.23,205.99 70.58,205.98 70.93,205.97 71.27,205.96 71.62,205.96 71.96,205.95 72.31,205.94 72.66,205.93 73.00,205.92 73.35,205.91 73.69,205.90 74.04,205.89 74.38,205.88 74.73,205.87 75.08,205.86 75.42,205.85 75.77,205.84 76.11,205.83 76.46,205.81 76.81,205.80 77.15,205.79 77.50,205.78 77.84,205.76 78.19,205.75 78.54,205.73 78.88,205.72 79.23,205.70 79.57,205.69 79.92,205.67 80.26,205.66 80.61,205.64 80.96,205.62 81.30,205.60 81.65,205.58 81.99,205.57 82.34,205.55 82.69,205.53 83.03,205.51 83.38,205.48 83.72,205.46 84.07,205.44 84.42,205.42 84.76,205.39 85.11,205.37 85.45,205.34 85.80,205.32 86.15,205.29 86.49,205.26 86.84,205.24 87.18,205.21 87.53,205.18 87.87,205.15 88.22,205.12 88.57,205.09 88.91,205.05 89.26,205.02 89.60,204.99 89.95,204.95 90.30,204.92 90.64,204.88 90.99,204.84 91.33,204.80 91.68,204.76 92.03,204.72 92.37,204.68 92.72,204.64 93.06,204.59 93.41,204.55 93.75,204.50 94.10,204.45 94.45,204.41 94.79,204.36 95.14,204.31 95.48,204.25 95.83,204.20 96.18,204.15 96.52,204.09 96.87,204.03 97.21,203.98 97.56,203.92 97.91,203.85 98.25,203.79 98.60,203.73 98.94,203.66 99.29,203.60 99.63,203.53 99.98,203.46 100.33,203.39 100.67,203.31 101.02,203.24 101.36,203.16 101.71,203.08 102.06,203.00 102.40,202.92 102.75,202.84 103.09,202.75 103.44,202.66 103.79,202.57 104.13,202.48 104.48,202.39 104.82,202.30 105.17,202.20 105.52,202.10 105.86,202.00 106.21,201.89 106.55,201.79 106.90,201.68 107.24,201.57 107.59,201.46 107.94,201.35 108.28,201.23 108.63,201.11 108.97,200.99 109.32,200.86 109.67,200.74 110.01,200.61 110.36,200.48 110.70,200.34 111.05,200.21 111.40,200.07 111.74,199.93 112.09,199.78 112.43,199.64 112.78,199.49 113.12,199.33 113.47,199.18 113.82,199.02 114.16,198.86 114.51,198.69 114.85,198.52 115.20,198.35 115.55,198.18 115.89,198.00 116.24,197.82 116.58,197.64 116.93,197.46 117.28,197.27 117.62,197.07 117.97,196.88 118.31,196.68 118.66,196.47 119.01,196.27 119.35,196.06 119.70,195.85 120.04,195.63 120.39,195.41 120.73,195.18 121.08,194.96 121.43,194.73 121.77,194.49 122.12,194.25 122.46,194.01 122.81,193.76 123.16,193.51 123.50,193.26 123.85,193.00 124.19,192.74 124.54,192.47 124.89,192.20 125.23,191.93 125.58,191.65 125.92,191.37 126.27,191.08 126.61,190.79 126.96,190.50 127.31,190.20 127.65,189.89 128.00,189.59 128.34,189.28 128.69,188.96 129.04,188.64 129.38,188.31 129.73,187.99 130.07,187.65 130.42,187.31 130.77,186.97 131.11,186.63 131.46,186.27 131.80,185.92 132.15,185.56 132.50,185.19 132.84,184.82 133.19,184.45 133.53,184.07 133.88,183.69 134.22,183.30 134.57,182.91 134.92,182.51 135.26,182.11 135.61,181.71 135.95,181.29 136.30,180.88 136.65,180.46 136.99,180.04 137.34,179.61 137.68,179.17 138.03,178.73 138.38,178.29 138.72,177.84 139.07,177.39 139.41,176.93 139.76,176.47 140.10,176.01 140.45,175.54 140.80,175.06 141.14,174.58 141.49,174.10 141.83,173.61 142.18,173.11 142.53,172.62 142.87,172.11 143.22,171.61 143.56,171.10 143.91,170.58 144.26,170.06 144.60,169.54 144.95,169.01 145.29,168.48 145.64,167.94 145.99,167.40 146.33,166.85 146.68,166.30 147.02,165.75 147.37,165.19 147.71,164.63 148.06,164.06 148.41,163.50 148.75,162.92 149.10,162.34 149.44,161.76 149.79,161.18 150.14,160.59 150.48,160.00 150.83,159.41 151.17,158.81 151.52,158.20 151.87,157.60 152.21,156.99 152.56,156.38 152.90,155.76 153.25,155.15 153.59,154.53 153.94,153.90 154.29,153.28 154.63,152.65 154.98,152.01 155.32,151.38 155.67,150.74 156.02,150.10 156.36,149.46 156.71,148.82 157.05,148.17 157.40,147.52 157.75,146.87 158.09,146.22 158.44,145.57 158.78,144.91 159.13,144.25 159.48,143.59 159.82,142.93 160.17,142.27 160.51,141.61 160.86,140.95 161.20,140.28 161.55,139.62 161.90,138.95 162.24,138.29 162.59,137.62 162.93,136.95 163.28,136.28 163.63,135.61 163.97,134.95 164.32,134.28 164.66,133.61 165.01,132.94 165.36,132.28 165.70,131.61 166.05,130.94 166.39,130.28 166.74,129.61 167.08,128.95 167.43,128.29 167.78,127.63 168.12,126.97 168.47,126.31 168.81,125.66 169.16,125.00 169.51,124.35 169.85,123.70 170.20,123.05 170.54,122.41 170.89,121.77 171.24,121.13 171.58,120.49 171.93,119.85 172.27,119.22 172.62,118.59 172.97,117.97 173.31,117.35 173.66,116.73 174.00,116.11 174.35,115.50 174.69,114.90 175.04,114.29 175.39,113.70 175.73,113.10 176.08,112.51 176.42,111.93 176.77,111.35 177.12,110.77 177.46,110.20 177.81,109.64 178.15,109.08 178.50,108.52 178.85,107.98 179.19,107.43 179.54,106.90 179.88,106.37 180.23,105.84 180.57,105.32 180.92,104.81 181.27,104.30 181.61,103.80 181.96,103.31 182.30,102.82 182.65,102.35 183.00,101.87 183.34,101.41 183.69,100.95 184.03,100.50 184.38,100.06 184.73,99.62 185.07,99.19 185.42,98.78 185.76,98.36 186.11,97.96 186.46,97.56 186.80,97.18 187.15,96.80 187.49,96.43 187.84,96.06 188.18,95.71 188.53,95.37 188.88,95.03 189.22,94.70 189.57,94.38 189.91,94.08 190.26,93.77 190.61,93.48 190.95,93.20 191.30,92.93 191.64,92.67 191.99,92.41 192.34,92.17 192.68,91.93 193.03,91.71 193.37,91.49 193.72,91.29 194.06,91.09 194.41,90.91 194.76,90.73 195.10,90.57 195.45,90.41 195.79,90.26 196.14,90.13 196.49,90.00 196.83,89.89 197.18,89.78 197.52,89.69 197.87,89.60 198.22,89.53 198.56,89.46 198.91,89.41 199.25,89.36 199.60,89.33 199.94,89.31 200.29,89.29 200.64,89.29 200.98,89.30 201.33,89.31 201.67,89.34 202.02,89.38 202.37,89.43 202.71,89.49 203.06,89.57 203.40,89.65 203.75,89.74 204.10,89.85 204.44,89.96 204.79,90.09 205.13,90.22 205.48,90.37 205.83,90.53 206.17,90.69 206.52,90.87 206.86,91.06 207.21,91.26 207.55,91.46 207.90,91.68 208.25,91.91 208.59,92.15 208.94,92.39 209.28,92.65 209.63,92.92 209.98,93.19 210.32,93.48 210.67,93.77 211.01,94.07 211.36,94.38 211.71,94.70 212.05,95.03 212.40,95.37 212.74,95.72 213.09,96.07 213.43,96.43 213.78,96.80 214.13,97.18 214.47,97.57 214.82,97.97 215.16,98.38 215.51,98.80 215.86,99.22 216.20,99.66 216.55,100.11 216.89,100.58 217.24,101.06 217.59,101.55"/><polyline fill="none" stroke="#2350d8" stroke-width="0.55" stroke-linejoin="round" points="217.59,101.55 217.93,102.06 218.28,102.59 218.62,103.14 218.97,103.71 219.32,104.30 219.66,104.91 220.01,105.54 220.35,106.19 220.70,106.86 221.04,107.54 221.39,108.24 221.74,108.95 222.08,109.65 222.43,110.36 222.77,111.06 223.12,111.74 223.47,112.40 223.81,113.02 224.16,113.61 224.50,114.15 224.85,114.64 225.20,115.07 225.54,115.43 225.89,115.73 226.23,115.96 226.58,116.11 226.92,116.19 227.27,116.20 227.62,116.14 227.96,116.01 228.31,115.81 228.65,115.55 229.00,115.23 229.35,114.84 229.69,114.39 230.04,113.88 230.38,113.31 230.73,112.67 231.08,111.96 231.42,111.18 231.77,110.31 232.11,109.36 232.46,108.30 232.81,107.13 233.15,105.84 233.50,104.41 233.84,102.83 234.19,101.08 234.53,99.14 234.88,97.00 235.23,94.63 235.57,92.02 235.92,89.14 236.26,85.97 236.61,82.47 236.96,78.63 237.30,74.42 237.65,69.79 237.99,64.72 238.34,59.16 238.69,54.23 239.03,54.23 239.38,59.62 239.72,65.97 240.07,71.94 240.41,77.55 240.76,82.81 241.11,87.76 241.45,92.42 241.80,96.80 242.14,100.93 242.49,104.82 242.84,108.49 243.18,111.95 243.53,115.22 243.87,118.32 244.22,121.24 244.57,124.02 244.91,126.65 245.26,129.14 245.60,131.52 245.95,133.77 246.30,135.93 246.64,137.98 246.99,139.93 247.33,141.81 247.68,143.60 248.02,145.32 248.37,146.98 248.72,148.57 249.06,150.10 249.41,151.58 249.75,153.02 250.10,154.41 250.45,155.76 250.79,157.07 251.14,158.35 251.48,159.61 251.83,160.84 252.18,162.05 252.52,163.24 252.87,164.41 253.21,165.58 253.56,166.74 253.90,167.89 254.25,169.05 254.60,170.20 254.94,171.36 255.29,172.53 255.63,173.72 255.98,174.92 256.33,176.14 256.67,177.39"/><polyline fill="none" stroke="#2447d9" stroke-width="1.00" stroke-linejoin="round" points="49.48,206.18 49.83,206.18 50.17,206.18 50.52,206.17 50.86,206.17 51.21,206.17 51.56,206.17 51.90,206.17 52.25,206.17 52.59,206.17 52.94,206.17 53.28,206.17 53.63,206.16 53.98,206.16 54.32,206.16 54.67,206.16 55.01,206.16 55.36,206.16 55.71,206.15 56.05,206.15 56.40,206.15 56.74,206.15 57.09,206.15 57.44,206.15 57.78,206.14 58.13,206.14 58.47,206.14 58.82,206.14 59.17,206.13 59.51,206.13 59.86,206.13 60.20,206.13 60.55,206.12 60.89,206.12 61.24,206.12 61.59,206.12 61.93,206.11 62.28,206.11 62.62,206.11 62.97,206.10 63.32,206.10 63.66,206.10 64.01,206.09 64.35,206.09 64.70,206.08 65.05,206.08 65.39,206.07 65.74,206.07 66.08,206.07 66.43,206.06 66.77,206.06 67.12,206.05 67.47,206.05 67.81,206.04 68.16,206.04 68.50,206.03 68.85,206.02 69.20,206.02 69.54,206.01 69.89,206.00 70.23,206.00 70.58,205.99 70.93,205.98 71.27,205.98 71.62,205.97 71.96,205.96 72.31,205.95 72.66,205.94 73.00,205.94 73.35,205.93 73.69,205.92 74.04,205.91 74.38,205.90 74.73,205.89 75.08,205.88 75.42,205.87 75.77,205.86 76.11,205.85 76.46,205.83 76.81,205.82 77.15,205.81 77.50,205.80 77.84,205.78 78.19,205.77 78.54,205.76 78.88,205.74 79.23,205.73 79.57,205.71 79.92,205.70 80.26,205.68 80.61,205.67 80.96,205.65 81.30,205.63 81.65,205.61 81.99,205.60 82.34,205.58 82.69,205.56 83.03,205.54 83.38,205.52 83.72,205.50 84.07,205.47 84.42,205.45 84.76,205.43 85.11,205.41 85.45,205.38 85.80,205.36 86.15,205.33 86.49,205.31 86.84,205.28 87.18,205.25 87.53,205.22 87.87,205.19 88.22,205.16 88.57,205.13 88.91,205.10 89.26,205.07 89.60,205.04 89.95,205.00 90.30,204.97 90.64,204.93 90.99,204.90 91.33,204.86 91.68,204.82 92.03,204.78 92.37,204.74 92.72,204.70 93.06,204.66 93.41,204.61 93.75,204.57 94.10,204.52 94.45,204.48 94.79,204.43 95.14,204.38 95.48,204.33 95.83,204.28 96.18,204.23 96.52,204.17 96.87,204.12 97.21,204.06 97.56,204.00 97.91,203.94 98.25,203.88 98.60,203.82 98.94,203.76 99.29,203.69 99.63,203.63 99.98,203.56 100.33,203.49 100.67,203.42 101.02,203.34 101.36,203.27 101.71,203.19 102.06,203.12 102.40,203.04 102.75,202.95 103.09,202.87 103.44,202.79 103.79,202.70 104.13,202.61 104.48,202.52 104.82,202.43 105.17,202.33 105.52,202.24 105.86,202.14 106.21,202.04 106.55,201.94 106.90,201.83 107.24,201.72 107.59,201.61 107.94,201.50 108.28,201.39 108.63,201.27 108.97,201.15 109.32,201.03 109.67,200.91 110.01,200.78 110.36,200.66 110.70,200.53 111.05,200.39 111.40,200.26 111.74,200.12 112.09,199.98 112.43,199.83 112.78,199.69 113.12,199.54 113.47,199.39 113.82,199.23 114.16,199.07 114.51,198.91 114.85,198.75 115.20,198.58 115.55,198.41 115.89,198.24 116.24,198.06 116.58,197.88 116.93,197.70 117.28,197.51 117.62,197.33 117.97,197.13 118.31,196.94 118.66,196.74 119.01,196.54 119.35,196.33 119.70,196.12 120.04,195.91 120.39,195.69 120.73,195.47 121.08,195.25 121.43,195.02 121.77,194.79 122.12,194.56 122.46,194.32 122.81,194.08 123.16,193.83 123.50,193.58 123.85,193.33 124.19,193.07 124.54,192.81 124.89,192.54 125.23,192.27 125.58,192.00 125.92,191.72 126.27,191.44 126.61,191.15 126.96,190.86 127.31,190.57 127.65,190.27 128.00,189.97 128.34,189.66 128.69,189.35 129.04,189.03 129.38,188.71 129.73,188.39 130.07,188.06 130.42,187.73 130.77,187.39 131.11,187.05 131.46,186.70 131.80,186.35 132.15,185.99 132.50,185.63 132.84,185.27 133.19,184.90 133.53,184.53 133.88,184.15 134.22,183.76 134.57,183.38 134.92,182.98 135.26,182.59 135.61,182.19 135.95,181.78 136.30,181.37 136.65,180.95 136.99,180.53 137.34,180.11 137.68,179.68 138.03,179.24 138.38,178.81 138.72,178.36 139.07,177.91 139.41,177.46 139.76,177.00 140.10,176.54 140.45,176.08 140.80,175.60 141.14,175.13 141.49,174.65 141.83,174.16 142.18,173.67 142.53,173.18 142.87,172.68 143.22,172.18 143.56,171.67 143.91,171.16 144.26,170.64 144.60,170.12 144.95,169.60 145.29,169.07 145.64,168.53 145.99,168.00 146.33,167.45 146.68,166.91 147.02,166.36 147.37,165.80 147.71,165.24 148.06,164.68 148.41,164.11 148.75,163.54 149.10,162.97 149.44,162.39 149.79,161.81 150.14,161.22 150.48,160.63 150.83,160.04 151.17,159.44 151.52,158.84 151.87,158.24 152.21,157.63 152.56,157.02 152.90,156.41 153.25,155.80 153.59,155.18 153.94,154.55 154.29,153.93 154.63,153.30 154.98,152.67 155.32,152.04 155.67,151.40 156.02,150.76 156.36,150.12 156.71,149.48 157.05,148.83 157.40,148.18 157.75,147.53 158.09,146.88 158.44,146.23 158.78,145.57 159.13,144.91 159.48,144.25 159.82,143.59 160.17,142.93 160.51,142.27 160.86,141.60 161.20,140.94 161.55,140.27 161.90,139.61 162.24,138.94 162.59,138.27 162.93,137.60 163.28,136.93 163.63,136.26 163.97,135.59 164.32,134.92 164.66,134.25 165.01,133.58 165.36,132.91 165.70,132.24 166.05,131.58 166.39,130.91 166.74,130.24 167.08,129.58 167.43,128.91 167.78,128.25 168.12,127.58 168.47,126.92 168.81,126.26 169.16,125.61 169.51,124.95 169.85,124.30 170.20,123.65 170.54,123.00 170.89,122.35 171.24,121.70 171.58,121.06 171.93,120.42 172.27,119.79 172.62,119.15 172.97,118.52 173.31,117.90 173.66,117.28 174.00,116.66 174.35,116.04 174.69,115.43 175.04,114.82 175.39,114.22 175.73,113.62 176.08,113.02 176.42,112.43 176.77,111.85 177.12,111.26 177.46,110.69 177.81,110.12 178.15,109.55 178.50,108.99 178.85,108.44 179.19,107.89 179.54,107.34 179.88,106.81 180.23,106.27 180.57,105.75 180.92,105.23 181.27,104.72 181.61,104.21 181.96,103.71 182.30,103.22 182.65,102.73 183.00,102.25 183.34,101.78 183.69,101.31 184.03,100.86 184.38,100.41 184.73,99.96 185.07,99.53 185.42,99.10 185.76,98.68 186.11,98.27 186.46,97.87 186.80,97.47 187.15,97.09 187.49,96.71 187.84,96.34 188.18,95.98 188.53,95.62 188.88,95.28 189.22,94.95 189.57,94.62 189.91,94.30 190.26,94.00 190.61,93.70 190.95,93.41 191.30,93.13 191.64,92.86 191.99,92.59 192.34,92.34 192.68,92.10 193.03,91.87 193.37,91.65 193.72,91.43 194.06,91.23 194.41,91.04 194.76,90.85 195.10,90.68 195.45,90.52 195.79,90.36 196.14,90.22 196.49,90.09 196.83,89.96 197.18,89.85 197.52,89.75 197.87,89.66 198.22,89.58 198.56,89.50 198.91,89.44 199.25,89.39 199.60,89.35 199.94,89.32 200.29,89.30 200.64,89.29 200.98,89.29 201.33,89.30 201.67,89.33 202.02,89.36 202.37,89.40 202.71,89.46 203.06,89.53 203.40,89.60 203.75,89.69 204.10,89.79 204.44,89.90 204.79,90.02 205.13,90.15 205.48,90.29 205.83,90.44 206.17,90.60 206.52,90.77 206.86,90.96 207.21,91.15 207.55,91.35 207.90,91.57 208.25,91.79 208.59,92.02 208.94,92.27 209.28,92.52 209.63,92.78 209.98,93.05 210.32,93.33 210.67,93.62 211.01,93.92 211.36,94.23 211.71,94.55 212.05,94.88 212.40,95.21 212.74,95.56 213.09,95.91 213.43,96.27 213.78,96.64 214.13,97.02 214.47,97.41 214.82,97.80 215.16,98.21 215.51,98.62 215.86,99.05 216.20,99.48 216.55,99.92 216.89,100.38 217.24,100.85 217.59,101.32"/><polyline fill="none" stroke="#2447d9" stroke-width="0.55" stroke-linejoin="round" points="217.59,101.32 217.93,101.82 218.28,102.32 218.62,102.85 218.97,103.38 219.32,103.94 219.66,104.50 220.01,105.09 220.35,105.69 220.70,106.30 221.04,106.92 221.39,107.56 221.74,108.19 222.08,108.84 222.43,109.48 222.77,110.11 223.12,110.74 223.47,111.35 223.81,111.93 224.16,112.49 224.50,113.02 224.85,113.51 225.20,113.96 225.54,114.37 225.89,114.73 226.23,115.04 226.58,115.29 226.92,115.50 227.27,115.65 227.62,115.75 227.96,115.80 228.31,115.80 228.65,115.75 229.00,115.65 229.35,115.51 229.69,115.31 230.04,115.06 230.38,114.76 230.73,114.40 231.08,113.99 231.42,113.50 231.77,112.95 232.11,112.33 232.46,111.61 232.81,110.80 233.15,109.89 233.50,108.86 233.84,107.70 234.19,106.40 234.53,104.94 234.88,103.31 235.23,101.49 235.57,99.47 235.92,97.23 236.26,94.74 236.61,91.98 236.96,88.93 237.30,85.56 237.65,81.85 237.99,77.77 238.34,73.28 238.69,68.36 239.03,68.34 239.38,74.21 239.72,79.71 240.07,84.86 240.41,89.70 240.76,94.24 241.11,98.50 241.45,102.50 241.80,106.26 242.14,109.81 242.49,113.15 242.84,116.29 243.18,119.26 243.53,122.07 243.87,124.72 244.22,127.23 244.57,129.61 244.91,131.86 245.26,134.00 245.60,136.04 245.95,137.97 246.30,139.82 246.64,141.58 246.99,143.27 247.33,144.88 247.68,146.42 248.02,147.91 248.37,149.33 248.72,150.70 249.06,152.03 249.41,153.31 249.75,154.55 250.10,155.75 250.45,156.91 250.79,158.05 251.14,159.15 251.48,160.24 251.83,161.29 252.18,162.33 252.52,163.36 252.87,164.36 253.21,165.36 253.56,166.34 253.90,167.32 254.25,168.29 254.60,169.26 254.94,170.24 255.29,171.21 255.63,172.19 255.98,173.17 256.33,174.17 256.67,175.18"/><polyline fill="none" stroke="#263ddb" stroke-width="1.00" stroke-linejoin="round" points="49.48,206.18 49.83,206.18 50.17,206.18 50.52,206.18 50.86,206.18 51.21,206.17 51.56,206.17 51.90,206.17 52.25,206.17 52.59,206.17 52.94,206.17 53.28,206.17 53.63,206.17 53.98,206.16 54.32,206.16 54.67,206.16 55.01,206.16 55.36,206.16 55.71,206.16 56.05,206.16 56.40,206.15 56.74,206.15 57.09,206.15 57.44,206.15 57.78,206.15 58.13,206.14 58.47,206.14 58.82,206.14 59.17,206.14 59.51,206.13 59.86,206.13 60.20,206.13 60.55,206.13 60.89,206.12 61.24,206.12 61.59,206.12 61.93,206.12 62.28,206.11 62.62,206.11 62.97,206.11 63.32,206.10 63.66,206.10 64.01,206.10 64.35,206.09 64.70,206.09 65.05,206.08 65.39,206.08 65.74,206.08 66.08,206.07 66.43,206.07 66.77,206.06 67.12,206.06 67.47,206.05 67.81,206.05 68.16,206.04 68.50,206.04 68.85,206.03 69.20,206.02 69.54,206.02 69.89,206.01 70.23,206.01 70.58,206.00 70.93,205.99 71.27,205.99 71.62,205.98 71.96,205.97 72.31,205.96 72.66,205.95 73.00,205.95 73.35,205.94 73.69,205.93 74.04,205.92 74.38,205.91 74.73,205.90 75.08,205.89 75.42,205.88 75.77,205.87 76.11,205.86 76.46,205.85 76.81,205.84 77.15,205.82 77.50,205.81 77.84,205.80 78.19,205.79 78.54,205.77 78.88,205.76 79.23,205.75 79.57,205.73 79.92,205.72 80.26,205.70 80.61,205.68 80.96,205.67 81.30,205.65 81.65,205.63 81.99,205.62 82.34,205.60 82.69,205.58 83.03,205.56 83.38,205.54 83.72,205.52 84.07,205.50 84.42,205.48 84.76,205.46 85.11,205.43 85.45,205.41 85.80,205.39 86.15,205.36 86.49,205.34 86.84,205.31 87.18,205.28 87.53,205.26 87.87,205.23 88.22,205.20 88.57,205.17 88.91,205.14 89.26,205.11 89.60,205.07 89.95,205.04 90.30,205.01 90.64,204.97 90.99,204.94 91.33,204.90 91.68,204.86 92.03,204.83 92.37,204.79 92.72,204.75 93.06,204.70 93.41,204.66 93.75,204.62 94.10,204.57 94.45,204.53 94.79,204.48 95.14,204.43 95.48,204.39 95.83,204.34 96.18,204.28 96.52,204.23 96.87,204.18 97.21,204.12 97.56,204.07 97.91,204.01 98.25,203.95 98.60,203.89 98.94,203.83 99.29,203.76 99.63,203.70 99.98,203.63 100.33,203.56 100.67,203.49 101.02,203.42 101.36,203.35 101.71,203.27 102.06,203.20 102.40,203.12 102.75,203.04 103.09,202.96 103.44,202.88 103.79,202.79 104.13,202.70 104.48,202.62 104.82,202.53 105.17,202.43 105.52,202.34 105.86,202.24 106.21,202.14 106.55,202.04 106.90,201.94 107.24,201.83 107.59,201.73 107.94,201.62 108.28,201.51 108.63,201.39 108.97,201.28 109.32,201.16 109.67,201.04 110.01,200.91 110.36,200.79 110.70,200.66 111.05,200.53 111.40,200.40 111.74,200.26 112.09,200.12 112.43,199.98 112.78,199.84 113.12,199.69 113.47,199.54 113.82,199.39 114.16,199.23 114.51,199.07 114.85,198.91 115.20,198.75 115.55,198.58 115.89,198.41 116.24,198.24 116.58,198.06 116.93,197.88 117.28,197.70 117.62,197.51 117.97,197.32 118.31,197.13 118.66,196.93 119.01,196.73 119.35,196.53 119.70,196.33 120.04,196.12 120.39,195.90 120.73,195.69 121.08,195.47 121.43,195.24 121.77,195.01 122.12,194.78 122.46,194.55 122.81,194.31 123.16,194.07 123.50,193.82 123.85,193.57 124.19,193.31 124.54,193.06 124.89,192.79 125.23,192.53 125.58,192.26 125.92,191.98 126.27,191.70 126.61,191.42 126.96,191.14 127.31,190.84 127.65,190.55 128.00,190.25 128.34,189.95 128.69,189.64 129.04,189.33 129.38,189.01 129.73,188.69 130.07,188.36 130.42,188.03 130.77,187.70 131.11,187.36 131.46,187.02 131.80,186.67 132.15,186.32 132.50,185.96 132.84,185.60 133.19,185.23 133.53,184.86 133.88,184.49 134.22,184.11 134.57,183.72 134.92,183.33 135.26,182.94 135.61,182.54 135.95,182.14 136.30,181.73 136.65,181.32 136.99,180.90 137.34,180.48 137.68,180.06 138.03,179.63 138.38,179.19 138.72,178.75 139.07,178.30 139.41,177.85 139.76,177.40 140.10,176.94 140.45,176.48 140.80,176.01 141.14,175.54 141.49,175.06 141.83,174.58 142.18,174.09 142.53,173.60 142.87,173.10 143.22,172.60 143.56,172.10 143.91,171.59 144.26,171.08 144.60,170.56 144.95,170.04 145.29,169.51 145.64,168.98 145.99,168.44 146.33,167.90 146.68,167.36 147.02,166.81 147.37,166.26 147.71,165.70 148.06,165.14 148.41,164.58 148.75,164.01 149.10,163.44 149.44,162.86 149.79,162.28 150.14,161.70 150.48,161.11 150.83,160.52 151.17,159.92 151.52,159.32 151.87,158.72 152.21,158.12 152.56,157.51 152.90,156.90 153.25,156.28 153.59,155.66 153.94,155.04 154.29,154.42 154.63,153.79 154.98,153.16 155.32,152.53 155.67,151.89 156.02,151.25 156.36,150.61 156.71,149.97 157.05,149.33 157.40,148.68 157.75,148.03 158.09,147.38 158.44,146.72 158.78,146.07 159.13,145.41 159.48,144.75 159.82,144.09 160.17,143.43 160.51,142.76 160.86,142.10 161.20,141.43 161.55,140.77 161.90,140.10 162.24,139.43 162.59,138.76 162.93,138.09 163.28,137.42 163.63,136.75 163.97,136.08 164.32,135.41 164.66,134.74 165.01,134.06 165.36,133.39 165.70,132.72 166.05,132.05 166.39,131.38 166.74,130.71 167.08,130.05 167.43,129.38 167.78,128.71 168.12,128.05 168.47,127.38 168.81,126.72 169.16,126.06 169.51,125.40 169.85,124.75 170.20,124.09 170.54,123.44 170.89,122.79 171.24,122.14 171.58,121.50 171.93,120.86 172.27,120.22 172.62,119.58 172.97,118.95 173.31,118.32 173.66,117.69 174.00,117.07 174.35,116.45 174.69,115.83 175.04,115.22 175.39,114.61 175.73,114.01 176.08,113.41 176.42,112.81 176.77,112.22 177.12,111.64 177.46,111.06 177.81,110.48 178.15,109.91 178.50,109.35 178.85,108.79 179.19,108.23 179.54,107.68 179.88,107.14 180.23,106.60 180.57,106.07 180.92,105.55 181.27,105.03 181.61,104.52 181.96,104.01 182.30,103.52 182.65,103.02 183.00,102.54 183.34,102.06 183.69,101.59 184.03,101.13 184.38,100.67 184.73,100.23 185.07,99.78 185.42,99.35 185.76,98.93 186.11,98.51 186.46,98.10 186.80,97.70 187.15,97.31 187.49,96.92 187.84,96.55 188.18,96.18 188.53,95.82 188.88,95.47 189.22,95.13 189.57,94.80 189.91,94.48 190.26,94.16 190.61,93.86 190.95,93.56 191.30,93.28 191.64,93.00 191.99,92.73 192.34,92.48 192.68,92.23 193.03,91.99 193.37,91.76 193.72,91.54 194.06,91.34 194.41,91.14 194.76,90.95 195.10,90.77 195.45,90.60 195.79,90.44 196.14,90.29 196.49,90.15 196.83,90.03 197.18,89.91 197.52,89.80 197.87,89.70 198.22,89.62 198.56,89.54 198.91,89.47 199.25,89.42 199.60,89.37 199.94,89.34 200.29,89.31 200.64,89.30 200.98,89.29 201.33,89.30 201.67,89.32 202.02,89.35 202.37,89.39 202.71,89.44 203.06,89.50 203.40,89.57 203.75,89.65 204.10,89.75 204.44,89.85 204.79,89.97 205.13,90.09 205.48,90.23 205.83,90.38 206.17,90.54 206.52,90.70 206.86,90.88 207.21,91.07 207.55,91.27 207.90,91.48 208.25,91.70 208.59,91.93 208.94,92.17 209.28,92.42 209.63,92.68 209.98,92.95 210.32,93.23 210.67,93.52 211.01,93.81 211.36,94.12 211.71,94.44 212.05,94.76 212.40,95.10 212.74,95.44 213.09,95.79 213.43,96.15 213.78,96.52 214.13,96.90 214.47,97.28 214.82,97.68 215.16,98.08 215.51,98.49 215.86,98.92 216.20,99.35 216.55,99.79 216.89,100.24 217.24,100.70 217.59,101.17"/><polyline fill="none" stroke="#263ddb" stroke-width="0.55" stroke-linejoin="round" points="217.59,101.17 217.93,101.66 218.28,102.15 218.62,102.66 218.97,103.18 219.32,103.72 219.66,104.26 220.01,104.82 220.35,105.39 220.70,105.98 221.04,106.57 221.39,107.17 221.74,107.77 222.08,108.38 222.43,108.99 222.77,109.60 223.12,110.20 223.47,110.78 223.81,111.35 224.16,111.91 224.50,112.44 224.85,112.94 225.20,113.42 225.54,113.86 225.89,114.26 226.23,114.63 226.58,114.97 226.92,115.26 227.27,115.51 227.62,115.73 227.96,115.90 228.31,116.04 228.65,116.13 229.00,116.19 229.35,116.21 229.69,116.19 230.04,116.12 230.38,116.02 230.73,115.86 231.08,115.66 231.42,115.40 231.77,115.08 232.11,114.69 232.46,114.24 232.81,113.70 233.15,113.07 233.50,112.35 233.84,111.52 234.19,110.56 234.53,109.48 234.88,108.25 235.23,106.87 235.57,105.31 235.92,103.56 236.26,101.60 236.61,99.42 236.96,97.00 237.30,94.31 237.65,91.33 237.99,88.03 238.34,84.39 238.69,80.37 239.03,80.53 239.38,85.68 239.72,90.49 240.07,95.00 240.41,99.22 240.76,103.17 241.11,106.88 241.45,110.37 241.80,113.64 242.14,116.72 242.49,119.62 242.84,122.36 243.18,124.93 243.53,127.37 243.87,129.67 244.22,131.85 244.57,133.91 244.91,135.87 245.26,137.74 245.60,139.51 245.95,141.20 246.30,142.81 246.64,144.34 246.99,145.81 247.33,147.22 247.68,148.58 248.02,149.88 248.37,151.13 248.72,152.33 249.06,153.50 249.41,154.62 249.75,155.71 250.10,156.77 250.45,157.80 250.79,158.80 251.14,159.77 251.48,160.72 251.83,161.65 252.18,162.57 252.52,163.46 252.87,164.35 253.21,165.22 253.56,166.07 253.90,166.92 254.25,167.76 254.60,168.60 254.94,169.43 255.29,170.26 255.63,171.09 255.98,171.92 256.33,172.75 256.67,173.59"/><polyline fill="none" stroke="#2530ca" stroke-width="1.10" stroke-linejoin="round" points="49.48,206.18 49.83,206.18 50.17,206.18 50.52,206.18 50.86,206.18 51.21,206.17 51.56,206.17 51.90,206.17 52.25,206.17 52.59,206.17 52.94,206.17 53.28,206.17 53.63,206.17 53.98,206.17 54.32,206.16 54.67,206.16 55.01,206.16 55.36,206.16 55.71,206.16 56.05,206.16 56.40,206.15 56.74,206.15 57.09,206.15 57.44,206.15 57.78,206.15 58.13,206.15 58.47,206.14 58.82,206.14 59.17,206.14 59.51,206.14 59.86,206.13 60.20,206.13 60.55,206.13 60.89,206.13 61.24,206.12 61.59,206.12 61.93,206.12 62.28,206.12 62.62,206.11 62.97,206.11 63.32,206.11 63.66,206.10 64.01,206.10 64.35,206.10 64.70,206.09 65.05,206.09 65.39,206.08 65.74,206.08 66.08,206.08 66.43,206.07 66.77,206.07 67.12,206.06 67.47,206.06 67.81,206.05 68.16,206.05 68.50,206.04 68.85,206.04 69.20,206.03 69.54,206.02 69.89,206.02 70.23,206.01 70.58,206.00 70.93,206.00 71.27,205.99 71.62,205.98 71.96,205.98 72.31,205.97 72.66,205.96 73.00,205.95 73.35,205.94 73.69,205.94 74.04,205.93 74.38,205.92 74.73,205.91 75.08,205.90 75.42,205.89 75.77,205.88 76.11,205.87 76.46,205.86 76.81,205.85 77.15,205.83 77.50,205.82 77.84,205.81 78.19,205.80 78.54,205.78 78.88,205.77 79.23,205.76 79.57,205.74 79.92,205.73 80.26,205.71 80.61,205.70 80.96,205.68 81.30,205.66 81.65,205.65 81.99,205.63 82.34,205.61 82.69,205.59 83.03,205.58 83.38,205.56 83.72,205.54 84.07,205.52 84.42,205.49 84.76,205.47 85.11,205.45 85.45,205.43 85.80,205.40 86.15,205.38 86.49,205.35 86.84,205.33 87.18,205.30 87.53,205.28 87.87,205.25 88.22,205.22 88.57,205.19 88.91,205.16 89.26,205.13 89.60,205.10 89.95,205.07 90.30,205.03 90.64,205.00 90.99,204.96 91.33,204.93 91.68,204.89 92.03,204.85 92.37,204.82 92.72,204.78 93.06,204.74 93.41,204.69 93.75,204.65 94.10,204.61 94.45,204.56 94.79,204.52 95.14,204.47 95.48,204.42 95.83,204.37 96.18,204.32 96.52,204.27 96.87,204.22 97.21,204.16 97.56,204.11 97.91,204.05 98.25,203.99 98.60,203.93 98.94,203.87 99.29,203.81 99.63,203.74 99.98,203.68 100.33,203.61 100.67,203.54 101.02,203.47 101.36,203.40 101.71,203.33 102.06,203.25 102.40,203.18 102.75,203.10 103.09,203.02 103.44,202.94 103.79,202.85 104.13,202.77 104.48,202.68 104.82,202.59 105.17,202.50 105.52,202.40 105.86,202.31 106.21,202.21 106.55,202.11 106.90,202.01 107.24,201.91 107.59,201.80 107.94,201.69 108.28,201.58 108.63,201.47 108.97,201.36 109.32,201.24 109.67,201.12 110.01,201.00 110.36,200.87 110.70,200.75 111.05,200.62 111.40,200.49 111.74,200.35 112.09,200.21 112.43,200.08 112.78,199.93 113.12,199.79 113.47,199.64 113.82,199.49 114.16,199.34 114.51,199.18 114.85,199.02 115.20,198.86 115.55,198.69 115.89,198.52 116.24,198.35 116.58,198.18 116.93,198.00 117.28,197.82 117.62,197.63 117.97,197.45 118.31,197.26 118.66,197.06 119.01,196.87 119.35,196.66 119.70,196.46 120.04,196.25 120.39,196.04 120.73,195.83 121.08,195.61 121.43,195.39 121.77,195.16 122.12,194.93 122.46,194.70 122.81,194.46 123.16,194.22 123.50,193.98 123.85,193.73 124.19,193.48 124.54,193.22 124.89,192.96 125.23,192.70 125.58,192.43 125.92,192.16 126.27,191.88 126.61,191.60 126.96,191.32 127.31,191.03 127.65,190.73 128.00,190.44 128.34,190.13 128.69,189.83 129.04,189.52 129.38,189.20 129.73,188.89 130.07,188.56 130.42,188.24 130.77,187.90 131.11,187.57 131.46,187.23 131.80,186.88 132.15,186.53 132.50,186.18 132.84,185.82 133.19,185.45 133.53,185.09 133.88,184.71 134.22,184.34 134.57,183.95 134.92,183.57 135.26,183.18 135.61,182.78 135.95,182.38 136.30,181.97 136.65,181.56 136.99,181.15 137.34,180.73 137.68,180.31 138.03,179.88 138.38,179.44 138.72,179.01 139.07,178.56 139.41,178.12 139.76,177.66 140.10,177.21 140.45,176.75 140.80,176.28 141.14,175.81 141.49,175.33 141.83,174.85 142.18,174.37 142.53,173.88 142.87,173.39 143.22,172.89 143.56,172.39 143.91,171.88 144.26,171.37 144.60,170.85 144.95,170.33 145.29,169.80 145.64,169.27 145.99,168.74 146.33,168.20 146.68,167.66 147.02,167.11 147.37,166.56 147.71,166.01 148.06,165.45 148.41,164.89 148.75,164.32 149.10,163.75 149.44,163.17 149.79,162.59 150.14,162.01 150.48,161.43 150.83,160.84 151.17,160.24 151.52,159.64 151.87,159.04 152.21,158.44 152.56,157.83 152.90,157.22 153.25,156.61 153.59,155.99 153.94,155.37 154.29,154.75 154.63,154.12 154.98,153.49 155.32,152.86 155.67,152.22 156.02,151.58 156.36,150.94 156.71,150.30 157.05,149.66 157.40,149.01 157.75,148.36 158.09,147.71 158.44,147.05 158.78,146.40 159.13,145.74 159.48,145.08 159.82,144.42 160.17,143.76 160.51,143.10 160.86,142.43 161.20,141.76 161.55,141.10 161.90,140.43 162.24,139.76 162.59,139.09 162.93,138.42 163.28,137.75 163.63,137.07 163.97,136.40 164.32,135.73 164.66,135.06 165.01,134.39 165.36,133.71 165.70,133.04 166.05,132.37 166.39,131.70 166.74,131.03 167.08,130.36 167.43,129.69 167.78,129.02 168.12,128.36 168.47,127.69 168.81,127.03 169.16,126.37 169.51,125.71 169.85,125.05 170.20,124.39 170.54,123.74 170.89,123.09 171.24,122.44 171.58,121.79 171.93,121.15 172.27,120.50 172.62,119.86 172.97,119.23 173.31,118.60 173.66,117.97 174.00,117.34 174.35,116.72 174.69,116.10 175.04,115.49 175.39,114.88 175.73,114.27 176.08,113.67 176.42,113.07 176.77,112.48 177.12,111.89 177.46,111.30 177.81,110.73 178.15,110.15 178.50,109.58 178.85,109.02 179.19,108.46 179.54,107.91 179.88,107.37 180.23,106.83 180.57,106.29 180.92,105.77 181.27,105.24 181.61,104.73 181.96,104.22 182.30,103.72 182.65,103.22 183.00,102.73 183.34,102.25 183.69,101.78 184.03,101.31 184.38,100.85 184.73,100.40 185.07,99.96 185.42,99.52 185.76,99.09 186.11,98.67 186.46,98.26 186.80,97.85 187.15,97.46 187.49,97.07 187.84,96.69 188.18,96.32 188.53,95.96 188.88,95.60 189.22,95.26 189.57,94.92 189.91,94.60 190.26,94.28 190.61,93.97 190.95,93.67 191.30,93.38 191.64,93.10 191.99,92.83 192.34,92.57 192.68,92.32 193.03,92.07 193.37,91.84 193.72,91.62 194.06,91.41 194.41,91.20 194.76,91.01 195.10,90.83 195.45,90.66 195.79,90.49 196.14,90.34 196.49,90.20 196.83,90.07 197.18,89.95 197.52,89.84 197.87,89.73 198.22,89.64 198.56,89.56 198.91,89.49 199.25,89.43 199.60,89.39 199.94,89.35 200.29,89.32 200.64,89.30 200.98,89.29 201.33,89.30 201.67,89.31 202.02,89.34 202.37,89.37 202.71,89.42 203.06,89.48 203.40,89.55 203.75,89.63 204.10,89.72 204.44,89.82 204.79,89.94 205.13,90.06 205.48,90.19 205.83,90.34 206.17,90.49 206.52,90.66 206.86,90.83 207.21,91.02 207.55,91.22 207.90,91.43 208.25,91.64 208.59,91.87 208.94,92.11 209.28,92.36 209.63,92.62 209.98,92.88 210.32,93.16 210.67,93.45 211.01,93.74 211.36,94.05 211.71,94.36 212.05,94.69 212.40,95.02 212.74,95.36 213.09,95.71 213.43,96.07 213.78,96.44 214.13,96.82 214.47,97.21 214.82,97.60 215.16,98.00 215.51,98.41 215.86,98.83 216.20,99.26 216.55,99.70 216.89,100.14 217.24,100.60 217.59,101.06"/><polyline fill="none" stroke="#2530ca" stroke-width="0.55" stroke-linejoin="round" points="217.59,101.06 217.93,101.54 218.28,102.02 218.62,102.51 218.97,103.02 219.32,103.53 219.66,104.06 220.01,104.59 220.35,105.13 220.70,105.68 221.04,106.24 221.39,106.80 221.74,107.37 222.08,107.94 222.43,108.51 222.77,109.08 223.12,109.65 223.47,110.21 223.81,110.76 224.16,111.30 224.50,111.82 224.85,112.33 225.20,112.82 225.54,113.29 225.89,113.73 226.23,114.15 226.58,114.55 226.92,114.92 227.27,115.26 227.62,115.57 227.96,115.85 228.31,116.11 228.65,116.33 229.00,116.53 229.35,116.69 229.69,116.82 230.04,116.92 230.38,116.98 230.73,117.00 231.08,116.97 231.42,116.90 231.77,116.78 232.11,116.60 232.46,116.36 232.81,116.05 233.15,115.66 233.50,115.19 233.84,114.63 234.19,113.96 234.53,113.19 234.88,112.29 235.23,111.26 235.57,110.08 235.92,108.74 236.26,107.23 236.61,105.53 236.96,103.61 237.30,101.48 237.65,99.09 237.99,96.44 238.34,93.50 238.69,90.24 239.03,90.54 239.38,95.08 239.72,99.32 240.07,103.29 240.41,106.99 240.76,110.47 241.11,113.72 241.45,116.77 241.80,119.64 242.14,122.33 242.49,124.87 242.84,127.26 243.18,129.51 243.53,131.65 243.87,133.66 244.22,135.57 244.57,137.38 244.91,139.10 245.26,140.73 245.60,142.29 245.95,143.78 246.30,145.20 246.64,146.55 246.99,147.86 247.33,149.10 247.68,150.30 248.02,151.46 248.37,152.57 248.72,153.65 249.06,154.69 249.41,155.69 249.75,156.67 250.10,157.62 250.45,158.54 250.79,159.43 251.14,160.31 251.48,161.17 251.83,162.00 252.18,162.82 252.52,163.63 252.87,164.42 253.21,165.20 253.56,165.96 253.90,166.72 254.25,167.47 254.60,168.21 254.94,168.94 255.29,169.67 255.63,170.40 255.98,171.12 256.33,171.84 256.67,172.56"/><polyline fill="none" stroke="#241fa3" stroke-width="1.45" stroke-linejoin="round" points="49.48,206.18 49.83,206.18 50.17,206.18 50.52,206.18 50.86,206.18 51.21,206.18 51.56,206.17 51.90,206.17 52.25,206.17 52.59,206.17 52.94,206.17 53.28,206.17 53.63,206.17 53.98,206.17 54.32,206.17 54.67,206.16 55.01,206.16 55.36,206.16 55.71,206.16 56.05,206.16 56.40,206.16 56.74,206.15 57.09,206.15 57.44,206.15 57.78,206.15 58.13,206.15 58.47,206.15 58.82,206.14 59.17,206.14 59.51,206.14 59.86,206.14 60.20,206.13 60.55,206.13 60.89,206.13 61.24,206.13 61.59,206.12 61.93,206.12 62.28,206.12 62.62,206.12 62.97,206.11 63.32,206.11 63.66,206.11 64.01,206.10 64.35,206.10 64.70,206.09 65.05,206.09 65.39,206.09 65.74,206.08 66.08,206.08 66.43,206.07 66.77,206.07 67.12,206.07 67.47,206.06 67.81,206.06 68.16,206.05 68.50,206.05 68.85,206.04 69.20,206.03 69.54,206.03 69.89,206.02 70.23,206.02 70.58,206.01 70.93,206.00 71.27,206.00 71.62,205.99 71.96,205.98 72.31,205.98 72.66,205.97 73.00,205.96 73.35,205.95 73.69,205.94 74.04,205.93 74.38,205.93 74.73,205.92 75.08,205.91 75.42,205.90 75.77,205.89 76.11,205.88 76.46,205.87 76.81,205.85 77.15,205.84 77.50,205.83 77.84,205.82 78.19,205.81 78.54,205.79 78.88,205.78 79.23,205.77 79.57,205.75 79.92,205.74 80.26,205.72 80.61,205.71 80.96,205.69 81.30,205.68 81.65,205.66 81.99,205.64 82.34,205.63 82.69,205.61 83.03,205.59 83.38,205.57 83.72,205.55 84.07,205.53 84.42,205.51 84.76,205.49 85.11,205.47 85.45,205.44 85.80,205.42 86.15,205.40 86.49,205.37 86.84,205.35 87.18,205.32 87.53,205.30 87.87,205.27 88.22,205.24 88.57,205.21 88.91,205.18 89.26,205.15 89.60,205.12 89.95,205.09 90.30,205.06 90.64,205.03 90.99,204.99 91.33,204.96 91.68,204.92 92.03,204.88 92.37,204.84 92.72,204.81 93.06,204.77 93.41,204.72 93.75,204.68 94.10,204.64 94.45,204.60 94.79,204.55 95.14,204.50 95.48,204.46 95.83,204.41 96.18,204.36 96.52,204.31 96.87,204.26 97.21,204.20 97.56,204.15 97.91,204.09 98.25,204.03 98.60,203.98 98.94,203.91 99.29,203.85 99.63,203.79 99.98,203.73 100.33,203.66 100.67,203.59 101.02,203.52 101.36,203.45 101.71,203.38 102.06,203.31 102.40,203.23 102.75,203.15 103.09,203.07 103.44,202.99 103.79,202.91 104.13,202.83 104.48,202.74 104.82,202.65 105.17,202.56 105.52,202.47 105.86,202.38 106.21,202.28 106.55,202.18 106.90,202.08 107.24,201.98 107.59,201.88 107.94,201.77 108.28,201.66 108.63,201.55 108.97,201.44 109.32,201.32 109.67,201.20 110.01,201.08 110.36,200.96 110.70,200.83 111.05,200.71 111.40,200.58 111.74,200.44 112.09,200.31 112.43,200.17 112.78,200.03 113.12,199.89 113.47,199.74 113.82,199.59 114.16,199.44 114.51,199.28 114.85,199.13 115.20,198.97 115.55,198.80 115.89,198.64 116.24,198.47 116.58,198.29 116.93,198.12 117.28,197.94 117.62,197.76 117.97,197.57 118.31,197.38 118.66,197.19 119.01,197.00 119.35,196.80 119.70,196.59 120.04,196.39 120.39,196.18 120.73,195.97 121.08,195.75 121.43,195.53 121.77,195.31 122.12,195.08 122.46,194.85 122.81,194.61 123.16,194.38 123.50,194.13 123.85,193.89 124.19,193.64 124.54,193.38 124.89,193.13 125.23,192.86 125.58,192.60 125.92,192.33 126.27,192.05 126.61,191.78 126.96,191.49 127.31,191.21 127.65,190.92 128.00,190.62 128.34,190.32 128.69,190.02 129.04,189.71 129.38,189.40 129.73,189.08 130.07,188.76 130.42,188.44 130.77,188.11 131.11,187.77 131.46,187.43 131.80,187.09 132.15,186.74 132.50,186.39 132.84,186.04 133.19,185.67 133.53,185.31 133.88,184.94 134.22,184.56 134.57,184.18 134.92,183.80 135.26,183.41 135.61,183.02 135.95,182.62 136.30,182.21 136.65,181.81 136.99,181.39 137.34,180.98 137.68,180.56 138.03,180.13 138.38,179.70 138.72,179.26 139.07,178.82 139.41,178.38 139.76,177.93 140.10,177.47 140.45,177.01 140.80,176.55 141.14,176.08 141.49,175.61 141.83,175.13 142.18,174.65 142.53,174.16 142.87,173.67 143.22,173.17 143.56,172.67 143.91,172.16 144.26,171.65 144.60,171.14 144.95,170.62 145.29,170.10 145.64,169.57 145.99,169.04 146.33,168.50 146.68,167.96 147.02,167.42 147.37,166.87 147.71,166.31 148.06,165.76 148.41,165.19 148.75,164.63 149.10,164.06 149.44,163.49 149.79,162.91 150.14,162.33 150.48,161.74 150.83,161.15 151.17,160.56 151.52,159.96 151.87,159.36 152.21,158.76 152.56,158.15 152.90,157.54 153.25,156.93 153.59,156.31 153.94,155.69 154.29,155.07 154.63,154.45 154.98,153.82 155.32,153.19 155.67,152.55 156.02,151.91 156.36,151.27 156.71,150.63 157.05,149.99 157.40,149.34 157.75,148.69 158.09,148.04 158.44,147.39 158.78,146.73 159.13,146.07 159.48,145.41 159.82,144.75 160.17,144.09 160.51,143.43 160.86,142.76 161.20,142.09 161.55,141.43 161.90,140.76 162.24,140.09 162.59,139.42 162.93,138.75 163.28,138.07 163.63,137.40 163.97,136.73 164.32,136.06 164.66,135.38 165.01,134.71 165.36,134.04 165.70,133.36 166.05,132.69 166.39,132.02 166.74,131.35 167.08,130.68 167.43,130.01 167.78,129.34 168.12,128.67 168.47,128.00 168.81,127.34 169.16,126.67 169.51,126.01 169.85,125.35 170.20,124.69 170.54,124.04 170.89,123.38 171.24,122.73 171.58,122.08 171.93,121.44 172.27,120.79 172.62,120.15 172.97,119.51 173.31,118.88 173.66,118.25 174.00,117.62 174.35,116.99 174.69,116.37 175.04,115.76 175.39,115.14 175.73,114.53 176.08,113.93 176.42,113.33 176.77,112.73 177.12,112.14 177.46,111.55 177.81,110.97 178.15,110.40 178.50,109.82 178.85,109.26 179.19,108.70 179.54,108.14 179.88,107.59 180.23,107.05 180.57,106.51 180.92,105.98 181.27,105.46 181.61,104.94 181.96,104.43 182.30,103.92 182.65,103.42 183.00,102.93 183.34,102.45 183.69,101.97 184.03,101.50 184.38,101.04 184.73,100.58 185.07,100.13 185.42,99.69 185.76,99.26 186.11,98.83 186.46,98.42 186.80,98.01 187.15,97.61 187.49,97.22 187.84,96.83 188.18,96.46 188.53,96.09 188.88,95.74 189.22,95.39 189.57,95.05 189.91,94.72 190.26,94.40 190.61,94.08 190.95,93.78 191.30,93.49 191.64,93.20 191.99,92.93 192.34,92.66 192.68,92.41 193.03,92.16 193.37,91.92 193.72,91.70 194.06,91.48 194.41,91.27 194.76,91.08 195.10,90.89 195.45,90.72 195.79,90.55 196.14,90.39 196.49,90.25 196.83,90.11 197.18,89.99 197.52,89.87 197.87,89.77 198.22,89.67 198.56,89.59 198.91,89.52 199.25,89.45 199.60,89.40 199.94,89.36 200.29,89.33 200.64,89.31 200.98,89.30 201.33,89.30 201.67,89.31 202.02,89.33 202.37,89.37 202.71,89.41 203.06,89.46 203.40,89.53 203.75,89.61 204.10,89.70 204.44,89.80 204.79,89.90 205.13,90.03 205.48,90.16 205.83,90.30 206.17,90.45 206.52,90.61 206.86,90.79 207.21,90.97 207.55,91.17 207.90,91.37 208.25,91.59 208.59,91.81 208.94,92.05 209.28,92.30 209.63,92.55 209.98,92.82 210.32,93.09 210.67,93.38 211.01,93.67 211.36,93.98 211.71,94.29 212.05,94.62 212.40,94.95 212.74,95.29 213.09,95.64 213.43,96.00 213.78,96.37 214.13,96.74 214.47,97.13 214.82,97.52 215.16,97.92 215.51,98.33 215.86,98.74 216.20,99.17 216.55,99.60 216.89,100.03 217.24,100.48 217.59,100.93"/><polyline fill="none" stroke="#241fa3" stroke-width="1.45" stroke-linejoin="round" points="217.59,100.93 217.93,101.39 218.28,101.85 218.62,102.32 218.97,102.79 219.32,103.27 219.66,103.75 220.01,104.24 220.35,104.73 220.70,105.23 221.04,105.73 221.39,106.23 221.74,106.73 222.08,107.24 222.43,107.75 222.77,108.25 223.12,108.76 223.47,109.27 223.81,109.77 224.16,110.28 224.50,110.78 224.85,111.28 225.20,111.77 225.54,112.25 225.89,112.73 226.23,113.20 226.58,113.67 226.92,114.12 227.27,114.56 227.62,114.98 227.96,115.39 228.31,115.78 228.65,116.16 229.00,116.51 229.35,116.83 229.69,117.13 230.04,117.40 230.38,117.64 230.73,117.84 231.08,118.00 231.42,118.12 231.77,118.19 232.11,118.20 232.46,118.16 232.81,118.06 233.15,117.88 233.50,117.63 233.84,117.30 234.19,116.87 234.53,116.35 234.88,115.71 235.23,114.96 235.57,114.08 235.92,113.06 236.26,111.88 236.61,110.53 236.96,108.99 237.30,107.26 237.65,105.31 237.99,103.11 238.34,100.66 238.69,97.92 239.03,98.32 239.38,102.46 239.72,106.31 240.07,109.90 240.41,113.25 240.76,116.37 241.11,119.29 241.45,122.02 241.80,124.58 242.14,126.99 242.49,129.24 242.84,131.37 243.18,133.37 243.53,135.26 243.87,137.04 244.22,138.73 244.57,140.34 244.91,141.86 245.26,143.31 245.60,144.69 245.95,146.01 246.30,147.27 246.64,148.48 246.99,149.64 247.33,150.75 247.68,151.82 248.02,152.86 248.37,153.85 248.72,154.82 249.06,155.75 249.41,156.66 249.75,157.54 250.10,158.40 250.45,159.24 250.79,160.05 251.14,160.85 251.48,161.63 251.83,162.39 252.18,163.14 252.52,163.87 252.87,164.59 253.21,165.30 253.56,166.00 253.90,166.69 254.25,167.37 254.60,168.04 254.94,168.70 255.29,169.36 255.63,170.01 255.98,170.66 256.33,171.30 256.67,171.94"/></g>
<rect x="49.5" y="77.5" width="206.0" height="135.0" fill="none" stroke="#777" stroke-width="0.9"/>
<line x1="50.2" y1="206.80" x2="255.5" y2="206.80" stroke="#8f8f8f" stroke-width="1" stroke-dasharray="9,6.53"/>
<path d="M56.60 212.5v-2 M85.08 212.5v-2 M113.56 212.5v-2 M142.04 212.5v-2 M170.52 212.5v-2 M199.00 212.5v-2 M227.48 212.5v-2 M255.96 212.5v-2 M52.50 77.5v2 M94.54 77.5v2 M153.39 77.5v2 M201.54 77.5v2 M241.66 77.5v2 M49.5 206.20h2 M49.5 176.97h2 M49.5 147.75h2 M49.5 118.52h2 M49.5 89.30h2" stroke="#333" stroke-width="0.8" fill="none"/>
<text x="56.60" y="229.30" font-size="13.00" text-anchor="middle">1.8</text>
<text x="85.08" y="229.30" font-size="13.00" text-anchor="middle">2</text>
<text x="113.56" y="229.30" font-size="13.00" text-anchor="middle">2.2</text>
<text x="142.04" y="229.30" font-size="13.00" text-anchor="middle">2.4</text>
<text x="170.52" y="229.30" font-size="13.00" text-anchor="middle">2.6</text>
<text x="199.00" y="229.30" font-size="13.00" text-anchor="middle">2.8</text>
<text x="227.48" y="229.30" font-size="13.00" text-anchor="middle">3</text>
<text x="255.96" y="229.30" font-size="13.00" text-anchor="middle">3.2</text>
<text x="52.50" y="67.80" font-size="13.00" text-anchor="middle">700</text>
<text x="94.54" y="67.80" font-size="13.00" text-anchor="middle">600</text>
<text x="153.39" y="67.80" font-size="13.00" text-anchor="middle">500</text>
<text x="201.54" y="67.80" font-size="13.00" text-anchor="middle">440</text>
<text x="241.66" y="67.80" font-size="13.00" text-anchor="middle">400</text>
<text x="44.30" y="209.60" font-size="13.00" text-anchor="end">0</text>
<text x="44.30" y="180.38" font-size="13.00" text-anchor="end">0.25</text>
<text x="44.30" y="151.15" font-size="13.00" text-anchor="end">0.5</text>
<text x="44.30" y="121.92" font-size="13.00" text-anchor="end">0.75</text>
<text x="44.30" y="92.70" font-size="13.00" text-anchor="end">1</text>
<text x="60.30" y="90.20" font-size="14.20" text-anchor="start">(a)</text>
<text x="60.00" y="109.40" font-size="13.50" text-anchor="start">Mg:LN</text>
<text x="131" y="50.6" font-size="15" text-anchor="start" textLength="44" lengthAdjust="spacingAndGlyphs"><tspan font-style="italic">λ</tspan> (nm)</text>
<text x="131.3" y="247.6" font-size="15" font-style="italic" textLength="10.5" lengthAdjust="spacingAndGlyphs">E</text>
<text x="147.5" y="247.6" font-size="15" textLength="26.6" lengthAdjust="spacingAndGlyphs">(eV)</text>
<g transform="translate(14.3,171.3) rotate(-90)"><text x="0" y="0" font-size="15.5" text-anchor="start" textLength="52" lengthAdjust="spacingAndGlyphs"><tspan font-style="italic">I</tspan><tspan font-size="10" dy="2.5">PL</tspan><tspan dy="-2.5" font-size="16.5">/</tspan><tspan font-style="italic">I</tspan><tspan font-size="10" dy="2.5">max</tspan></text></g>
<rect x="258.5" y="77.5" width="13.0" height="135.0" fill="url(#cbg)" stroke="#333" stroke-width="0.9"/>
<path d="M271.5 190.00h-2 M271.5 167.50h-2 M271.5 145.00h-2 M271.5 122.50h-2 M271.5 100.00h-2" stroke="#222" stroke-width="0.8"/>
<text x="277.20" y="216.90" font-size="13.00" text-anchor="start">0</text>
<text x="277.20" y="194.40" font-size="13.00" text-anchor="start">50</text>
<text x="277.20" y="171.90" font-size="13.00" text-anchor="start">100</text>
<text x="277.20" y="149.40" font-size="13.00" text-anchor="start">150</text>
<text x="277.20" y="126.90" font-size="13.00" text-anchor="start">200</text>
<text x="277.20" y="104.40" font-size="13.00" text-anchor="start">250</text>
<text x="277.20" y="81.90" font-size="13.00" text-anchor="start">300</text>
<g transform="translate(311.9,147) rotate(-90)"><text x="0" y="0" font-size="15" text-anchor="start" textLength="37" lengthAdjust="spacingAndGlyphs"><tspan font-style="italic">T</tspan> (K)</text></g>
<rect x="362.5" y="6.5" width="253.0" height="116.0" fill="none" stroke="#666" stroke-width="0.9"/>
<rect x="362.5" y="134.5" width="253.0" height="117.0" fill="none" stroke="#666" stroke-width="0.9"/>
<path d="M403.49 6.5v2.2 M403.49 122.5v-2.2 M403.49 134.5v2.2 M403.49 251.5v-2.2 M444.37 6.5v2.2 M444.37 122.5v-2.2 M444.37 134.5v2.2 M444.37 251.5v-2.2 M485.25 6.5v2.2 M485.25 122.5v-2.2 M485.25 134.5v2.2 M485.25 251.5v-2.2 M526.14 6.5v2.2 M526.14 122.5v-2.2 M526.14 134.5v2.2 M526.14 251.5v-2.2 M567.02 6.5v2.2 M567.02 122.5v-2.2 M567.02 134.5v2.2 M567.02 251.5v-2.2 M607.91 6.5v2.2 M607.91 122.5v-2.2 M607.91 134.5v2.2 M607.91 251.5v-2.2 M362.5 93.20h2.2 M615.5 93.20h-2.2 M362.5 64.20h2.2 M615.5 64.20h-2.2 M362.5 35.20h2.2 M615.5 35.20h-2.2 M362.5 227.84h2.2 M615.5 227.84h-2.2 M362.5 204.48h2.2 M615.5 204.48h-2.2 M362.5 181.12h2.2 M615.5 181.12h-2.2 M362.5 157.76h2.2 M615.5 157.76h-2.2" stroke="#333" stroke-width="0.8" fill="none"/>
<text x="357.40" y="125.80" font-size="13.00" text-anchor="end">2.5</text>
<text x="357.40" y="96.80" font-size="13.00" text-anchor="end">2.6</text>
<text x="357.40" y="67.80" font-size="13.00" text-anchor="end">2.7</text>
<text x="357.40" y="38.80" font-size="13.00" text-anchor="end">2.8</text>
<text x="357.40" y="9.80" font-size="13.00" text-anchor="end">2.9</text>
<text x="356.70" y="254.80" font-size="13.00" text-anchor="end">0.5</text>
<text x="356.70" y="231.44" font-size="13.00" text-anchor="end">0.6</text>
<text x="356.70" y="208.08" font-size="13.00" text-anchor="end">0.7</text>
<text x="356.70" y="184.72" font-size="13.00" text-anchor="end">0.8</text>
<text x="356.70" y="161.36" font-size="13.00" text-anchor="end">0.9</text>
<text x="356.70" y="138.00" font-size="13.00" text-anchor="end">1</text>
<text x="362.60" y="267.40" font-size="13.00" text-anchor="middle">0</text>
<text x="403.49" y="267.40" font-size="13.00" text-anchor="middle">50</text>
<text x="444.37" y="267.40" font-size="13.00" text-anchor="middle">100</text>
<text x="485.25" y="267.40" font-size="13.00" text-anchor="middle">150</text>
<text x="526.14" y="267.40" font-size="13.00" text-anchor="middle">200</text>
<text x="567.02" y="267.40" font-size="13.00" text-anchor="middle">250</text>
<text x="607.91" y="267.40" font-size="13.00" text-anchor="middle">300</text>
<text x="476.30" y="25.40" font-size="14.20" text-anchor="start">(b)</text>
<text x="477.30" y="162.10" font-size="14.20" text-anchor="start">(c)</text>
<text x="470" y="285.9" font-size="15" font-style="italic" textLength="11" lengthAdjust="spacingAndGlyphs">T</text>
<text x="486" y="285.9" font-size="15" textLength="21.2" lengthAdjust="spacingAndGlyphs">(K)</text>
<g transform="translate(331.8,233) rotate(-90)"><text x="0" y="0" font-size="15" text-anchor="start" textLength="81" lengthAdjust="spacingAndGlyphs">FWHM (eV)</text></g>
<g transform="translate(332.2,100) rotate(-90)"><text x="0" y="0" font-size="15.5" text-anchor="start" textLength="67" lengthAdjust="spacingAndGlyphs"><tspan font-style="italic">E</tspan><tspan font-size="10" dy="3">PL</tspan><tspan font-size="10" dy="-9.5" dx="-12">max</tspan><tspan dy="6.5" dx="1"> (eV)</tspan></text></g>
<path d="M370.78 26.76V32.68M366.78 26.76h8M366.78 32.68h8 M370.78 221.13V234.44M366.78 221.13h8M366.78 234.44h8 M378.95 26.74V32.65M374.95 26.74h8M374.95 32.65h8 M378.95 221.17V234.48M374.95 221.17h8M374.95 234.48h8 M383.04 27.14V33.06M379.04 27.14h8M379.04 33.06h8 M383.04 221.60V234.91M379.04 221.60h8M379.04 234.91h8 M387.13 27.61V33.52M383.13 27.61h8M383.13 33.52h8 M387.13 221.08V234.39M383.13 221.08h8M383.13 234.39h8 M391.22 27.80V33.71M387.22 27.80h8M387.22 33.71h8 M391.22 221.01V234.32M387.22 221.01h8M387.22 234.32h8 M395.31 28.08V33.99M391.31 28.08h8M391.31 33.99h8 M395.31 221.24V234.55M391.31 221.24h8M391.31 234.55h8 M399.40 28.47V34.39M395.40 28.47h8M395.40 34.39h8 M399.40 221.77V235.09M395.40 221.77h8M395.40 235.09h8 M403.49 29.06V34.97M399.49 29.06h8M399.49 34.97h8 M403.49 221.41V234.72M399.49 221.41h8M399.49 234.72h8 M407.57 29.31V35.23M403.57 29.31h8M403.57 35.23h8 M407.57 221.44V234.75M403.57 221.44h8M403.57 234.75h8 M411.66 29.90V35.81M407.66 29.90h8M407.66 35.81h8 M411.66 220.02V233.33M407.66 220.02h8M407.66 233.33h8 M415.75 30.75V36.66M411.75 30.75h8M411.75 36.66h8 M415.75 218.85V232.16M411.75 218.85h8M411.75 232.16h8 M419.84 32.44V38.36M415.84 32.44h8M415.84 38.36h8 M419.84 218.68V231.99M415.84 218.68h8M415.84 231.99h8 M423.93 33.92V39.83M419.93 33.92h8M419.93 39.83h8 M423.93 218.10V231.42M419.93 218.10h8M419.93 231.42h8 M428.02 35.66V41.57M424.02 35.66h8M424.02 41.57h8 M428.02 218.22V231.54M424.02 218.22h8M424.02 231.54h8 M432.10 37.37V43.28M428.10 37.37h8M428.10 43.28h8 M432.10 218.44V231.75M428.10 218.44h8M428.10 231.75h8 M436.19 38.98V44.90M432.19 38.98h8M432.19 44.90h8 M436.19 217.81V231.13M432.19 217.81h8M432.19 231.13h8 M440.28 41.08V47.00M436.28 41.08h8M436.28 47.00h8 M440.28 216.82V230.14M436.28 216.82h8M436.28 230.14h8 M444.37 42.98V48.89M440.37 42.98h8M440.37 48.89h8 M444.37 214.87V228.19M440.37 214.87h8M440.37 228.19h8 M448.46 44.65V50.57M444.46 44.65h8M444.46 50.57h8 M448.46 214.56V227.88M444.46 214.56h8M444.46 227.88h8 M452.55 47.24V53.15M448.55 47.24h8M448.55 53.15h8 M452.55 212.44V225.76M448.55 212.44h8M448.55 225.76h8 M456.64 49.76V55.67M452.64 49.76h8M452.64 55.67h8 M456.64 209.55V222.86M452.64 209.55h8M452.64 222.86h8 M460.72 51.55V57.47M456.72 51.55h8M456.72 57.47h8 M460.72 207.28V220.59M456.72 207.28h8M456.72 220.59h8 M464.81 54.34V60.26M460.81 54.34h8M460.81 60.26h8 M464.81 205.45V218.76M460.81 205.45h8M460.81 218.76h8 M468.90 55.84V61.75M464.90 55.84h8M464.90 61.75h8 M468.90 201.87V215.19M464.90 201.87h8M464.90 215.19h8 M472.99 57.89V63.81M468.99 57.89h8M468.99 63.81h8 M472.99 198.81V212.12M468.99 198.81h8M468.99 212.12h8 M477.08 60.79V66.71M473.08 60.79h8M473.08 66.71h8 M477.08 195.40V208.72M473.08 195.40h8M473.08 208.72h8 M481.17 63.66V69.57M477.17 63.66h8M477.17 69.57h8 M481.17 190.87V204.18M477.17 190.87h8M477.17 204.18h8 M485.25 66.67V72.58M481.25 66.67h8M481.25 72.58h8 M485.25 187.94V201.25M481.25 187.94h8M481.25 201.25h8 M489.34 69.04V74.95M485.34 69.04h8M485.34 74.95h8 M489.34 184.87V198.19M485.34 184.87h8M485.34 198.19h8 M493.43 71.77V77.69M489.43 71.77h8M489.43 77.69h8 M493.43 181.49V194.81M489.43 181.49h8M489.43 194.81h8 M497.52 73.87V79.79M493.52 73.87h8M493.52 79.79h8 M497.52 178.12V191.44M493.52 178.12h8M493.52 191.44h8 M501.61 76.39V82.31M497.61 76.39h8M497.61 82.31h8 M501.61 173.26V186.57M497.61 173.26h8M497.61 186.57h8 M505.70 78.70V84.61M501.70 78.70h8M501.70 84.61h8 M505.70 170.65V183.97M501.70 170.65h8M501.70 183.97h8 M509.79 81.11V87.02M505.79 81.11h8M505.79 87.02h8 M509.79 168.78V182.10M505.79 168.78h8M505.79 182.10h8 M513.87 82.32V88.24M509.87 82.32h8M509.87 88.24h8 M513.87 166.13V179.45M509.87 166.13h8M509.87 179.45h8 M517.96 83.84V89.76M513.96 83.84h8M513.96 89.76h8 M517.96 163.11V176.43M513.96 163.11h8M513.96 176.43h8 M522.05 85.83V91.75M518.05 85.83h8M518.05 91.75h8 M522.05 160.87V174.19M518.05 160.87h8M518.05 174.19h8 M526.14 87.82V93.73M522.14 87.82h8M522.14 93.73h8 M526.14 158.74V172.06M522.14 158.74h8M522.14 172.06h8 M530.23 89.06V94.97M526.23 89.06h8M526.23 94.97h8 M530.23 157.90V171.21M526.23 157.90h8M526.23 171.21h8 M534.32 90.66V96.57M530.32 90.66h8M530.32 96.57h8 M534.32 156.10V169.42M530.32 156.10h8M530.32 169.42h8 M538.41 91.79V97.70M534.41 91.79h8M534.41 97.70h8 M538.41 153.82V167.14M534.41 153.82h8M534.41 167.14h8 M542.49 92.61V98.52M538.49 92.61h8M538.49 98.52h8 M542.49 152.03V165.35M538.49 152.03h8M538.49 165.35h8 M546.58 94.09V100.00M542.58 94.09h8M542.58 100.00h8 M546.58 151.83V165.15M542.58 151.83h8M542.58 165.15h8 M550.67 94.82V100.74M546.67 94.82h8M546.67 100.74h8 M550.67 150.65V163.97M546.67 150.65h8M546.67 163.97h8 M554.76 95.74V101.66M550.76 95.74h8M550.76 101.66h8 M554.76 149.52V162.83M550.76 149.52h8M550.76 162.83h8 M558.85 96.12V102.04M554.85 96.12h8M554.85 102.04h8 M558.85 149.13V162.45M554.85 149.13h8M554.85 162.45h8 M562.94 97.31V103.23M558.94 97.31h8M558.94 103.23h8 M562.94 147.13V160.44M558.94 147.13h8M558.94 160.44h8 M567.02 98.18V104.10M563.02 98.18h8M563.02 104.10h8 M567.02 147.30V160.62M563.02 147.30h8M563.02 160.62h8 M571.11 98.05V103.96M567.11 98.05h8M567.11 103.96h8 M571.11 147.03V160.35M567.11 147.03h8M567.11 160.35h8 M575.20 99.03V104.94M571.20 99.03h8M571.20 104.94h8 M575.20 145.98V159.29M571.20 145.98h8M571.20 159.29h8 M579.29 98.89V104.81M575.29 98.89h8M575.29 104.81h8 M579.29 144.81V158.12M575.29 144.81h8M575.29 158.12h8 M583.38 99.29V105.20M579.38 99.29h8M579.38 105.20h8 M583.38 143.84V157.16M579.38 143.84h8M579.38 157.16h8 M587.47 99.35V105.27M583.47 99.35h8M583.47 105.27h8 M587.47 144.14V157.46M583.47 144.14h8M583.47 157.46h8 M591.56 99.42V105.33M587.56 99.42h8M587.56 105.33h8 M591.56 143.24V156.56M587.56 143.24h8M587.56 156.56h8 M595.64 99.40V105.32M591.64 99.40h8M591.64 105.32h8 M595.64 143.46V156.77M591.64 143.46h8M591.64 156.77h8 M599.73 99.11V105.02M595.73 99.11h8M595.73 105.02h8 M599.73 142.51V155.83M595.73 142.51h8M595.73 155.83h8 M603.82 99.29V105.21M599.82 99.29h8M599.82 105.21h8 M603.82 142.83V156.14M599.82 142.83h8M599.82 156.14h8 M607.91 99.76V105.68M603.91 99.76h8M603.91 105.68h8 M607.91 141.88V155.19M603.91 141.88h8M603.91 155.19h8" stroke="#000" stroke-width="0.8" fill="none"/>
<g fill="#000"><circle cx="370.78" cy="29.72" r="1.1"/><circle cx="370.78" cy="227.78" r="1.1"/><circle cx="378.95" cy="29.70" r="1.1"/><circle cx="378.95" cy="227.83" r="1.1"/><circle cx="383.04" cy="30.10" r="1.1"/><circle cx="383.04" cy="228.26" r="1.1"/><circle cx="387.13" cy="30.57" r="1.1"/><circle cx="387.13" cy="227.73" r="1.1"/><circle cx="391.22" cy="30.75" r="1.1"/><circle cx="391.22" cy="227.67" r="1.1"/><circle cx="395.31" cy="31.03" r="1.1"/><circle cx="395.31" cy="227.90" r="1.1"/><circle cx="399.40" cy="31.43" r="1.1"/><circle cx="399.40" cy="228.43" r="1.1"/><circle cx="403.49" cy="32.01" r="1.1"/><circle cx="403.49" cy="228.06" r="1.1"/><circle cx="407.57" cy="32.27" r="1.1"/><circle cx="407.57" cy="228.09" r="1.1"/><circle cx="411.66" cy="32.86" r="1.1"/><circle cx="411.66" cy="226.68" r="1.1"/><circle cx="415.75" cy="33.71" r="1.1"/><circle cx="415.75" cy="225.51" r="1.1"/><circle cx="419.84" cy="35.40" r="1.1"/><circle cx="419.84" cy="225.33" r="1.1"/><circle cx="423.93" cy="36.88" r="1.1"/><circle cx="423.93" cy="224.76" r="1.1"/><circle cx="428.02" cy="38.61" r="1.1"/><circle cx="428.02" cy="224.88" r="1.1"/><circle cx="432.10" cy="40.33" r="1.1"/><circle cx="432.10" cy="225.09" r="1.1"/><circle cx="436.19" cy="41.94" r="1.1"/><circle cx="436.19" cy="224.47" r="1.1"/><circle cx="440.28" cy="44.04" r="1.1"/><circle cx="440.28" cy="223.48" r="1.1"/><circle cx="444.37" cy="45.93" r="1.1"/><circle cx="444.37" cy="221.53" r="1.1"/><circle cx="448.46" cy="47.61" r="1.1"/><circle cx="448.46" cy="221.22" r="1.1"/><circle cx="452.55" cy="50.20" r="1.1"/><circle cx="452.55" cy="219.10" r="1.1"/><circle cx="456.64" cy="52.72" r="1.1"/><circle cx="456.64" cy="216.20" r="1.1"/><circle cx="460.72" cy="54.51" r="1.1"/><circle cx="460.72" cy="213.94" r="1.1"/><circle cx="464.81" cy="57.30" r="1.1"/><circle cx="464.81" cy="212.11" r="1.1"/><circle cx="468.90" cy="58.80" r="1.1"/><circle cx="468.90" cy="208.53" r="1.1"/><circle cx="472.99" cy="60.85" r="1.1"/><circle cx="472.99" cy="205.46" r="1.1"/><circle cx="477.08" cy="63.75" r="1.1"/><circle cx="477.08" cy="202.06" r="1.1"/><circle cx="481.17" cy="66.61" r="1.1"/><circle cx="481.17" cy="197.53" r="1.1"/><circle cx="485.25" cy="69.63" r="1.1"/><circle cx="485.25" cy="194.60" r="1.1"/><circle cx="489.34" cy="71.99" r="1.1"/><circle cx="489.34" cy="191.53" r="1.1"/><circle cx="493.43" cy="74.73" r="1.1"/><circle cx="493.43" cy="188.15" r="1.1"/><circle cx="497.52" cy="76.83" r="1.1"/><circle cx="497.52" cy="184.78" r="1.1"/><circle cx="501.61" cy="79.35" r="1.1"/><circle cx="501.61" cy="179.91" r="1.1"/><circle cx="505.70" cy="81.65" r="1.1"/><circle cx="505.70" cy="177.31" r="1.1"/><circle cx="509.79" cy="84.06" r="1.1"/><circle cx="509.79" cy="175.44" r="1.1"/><circle cx="513.87" cy="85.28" r="1.1"/><circle cx="513.87" cy="172.79" r="1.1"/><circle cx="517.96" cy="86.80" r="1.1"/><circle cx="517.96" cy="169.77" r="1.1"/><circle cx="522.05" cy="88.79" r="1.1"/><circle cx="522.05" cy="167.53" r="1.1"/><circle cx="526.14" cy="90.77" r="1.1"/><circle cx="526.14" cy="165.40" r="1.1"/><circle cx="530.23" cy="92.01" r="1.1"/><circle cx="530.23" cy="164.55" r="1.1"/><circle cx="534.32" cy="93.61" r="1.1"/><circle cx="534.32" cy="162.76" r="1.1"/><circle cx="538.41" cy="94.74" r="1.1"/><circle cx="538.41" cy="160.48" r="1.1"/><circle cx="542.49" cy="95.56" r="1.1"/><circle cx="542.49" cy="158.69" r="1.1"/><circle cx="546.58" cy="97.05" r="1.1"/><circle cx="546.58" cy="158.49" r="1.1"/><circle cx="550.67" cy="97.78" r="1.1"/><circle cx="550.67" cy="157.31" r="1.1"/><circle cx="554.76" cy="98.70" r="1.1"/><circle cx="554.76" cy="156.18" r="1.1"/><circle cx="558.85" cy="99.08" r="1.1"/><circle cx="558.85" cy="155.79" r="1.1"/><circle cx="562.94" cy="100.27" r="1.1"/><circle cx="562.94" cy="153.78" r="1.1"/><circle cx="567.02" cy="101.14" r="1.1"/><circle cx="567.02" cy="153.96" r="1.1"/><circle cx="571.11" cy="101.01" r="1.1"/><circle cx="571.11" cy="153.69" r="1.1"/><circle cx="575.20" cy="101.99" r="1.1"/><circle cx="575.20" cy="152.63" r="1.1"/><circle cx="579.29" cy="101.85" r="1.1"/><circle cx="579.29" cy="151.46" r="1.1"/><circle cx="583.38" cy="102.24" r="1.1"/><circle cx="583.38" cy="150.50" r="1.1"/><circle cx="587.47" cy="102.31" r="1.1"/><circle cx="587.47" cy="150.80" r="1.1"/><circle cx="591.56" cy="102.38" r="1.1"/><circle cx="591.56" cy="149.90" r="1.1"/><circle cx="595.64" cy="102.36" r="1.1"/><circle cx="595.64" cy="150.12" r="1.1"/><circle cx="599.73" cy="102.06" r="1.1"/><circle cx="599.73" cy="149.17" r="1.1"/><circle cx="603.82" cy="102.25" r="1.1"/><circle cx="603.82" cy="149.48" r="1.1"/><circle cx="607.91" cy="102.72" r="1.1"/><circle cx="607.91" cy="148.54" r="1.1"/></g>
</svg></body></html>
